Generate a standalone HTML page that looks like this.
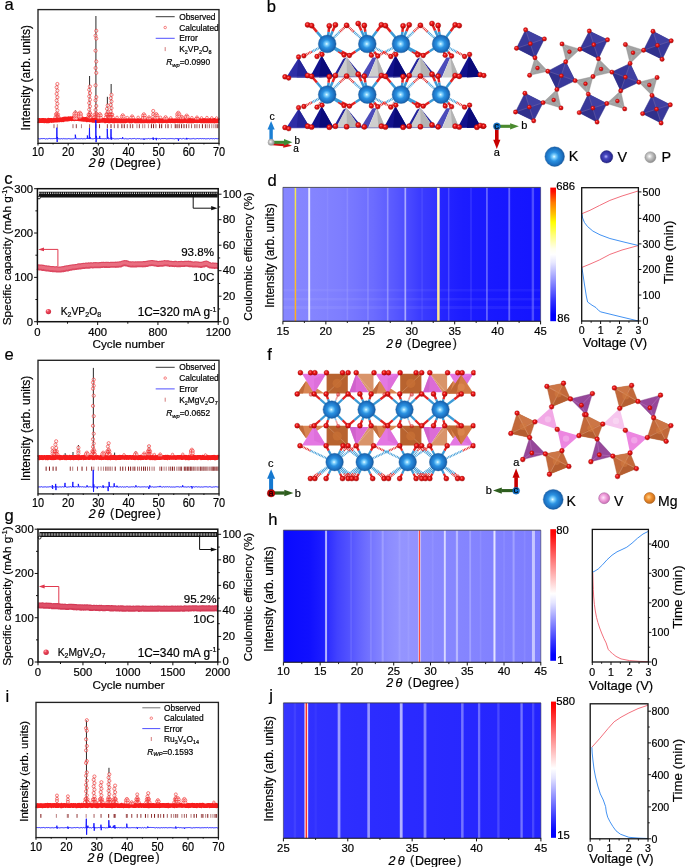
<!DOCTYPE html>
<html><head><meta charset="utf-8"><title>figure</title>
<style>
html,body{margin:0;padding:0;background:#fff;}
body{width:685px;height:867px;overflow:hidden;}
svg{display:block;font-family:"Liberation Sans",sans-serif;will-change:transform;}
text{stroke:#000;stroke-width:0.2px;paint-order:stroke;}
</style></head><body>
<svg width="685" height="867" viewBox="0 0 685 867">
<defs>
<filter id="bx" x="-5%" y="-5%" width="110%" height="110%"><feGaussianBlur stdDeviation="0.55 0"/></filter>
<radialGradient id="rb" cx="35%" cy="30%" r="75%"><stop offset="0" stop-color="#ffb0b8"/><stop offset="0.35" stop-color="#ee4a5c"/><stop offset="1" stop-color="#c8283e"/></radialGradient>
<linearGradient id="hm1" x1="0" y1="0" x2="1" y2="0"><stop offset="0" stop-color="#8686ff"/><stop offset="0.12" stop-color="#8484ff"/><stop offset="0.22" stop-color="#7e7eff"/><stop offset="0.28" stop-color="#7676ff"/><stop offset="0.35" stop-color="#6c6cff"/><stop offset="0.41" stop-color="#5e5eff"/><stop offset="0.48" stop-color="#4c4cff"/><stop offset="0.53" stop-color="#3c3cff"/><stop offset="0.6" stop-color="#3232ff"/><stop offset="0.61" stop-color="#2626ff"/><stop offset="0.7" stop-color="#1c1cff"/><stop offset="0.83" stop-color="#1818ff"/><stop offset="1" stop-color="#1414ff"/></linearGradient>
<linearGradient id="hm1l1646" x1="0" y1="0" x2="0" y2="1"><stop offset="0" stop-color="#f4ec50"/><stop offset="1" stop-color="#ffa818"/></linearGradient>
<linearGradient id="hm1l3310" x1="0" y1="0" x2="0" y2="1"><stop offset="0" stop-color="#fffad8"/><stop offset="1" stop-color="#ffe488"/></linearGradient>
<linearGradient id="cb1" x1="0" y1="0" x2="0" y2="1"><stop offset="0" stop-color="#ff0000"/><stop offset="0.03" stop-color="#ff1000"/><stop offset="0.11" stop-color="#ff7800"/><stop offset="0.2" stop-color="#ffc400"/><stop offset="0.26" stop-color="#ffff00"/><stop offset="0.36" stop-color="#ffff80"/><stop offset="0.46" stop-color="#fffff0"/><stop offset="0.5" stop-color="#ffffff"/><stop offset="0.56" stop-color="#e8e8ff"/><stop offset="0.7" stop-color="#9090ff"/><stop offset="0.85" stop-color="#3030ff"/><stop offset="0.95" stop-color="#0000ff"/><stop offset="1" stop-color="#0000ff"/></linearGradient>
<linearGradient id="hm2" x1="0" y1="0" x2="1" y2="0"><stop offset="0" stop-color="#0a0aff"/><stop offset="0.1" stop-color="#1010ff"/><stop offset="0.16" stop-color="#1e1eff"/><stop offset="0.18" stop-color="#3232ff"/><stop offset="0.21" stop-color="#4242ff"/><stop offset="0.26" stop-color="#5454ff"/><stop offset="0.31" stop-color="#6a6aff"/><stop offset="0.37" stop-color="#8080ff"/><stop offset="0.41" stop-color="#8c8cff"/><stop offset="0.46" stop-color="#9494ff"/><stop offset="0.53" stop-color="#9292ff"/><stop offset="0.54" stop-color="#8a8aff"/><stop offset="0.66" stop-color="#8686ff"/><stop offset="0.8" stop-color="#8282ff"/><stop offset="1" stop-color="#7e7eff"/></linearGradient>
<linearGradient id="cb2" x1="0" y1="0" x2="0" y2="1"><stop offset="0" stop-color="#ff0000"/><stop offset="0.04" stop-color="#ff0808"/><stop offset="0.25" stop-color="#ff8080"/><stop offset="0.4" stop-color="#ffd0d0"/><stop offset="0.49" stop-color="#ffffff"/><stop offset="0.56" stop-color="#e4e4ff"/><stop offset="0.7" stop-color="#9090ff"/><stop offset="0.85" stop-color="#3838ff"/><stop offset="0.95" stop-color="#0404ff"/><stop offset="1" stop-color="#0000ff"/></linearGradient>
<linearGradient id="hm3" x1="0" y1="0" x2="1" y2="0"><stop offset="0" stop-color="#3636ff"/><stop offset="0.12" stop-color="#3030ff"/><stop offset="0.35" stop-color="#2c2cff"/><stop offset="0.65" stop-color="#2828ff"/><stop offset="1" stop-color="#2424ff"/></linearGradient>
<linearGradient id="cb3" x1="0" y1="0" x2="0" y2="1"><stop offset="0" stop-color="#ff0000"/><stop offset="0.04" stop-color="#ff0808"/><stop offset="0.25" stop-color="#ff8080"/><stop offset="0.4" stop-color="#ffd0d0"/><stop offset="0.49" stop-color="#ffffff"/><stop offset="0.56" stop-color="#e4e4ff"/><stop offset="0.7" stop-color="#9090ff"/><stop offset="0.85" stop-color="#3838ff"/><stop offset="0.95" stop-color="#0404ff"/><stop offset="1" stop-color="#0000ff"/></linearGradient>
<radialGradient id="gK" cx="47%" cy="50%" r="55%"><stop offset="0" stop-color="#f0fbff"/><stop offset="0.14" stop-color="#8ad8ff"/><stop offset="0.42" stop-color="#2b92e2"/><stop offset="0.8" stop-color="#1a6cbc"/><stop offset="1" stop-color="#145292"/></radialGradient>
<radialGradient id="gO" cx="40%" cy="38%" r="65%"><stop offset="0" stop-color="#ff8a8a"/><stop offset="0.35" stop-color="#f01818"/><stop offset="1" stop-color="#b00808"/></radialGradient>
<radialGradient id="gV" cx="45%" cy="48%" r="58%"><stop offset="0" stop-color="#b8b8ff"/><stop offset="0.3" stop-color="#4848c0"/><stop offset="0.8" stop-color="#2a2a96"/><stop offset="1" stop-color="#20207a"/></radialGradient>
<radialGradient id="gP" cx="42%" cy="42%" r="60%"><stop offset="0" stop-color="#ffffff"/><stop offset="0.4" stop-color="#c4c4c4"/><stop offset="1" stop-color="#8a8a8a"/></radialGradient>
<radialGradient id="gVp" cx="42%" cy="45%" r="60%"><stop offset="0" stop-color="#ffe6fa"/><stop offset="0.45" stop-color="#f0a0dc"/><stop offset="1" stop-color="#c868b0"/></radialGradient>
<radialGradient id="gMg" cx="42%" cy="42%" r="60%"><stop offset="0" stop-color="#ffd08a"/><stop offset="0.45" stop-color="#f09030"/><stop offset="1" stop-color="#c06818"/></radialGradient>
</defs>
<rect width="685" height="867" fill="#fff"/>
<text x="4.6" y="9.6" font-size="16.6" text-anchor="start" fill="#000">a</text>
<text x="266.8" y="12.4" font-size="16.6" text-anchor="start" fill="#000">b</text>
<text x="4.2" y="184.4" font-size="16.6" text-anchor="start" fill="#000">c</text>
<text x="267.6" y="185.7" font-size="16.6" text-anchor="start" fill="#000">d</text>
<text x="4.6" y="359.6" font-size="16.6" text-anchor="start" fill="#000">e</text>
<text x="267.2" y="359.8" font-size="16.6" text-anchor="start" fill="#000">f</text>
<text x="4.4" y="521" font-size="16.6" text-anchor="start" fill="#000">g</text>
<text x="268.2" y="525" font-size="16.6" text-anchor="start" fill="#000">h</text>
<text x="5.4" y="702.4" font-size="16.6" text-anchor="start" fill="#000">i</text>
<text x="269.2" y="700.8" font-size="16.6" text-anchor="start" fill="#000">j</text>
<line x1="57.01" y1="120.7" x2="57.01" y2="84" stroke="#555" stroke-width="0.6"/>
<line x1="75.41" y1="120.7" x2="75.41" y2="110.5" stroke="#111" stroke-width="0.9"/>
<line x1="79.93" y1="120.7" x2="79.93" y2="112.7" stroke="#555" stroke-width="0.6"/>
<line x1="89.59" y1="120.7" x2="89.59" y2="76" stroke="#111" stroke-width="0.9"/>
<line x1="95.92" y1="120.7" x2="95.92" y2="16" stroke="#111" stroke-width="0.9"/>
<line x1="99.84" y1="120.7" x2="99.84" y2="114" stroke="#555" stroke-width="0.6"/>
<line x1="107.38" y1="120.7" x2="107.38" y2="96.8" stroke="#111" stroke-width="0.9"/>
<line x1="111.15" y1="120.7" x2="111.15" y2="84" stroke="#111" stroke-width="0.9"/>
<line x1="122.77" y1="120.7" x2="122.77" y2="115.2" stroke="#555" stroke-width="0.6"/>
<line x1="132.12" y1="120.7" x2="132.12" y2="116.2" stroke="#555" stroke-width="0.6"/>
<line x1="143.88" y1="120.7" x2="143.88" y2="114.2" stroke="#555" stroke-width="0.6"/>
<line x1="153.24" y1="120.7" x2="153.24" y2="111" stroke="#555" stroke-width="0.6"/>
<line x1="156.25" y1="120.7" x2="156.25" y2="114" stroke="#555" stroke-width="0.6"/>
<line x1="165.6" y1="120.7" x2="165.6" y2="117" stroke="#555" stroke-width="0.6"/>
<line x1="178.28" y1="120.7" x2="178.28" y2="112.8" stroke="#555" stroke-width="0.6"/>
<line x1="186.72" y1="120.7" x2="186.72" y2="115.5" stroke="#555" stroke-width="0.6"/>
<line x1="196.98" y1="120.7" x2="196.98" y2="117.2" stroke="#555" stroke-width="0.6"/>
<line x1="206.93" y1="120.7" x2="206.93" y2="117.6" stroke="#555" stroke-width="0.6"/>
<line x1="117.04" y1="120.7" x2="117.04" y2="117.4" stroke="#555" stroke-width="0.6"/>
<line x1="127.29" y1="120.7" x2="127.29" y2="117.6" stroke="#555" stroke-width="0.6"/>
<line x1="138.15" y1="120.7" x2="138.15" y2="117.4" stroke="#555" stroke-width="0.6"/>
<line x1="149.01" y1="120.7" x2="149.01" y2="117" stroke="#555" stroke-width="0.6"/>
<line x1="160.48" y1="120.7" x2="160.48" y2="117.4" stroke="#555" stroke-width="0.6"/>
<line x1="170.73" y1="120.7" x2="170.73" y2="117.8" stroke="#555" stroke-width="0.6"/>
<line x1="181.9" y1="120.7" x2="181.9" y2="116.6" stroke="#555" stroke-width="0.6"/>
<line x1="191.85" y1="120.7" x2="191.85" y2="117.6" stroke="#555" stroke-width="0.6"/>
<line x1="201.5" y1="120.7" x2="201.5" y2="117.8" stroke="#555" stroke-width="0.6"/>
<line x1="211.76" y1="120.7" x2="211.76" y2="117.8" stroke="#555" stroke-width="0.6"/>
<line x1="216.59" y1="120.7" x2="216.59" y2="117.9" stroke="#555" stroke-width="0.6"/>
<path d="M38 120.57 L38.5 120.45 L39 120.8 L39.5 120.39 L40 120.71 L40.5 120.59 L41 120.37 L41.5 120.69 L42 120.35 L42.5 120.63 L43 120.37 L43.5 120.38 L44 120.61 L44.5 120.88 L45 120.38 L45.5 120.45 L46 120.72 L46.5 120.94 L47 120.67 L47.5 120.53 L48 120.93 L48.5 120.26 L49 120.82 L49.5 120.4 L50 120.28 L50.5 120.25 L51 120.36 L51.5 120.69 L52 120.22 L52.5 120.48 L53 120.49 L53.5 120.28 L54 120.37 L54.5 119.99 L55 119.96 L55.5 120.02 L56 120.31 L56.5 120.09 L57 119.97 L57.5 120.11 L58 119.97 L58.5 119.82 L59 120.11 L59.5 119.99 L60 119.61 L60.5 119.79 L61 119.69 L61.5 119.88 L62 119.72 L62.5 119.35 L63 119.77 L63.5 119.1 L64 119.25 L64.5 119.43 L65 118.94 L65.5 119.11 L66 118.74 L66.5 119.12 L67 119.13 L67.5 118.95 L68 119.1 L68.5 118.66 L69 118.88 L69.5 118.77 L70 118.72 L70.5 118.6 L71 118.83 L71.5 118.88 L72 118.53 L72.5 118.64 L73 118.21 L73.5 118.65 L74 118.6 L74.5 118.85 L75 118.73 L75.5 118.37 L76 118.45 L76.5 118.67 L77 118.24 L77.5 118.58 L78 118.4 L78.5 118.4 L79 118.4 L79.5 118.94 L80 118.54 L80.5 118.68 L81 118.83 L81.5 119.22 L82 118.72 L82.5 119.04 L83 119.17 L83.5 119.46 L84 119.48 L84.5 119.57 L85 119.23 L85.5 119.39 L86 119.41 L86.5 119.84 L87 119.95 L87.5 119.44 L88 119.52 L88.5 119.62 L89 119.67 L89.5 119.9 L90 120.03 L90.5 119.85 L91 119.72 L91.5 120.05 L92 120.06 L92.5 120.24 L93 120.55 L93.5 120.41 L94 120.32 L94.5 120.42 L95 120.49 L95.5 120.09 L96 120.71 L96.5 120.65 L97 120.74 L97.5 120.71 L98 120.44 L98.5 120.47 L99 120.28 L99.5 120.66 L100 120.28 L100.5 120.29 L101 120.4 L101.5 120.38 L102 120.51 L102.5 120.32 L103 120.29 L103.5 120.41 L104 120.38 L104.5 120.57 L105 120.33 L105.5 120.93 L106 120.75 L106.5 120.43 L107 120.51 L107.5 120.58 L108 120.59 L108.5 120.42 L109 120.93 L109.5 121.04 L110 120.67 L110.5 120.68 L111 120.4 L111.5 120.42 L112 120.59 L112.5 120.53 L113 120.93 L113.5 120.46 L114 120.36 L114.5 121.01 L115 120.72 L115.5 120.45 L116 120.73 L116.5 120.37 L117 120.72 L117.5 121.03 L118 120.95 L118.5 120.84 L119 120.53 L119.5 120.61 L120 120.47 L120.5 120.89 L121 120.72 L121.5 120.9 L122 120.58 L122.5 120.51 L123 120.92 L123.5 121.04 L124 120.95 L124.5 120.91 L125 120.92 L125.5 120.87 L126 120.51 L126.5 120.71 L127 120.6 L127.5 120.37 L128 120.37 L128.5 120.55 L129 120.53 L129.5 120.83 L130 121.02 L130.5 120.66 L131 121.01 L131.5 121.04 L132 121.02 L132.5 120.61 L133 120.5 L133.5 120.51 L134 120.49 L134.5 120.49 L135 120.79 L135.5 120.98 L136 120.94 L136.5 120.69 L137 120.81 L137.5 120.91 L138 120.41 L138.5 120.81 L139 120.99 L139.5 120.9 L140 120.88 L140.5 120.68 L141 120.47 L141.5 120.9 L142 120.58 L142.5 120.91 L143 121.03 L143.5 120.63 L144 120.63 L144.5 121.01 L145 120.86 L145.5 120.47 L146 120.44 L146.5 120.46 L147 120.98 L147.5 120.91 L148 120.45 L148.5 120.93 L149 121.04 L149.5 120.81 L150 120.6 L150.5 120.73 L151 120.44 L151.5 120.36 L152 121.03 L152.5 120.8 L153 120.72 L153.5 121 L154 120.65 L154.5 120.96 L155 120.93 L155.5 120.5 L156 120.53 L156.5 120.56 L157 120.52 L157.5 120.76 L158 120.53 L158.5 120.64 L159 120.44 L159.5 120.99 L160 120.6 L160.5 120.67 L161 120.76 L161.5 120.98 L162 120.64 L162.5 120.99 L163 120.7 L163.5 120.72 L164 120.72 L164.5 120.36 L165 120.66 L165.5 120.48 L166 120.35 L166.5 120.91 L167 120.47 L167.5 120.68 L168 120.86 L168.5 120.74 L169 120.58 L169.5 120.71 L170 120.74 L170.5 120.9 L171 120.42 L171.5 120.74 L172 120.52 L172.5 120.54 L173 120.89 L173.5 120.71 L174 120.74 L174.5 120.88 L175 120.99 L175.5 120.66 L176 120.78 L176.5 120.7 L177 120.71 L177.5 120.83 L178 120.67 L178.5 120.72 L179 120.68 L179.5 121.01 L180 120.84 L180.5 120.96 L181 121.01 L181.5 120.53 L182 120.74 L182.5 121.01 L183 120.94 L183.5 120.45 L184 120.44 L184.5 120.66 L185 120.4 L185.5 120.52 L186 120.4 L186.5 120.82 L187 120.9 L187.5 120.98 L188 120.46 L188.5 120.85 L189 120.81 L189.5 120.45 L190 120.97 L190.5 121.03 L191 120.5 L191.5 121.02 L192 120.63 L192.5 120.69 L193 121.04 L193.5 120.93 L194 120.46 L194.5 120.65 L195 120.71 L195.5 120.59 L196 120.49 L196.5 120.57 L197 120.86 L197.5 120.36 L198 120.74 L198.5 120.66 L199 120.36 L199.5 120.58 L200 120.79 L200.5 120.71 L201 120.4 L201.5 121.04 L202 120.9 L202.5 121.03 L203 120.42 L203.5 120.54 L204 120.38 L204.5 120.9 L205 120.54 L205.5 120.44 L206 120.65 L206.5 120.99 L207 120.92 L207.5 120.53 L208 120.45 L208.5 120.99 L209 120.75 L209.5 120.84 L210 120.41 L210.5 120.39 L211 120.83 L211.5 120.65 L212 120.4 L212.5 121.01 L213 120.79 L213.5 120.91 L214 120.41 L214.5 120.95 L215 120.4 L215.5 120.95 L216 120.67 L216.5 120.59 L217 120.74 L217.5 121 L218 120.54 L218.5 120.44 L219 120.72" fill="none" stroke="#f81c1c" stroke-width="4.6" stroke-linejoin="round"/>
<circle cx="57.36" cy="84" r="1.6" fill="#fff" stroke="#f22a2a" stroke-width="0.62" fill-opacity="0.72"/>
<circle cx="56.66" cy="87.3" r="1.6" fill="#fff" stroke="#f22a2a" stroke-width="0.62" fill-opacity="0.72"/>
<circle cx="57.36" cy="90.6" r="1.6" fill="#fff" stroke="#f22a2a" stroke-width="0.62" fill-opacity="0.72"/>
<circle cx="56.66" cy="93.9" r="1.6" fill="#fff" stroke="#f22a2a" stroke-width="0.62" fill-opacity="0.72"/>
<circle cx="57.36" cy="97.2" r="1.6" fill="#fff" stroke="#f22a2a" stroke-width="0.62" fill-opacity="0.72"/>
<circle cx="56.66" cy="100.5" r="1.6" fill="#fff" stroke="#f22a2a" stroke-width="0.62" fill-opacity="0.72"/>
<circle cx="57.36" cy="103.8" r="1.6" fill="#fff" stroke="#f22a2a" stroke-width="0.62" fill-opacity="0.72"/>
<circle cx="56.66" cy="107.1" r="1.6" fill="#fff" stroke="#f22a2a" stroke-width="0.62" fill-opacity="0.72"/>
<circle cx="57.36" cy="110.4" r="1.6" fill="#fff" stroke="#f22a2a" stroke-width="0.62" fill-opacity="0.72"/>
<circle cx="56.66" cy="113.7" r="1.6" fill="#fff" stroke="#f22a2a" stroke-width="0.62" fill-opacity="0.72"/>
<circle cx="57.36" cy="116" r="1.6" fill="#fff" stroke="#f22a2a" stroke-width="0.62" fill-opacity="0.72"/>
<circle cx="55.41" cy="117.5" r="1.6" fill="none" stroke="#f22a2a" stroke-width="0.62"/>
<circle cx="58.61" cy="117.5" r="1.6" fill="none" stroke="#f22a2a" stroke-width="0.62"/>
<circle cx="56.01" cy="114.5" r="1.6" fill="none" stroke="#f22a2a" stroke-width="0.62"/>
<circle cx="58.01" cy="114.5" r="1.6" fill="none" stroke="#f22a2a" stroke-width="0.62"/>
<circle cx="75.41" cy="112.5" r="1.6" fill="#fff" stroke="#f22a2a" stroke-width="0.62" fill-opacity="0.72"/>
<circle cx="75.41" cy="114.8" r="1.6" fill="#fff" stroke="#f22a2a" stroke-width="0.62" fill-opacity="0.72"/>
<circle cx="75.41" cy="117.1" r="1.6" fill="#fff" stroke="#f22a2a" stroke-width="0.62" fill-opacity="0.72"/>
<circle cx="74.41" cy="113.9" r="1.6" fill="#fff" stroke="#f22a2a" stroke-width="0.6" fill-opacity="0.6"/>
<circle cx="76.41" cy="113.9" r="1.6" fill="#fff" stroke="#f22a2a" stroke-width="0.6" fill-opacity="0.6"/>
<circle cx="74.41" cy="116.2" r="1.6" fill="#fff" stroke="#f22a2a" stroke-width="0.6" fill-opacity="0.6"/>
<circle cx="76.41" cy="116.2" r="1.6" fill="#fff" stroke="#f22a2a" stroke-width="0.6" fill-opacity="0.6"/>
<circle cx="74.41" cy="118.5" r="1.6" fill="#fff" stroke="#f22a2a" stroke-width="0.6" fill-opacity="0.6"/>
<circle cx="76.41" cy="118.5" r="1.6" fill="#fff" stroke="#f22a2a" stroke-width="0.6" fill-opacity="0.6"/>
<circle cx="79.93" cy="112.7" r="1.6" fill="#fff" stroke="#f22a2a" stroke-width="0.62" fill-opacity="0.72"/>
<circle cx="79.93" cy="115" r="1.6" fill="#fff" stroke="#f22a2a" stroke-width="0.62" fill-opacity="0.72"/>
<circle cx="79.93" cy="117.3" r="1.6" fill="#fff" stroke="#f22a2a" stroke-width="0.62" fill-opacity="0.72"/>
<circle cx="78.93" cy="114.1" r="1.6" fill="#fff" stroke="#f22a2a" stroke-width="0.6" fill-opacity="0.6"/>
<circle cx="80.93" cy="114.1" r="1.6" fill="#fff" stroke="#f22a2a" stroke-width="0.6" fill-opacity="0.6"/>
<circle cx="78.93" cy="116.4" r="1.6" fill="#fff" stroke="#f22a2a" stroke-width="0.6" fill-opacity="0.6"/>
<circle cx="80.93" cy="116.4" r="1.6" fill="#fff" stroke="#f22a2a" stroke-width="0.6" fill-opacity="0.6"/>
<circle cx="89.94" cy="86.5" r="1.6" fill="#fff" stroke="#f22a2a" stroke-width="0.62" fill-opacity="0.72"/>
<circle cx="89.24" cy="89.8" r="1.6" fill="#fff" stroke="#f22a2a" stroke-width="0.62" fill-opacity="0.72"/>
<circle cx="89.94" cy="93.1" r="1.6" fill="#fff" stroke="#f22a2a" stroke-width="0.62" fill-opacity="0.72"/>
<circle cx="89.24" cy="96.4" r="1.6" fill="#fff" stroke="#f22a2a" stroke-width="0.62" fill-opacity="0.72"/>
<circle cx="89.94" cy="99.7" r="1.6" fill="#fff" stroke="#f22a2a" stroke-width="0.62" fill-opacity="0.72"/>
<circle cx="89.24" cy="103" r="1.6" fill="#fff" stroke="#f22a2a" stroke-width="0.62" fill-opacity="0.72"/>
<circle cx="89.94" cy="106.3" r="1.6" fill="#fff" stroke="#f22a2a" stroke-width="0.62" fill-opacity="0.72"/>
<circle cx="89.24" cy="109.6" r="1.6" fill="#fff" stroke="#f22a2a" stroke-width="0.62" fill-opacity="0.72"/>
<circle cx="89.94" cy="112.9" r="1.6" fill="#fff" stroke="#f22a2a" stroke-width="0.62" fill-opacity="0.72"/>
<circle cx="89.24" cy="115.2" r="1.6" fill="#fff" stroke="#f22a2a" stroke-width="0.62" fill-opacity="0.72"/>
<circle cx="89.94" cy="117.5" r="1.6" fill="#fff" stroke="#f22a2a" stroke-width="0.62" fill-opacity="0.72"/>
<circle cx="87.99" cy="117.5" r="1.6" fill="none" stroke="#f22a2a" stroke-width="0.62"/>
<circle cx="91.19" cy="117.5" r="1.6" fill="none" stroke="#f22a2a" stroke-width="0.62"/>
<circle cx="88.59" cy="114.5" r="1.6" fill="none" stroke="#f22a2a" stroke-width="0.62"/>
<circle cx="90.59" cy="114.5" r="1.6" fill="none" stroke="#f22a2a" stroke-width="0.62"/>
<circle cx="96.27" cy="30.8" r="1.6" fill="#fff" stroke="#f22a2a" stroke-width="0.62" fill-opacity="0.45"/>
<circle cx="95.57" cy="35.7" r="1.6" fill="#fff" stroke="#f22a2a" stroke-width="0.62" fill-opacity="0.45"/>
<circle cx="96.27" cy="38.6" r="1.6" fill="#fff" stroke="#f22a2a" stroke-width="0.62" fill-opacity="0.45"/>
<circle cx="95.57" cy="50.7" r="1.6" fill="#fff" stroke="#f22a2a" stroke-width="0.62" fill-opacity="0.45"/>
<circle cx="96.27" cy="61.5" r="1.6" fill="#fff" stroke="#f22a2a" stroke-width="0.62" fill-opacity="0.45"/>
<circle cx="95.57" cy="68" r="1.6" fill="#fff" stroke="#f22a2a" stroke-width="0.62" fill-opacity="0.45"/>
<circle cx="96.27" cy="72.9" r="1.6" fill="#fff" stroke="#f22a2a" stroke-width="0.62" fill-opacity="0.45"/>
<circle cx="95.57" cy="85.3" r="1.6" fill="#fff" stroke="#f22a2a" stroke-width="0.62" fill-opacity="0.45"/>
<circle cx="96.27" cy="97.1" r="1.6" fill="#fff" stroke="#f22a2a" stroke-width="0.62" fill-opacity="0.45"/>
<circle cx="95.57" cy="100.3" r="1.6" fill="#fff" stroke="#f22a2a" stroke-width="0.62" fill-opacity="0.45"/>
<circle cx="96.27" cy="106" r="1.6" fill="#fff" stroke="#f22a2a" stroke-width="0.62" fill-opacity="0.45"/>
<circle cx="95.57" cy="110" r="1.6" fill="#fff" stroke="#f22a2a" stroke-width="0.62" fill-opacity="0.45"/>
<circle cx="96.27" cy="113.6" r="1.6" fill="#fff" stroke="#f22a2a" stroke-width="0.62" fill-opacity="0.45"/>
<circle cx="95.57" cy="116.4" r="1.6" fill="#fff" stroke="#f22a2a" stroke-width="0.62" fill-opacity="0.45"/>
<circle cx="94.32" cy="117.5" r="1.6" fill="none" stroke="#f22a2a" stroke-width="0.62"/>
<circle cx="97.52" cy="117.5" r="1.6" fill="none" stroke="#f22a2a" stroke-width="0.62"/>
<circle cx="94.92" cy="114.5" r="1.6" fill="none" stroke="#f22a2a" stroke-width="0.62"/>
<circle cx="96.92" cy="114.5" r="1.6" fill="none" stroke="#f22a2a" stroke-width="0.62"/>
<circle cx="99.84" cy="114" r="1.5" fill="#fff" stroke="#f22a2a" stroke-width="0.62" fill-opacity="0.72"/>
<circle cx="99.84" cy="116.3" r="1.5" fill="#fff" stroke="#f22a2a" stroke-width="0.62" fill-opacity="0.72"/>
<circle cx="98.84" cy="115.4" r="1.5" fill="#fff" stroke="#f22a2a" stroke-width="0.6" fill-opacity="0.6"/>
<circle cx="100.84" cy="115.4" r="1.5" fill="#fff" stroke="#f22a2a" stroke-width="0.6" fill-opacity="0.6"/>
<circle cx="98.84" cy="117.7" r="1.5" fill="#fff" stroke="#f22a2a" stroke-width="0.6" fill-opacity="0.6"/>
<circle cx="100.84" cy="117.7" r="1.5" fill="#fff" stroke="#f22a2a" stroke-width="0.6" fill-opacity="0.6"/>
<circle cx="107.73" cy="105.5" r="1.6" fill="#fff" stroke="#f22a2a" stroke-width="0.62" fill-opacity="0.72"/>
<circle cx="107.03" cy="108.8" r="1.6" fill="#fff" stroke="#f22a2a" stroke-width="0.62" fill-opacity="0.72"/>
<circle cx="107.73" cy="112.1" r="1.6" fill="#fff" stroke="#f22a2a" stroke-width="0.62" fill-opacity="0.72"/>
<circle cx="107.03" cy="114.4" r="1.6" fill="#fff" stroke="#f22a2a" stroke-width="0.62" fill-opacity="0.72"/>
<circle cx="107.73" cy="116.7" r="1.6" fill="#fff" stroke="#f22a2a" stroke-width="0.62" fill-opacity="0.72"/>
<circle cx="105.78" cy="117.5" r="1.6" fill="none" stroke="#f22a2a" stroke-width="0.62"/>
<circle cx="108.98" cy="117.5" r="1.6" fill="none" stroke="#f22a2a" stroke-width="0.62"/>
<circle cx="106.38" cy="114.5" r="1.6" fill="none" stroke="#f22a2a" stroke-width="0.62"/>
<circle cx="108.38" cy="114.5" r="1.6" fill="none" stroke="#f22a2a" stroke-width="0.62"/>
<circle cx="111.5" cy="94.9" r="1.6" fill="#fff" stroke="#f22a2a" stroke-width="0.62" fill-opacity="0.72"/>
<circle cx="110.8" cy="98.2" r="1.6" fill="#fff" stroke="#f22a2a" stroke-width="0.62" fill-opacity="0.72"/>
<circle cx="111.5" cy="101.5" r="1.6" fill="#fff" stroke="#f22a2a" stroke-width="0.62" fill-opacity="0.72"/>
<circle cx="110.8" cy="104.8" r="1.6" fill="#fff" stroke="#f22a2a" stroke-width="0.62" fill-opacity="0.72"/>
<circle cx="111.5" cy="108.1" r="1.6" fill="#fff" stroke="#f22a2a" stroke-width="0.62" fill-opacity="0.72"/>
<circle cx="110.8" cy="111.4" r="1.6" fill="#fff" stroke="#f22a2a" stroke-width="0.62" fill-opacity="0.72"/>
<circle cx="111.5" cy="114.7" r="1.6" fill="#fff" stroke="#f22a2a" stroke-width="0.62" fill-opacity="0.72"/>
<circle cx="110.8" cy="117" r="1.6" fill="#fff" stroke="#f22a2a" stroke-width="0.62" fill-opacity="0.72"/>
<circle cx="109.55" cy="117.5" r="1.6" fill="none" stroke="#f22a2a" stroke-width="0.62"/>
<circle cx="112.75" cy="117.5" r="1.6" fill="none" stroke="#f22a2a" stroke-width="0.62"/>
<circle cx="110.15" cy="114.5" r="1.6" fill="none" stroke="#f22a2a" stroke-width="0.62"/>
<circle cx="112.15" cy="114.5" r="1.6" fill="none" stroke="#f22a2a" stroke-width="0.62"/>
<circle cx="122.77" cy="115.2" r="1.5" fill="#fff" stroke="#f22a2a" stroke-width="0.62" fill-opacity="0.72"/>
<circle cx="122.77" cy="117.5" r="1.5" fill="#fff" stroke="#f22a2a" stroke-width="0.62" fill-opacity="0.72"/>
<circle cx="121.77" cy="116.6" r="1.5" fill="#fff" stroke="#f22a2a" stroke-width="0.6" fill-opacity="0.6"/>
<circle cx="123.77" cy="116.6" r="1.5" fill="#fff" stroke="#f22a2a" stroke-width="0.6" fill-opacity="0.6"/>
<circle cx="132.12" cy="116.2" r="1.4" fill="#fff" stroke="#f22a2a" stroke-width="0.62" fill-opacity="0.72"/>
<circle cx="131.12" cy="117.6" r="1.4" fill="#fff" stroke="#f22a2a" stroke-width="0.6" fill-opacity="0.6"/>
<circle cx="133.12" cy="117.6" r="1.4" fill="#fff" stroke="#f22a2a" stroke-width="0.6" fill-opacity="0.6"/>
<circle cx="143.88" cy="114.2" r="1.5" fill="#fff" stroke="#f22a2a" stroke-width="0.62" fill-opacity="0.72"/>
<circle cx="143.88" cy="116.5" r="1.5" fill="#fff" stroke="#f22a2a" stroke-width="0.62" fill-opacity="0.72"/>
<circle cx="142.88" cy="115.6" r="1.5" fill="#fff" stroke="#f22a2a" stroke-width="0.6" fill-opacity="0.6"/>
<circle cx="144.88" cy="115.6" r="1.5" fill="#fff" stroke="#f22a2a" stroke-width="0.6" fill-opacity="0.6"/>
<circle cx="142.88" cy="117.9" r="1.5" fill="#fff" stroke="#f22a2a" stroke-width="0.6" fill-opacity="0.6"/>
<circle cx="144.88" cy="117.9" r="1.5" fill="#fff" stroke="#f22a2a" stroke-width="0.6" fill-opacity="0.6"/>
<circle cx="153.24" cy="111" r="1.6" fill="#fff" stroke="#f22a2a" stroke-width="0.62" fill-opacity="0.72"/>
<circle cx="153.24" cy="114.3" r="1.6" fill="#fff" stroke="#f22a2a" stroke-width="0.62" fill-opacity="0.72"/>
<circle cx="153.24" cy="116.6" r="1.6" fill="#fff" stroke="#f22a2a" stroke-width="0.62" fill-opacity="0.72"/>
<circle cx="156.25" cy="114" r="1.5" fill="#fff" stroke="#f22a2a" stroke-width="0.62" fill-opacity="0.72"/>
<circle cx="156.25" cy="116.3" r="1.5" fill="#fff" stroke="#f22a2a" stroke-width="0.62" fill-opacity="0.72"/>
<circle cx="155.25" cy="115.4" r="1.5" fill="#fff" stroke="#f22a2a" stroke-width="0.6" fill-opacity="0.6"/>
<circle cx="157.25" cy="115.4" r="1.5" fill="#fff" stroke="#f22a2a" stroke-width="0.6" fill-opacity="0.6"/>
<circle cx="155.25" cy="117.7" r="1.5" fill="#fff" stroke="#f22a2a" stroke-width="0.6" fill-opacity="0.6"/>
<circle cx="157.25" cy="117.7" r="1.5" fill="#fff" stroke="#f22a2a" stroke-width="0.6" fill-opacity="0.6"/>
<circle cx="165.6" cy="117" r="1.4" fill="#fff" stroke="#f22a2a" stroke-width="0.62" fill-opacity="0.72"/>
<circle cx="164.6" cy="118.4" r="1.4" fill="#fff" stroke="#f22a2a" stroke-width="0.6" fill-opacity="0.6"/>
<circle cx="166.6" cy="118.4" r="1.4" fill="#fff" stroke="#f22a2a" stroke-width="0.6" fill-opacity="0.6"/>
<circle cx="178.28" cy="112.8" r="1.6" fill="#fff" stroke="#f22a2a" stroke-width="0.62" fill-opacity="0.72"/>
<circle cx="178.28" cy="115.1" r="1.6" fill="#fff" stroke="#f22a2a" stroke-width="0.62" fill-opacity="0.72"/>
<circle cx="178.28" cy="117.4" r="1.6" fill="#fff" stroke="#f22a2a" stroke-width="0.62" fill-opacity="0.72"/>
<circle cx="177.28" cy="114.2" r="1.6" fill="#fff" stroke="#f22a2a" stroke-width="0.6" fill-opacity="0.6"/>
<circle cx="179.28" cy="114.2" r="1.6" fill="#fff" stroke="#f22a2a" stroke-width="0.6" fill-opacity="0.6"/>
<circle cx="177.28" cy="116.5" r="1.6" fill="#fff" stroke="#f22a2a" stroke-width="0.6" fill-opacity="0.6"/>
<circle cx="179.28" cy="116.5" r="1.6" fill="#fff" stroke="#f22a2a" stroke-width="0.6" fill-opacity="0.6"/>
<circle cx="186.72" cy="115.5" r="1.5" fill="#fff" stroke="#f22a2a" stroke-width="0.62" fill-opacity="0.72"/>
<circle cx="186.72" cy="117.8" r="1.5" fill="#fff" stroke="#f22a2a" stroke-width="0.62" fill-opacity="0.72"/>
<circle cx="185.72" cy="116.9" r="1.5" fill="#fff" stroke="#f22a2a" stroke-width="0.6" fill-opacity="0.6"/>
<circle cx="187.72" cy="116.9" r="1.5" fill="#fff" stroke="#f22a2a" stroke-width="0.6" fill-opacity="0.6"/>
<circle cx="196.98" cy="117.2" r="1.3" fill="#fff" stroke="#f22a2a" stroke-width="0.62" fill-opacity="0.72"/>
<circle cx="195.98" cy="118.6" r="1.3" fill="#fff" stroke="#f22a2a" stroke-width="0.6" fill-opacity="0.6"/>
<circle cx="197.98" cy="118.6" r="1.3" fill="#fff" stroke="#f22a2a" stroke-width="0.6" fill-opacity="0.6"/>
<circle cx="206.93" cy="117.6" r="1.3" fill="#fff" stroke="#f22a2a" stroke-width="0.62" fill-opacity="0.72"/>
<circle cx="117.04" cy="117.4" r="1.3" fill="#fff" stroke="#f22a2a" stroke-width="0.62" fill-opacity="0.72"/>
<circle cx="127.29" cy="117.6" r="1.3" fill="#fff" stroke="#f22a2a" stroke-width="0.62" fill-opacity="0.72"/>
<circle cx="138.15" cy="117.4" r="1.3" fill="#fff" stroke="#f22a2a" stroke-width="0.62" fill-opacity="0.72"/>
<circle cx="149.01" cy="117" r="1.3" fill="#fff" stroke="#f22a2a" stroke-width="0.62" fill-opacity="0.72"/>
<circle cx="148.01" cy="118.4" r="1.3" fill="#fff" stroke="#f22a2a" stroke-width="0.6" fill-opacity="0.6"/>
<circle cx="150.01" cy="118.4" r="1.3" fill="#fff" stroke="#f22a2a" stroke-width="0.6" fill-opacity="0.6"/>
<circle cx="160.48" cy="117.4" r="1.3" fill="#fff" stroke="#f22a2a" stroke-width="0.62" fill-opacity="0.72"/>
<circle cx="170.73" cy="117.8" r="1.2" fill="#fff" stroke="#f22a2a" stroke-width="0.62" fill-opacity="0.72"/>
<circle cx="181.9" cy="116.6" r="1.3" fill="#fff" stroke="#f22a2a" stroke-width="0.62" fill-opacity="0.72"/>
<circle cx="180.9" cy="118" r="1.3" fill="#fff" stroke="#f22a2a" stroke-width="0.6" fill-opacity="0.6"/>
<circle cx="182.9" cy="118" r="1.3" fill="#fff" stroke="#f22a2a" stroke-width="0.6" fill-opacity="0.6"/>
<circle cx="191.85" cy="117.6" r="1.2" fill="#fff" stroke="#f22a2a" stroke-width="0.62" fill-opacity="0.72"/>
<circle cx="201.5" cy="117.8" r="1.2" fill="#fff" stroke="#f22a2a" stroke-width="0.62" fill-opacity="0.72"/>
<circle cx="211.76" cy="117.8" r="1.2" fill="#fff" stroke="#f22a2a" stroke-width="0.62" fill-opacity="0.72"/>
<circle cx="216.59" cy="117.9" r="1.2" fill="#fff" stroke="#f22a2a" stroke-width="0.62" fill-opacity="0.72"/>
<line x1="53.99" y1="124.2" x2="53.99" y2="128.2" stroke="#801818" stroke-width="1.0" opacity="0.7"/>
<line x1="57.31" y1="124.2" x2="57.31" y2="128.2" stroke="#801818" stroke-width="1.0" opacity="0.55"/>
<line x1="72.99" y1="124.2" x2="72.99" y2="128.2" stroke="#801818" stroke-width="1.0" opacity="0.7"/>
<line x1="76.31" y1="124.2" x2="76.31" y2="128.2" stroke="#801818" stroke-width="1.0" opacity="0.85"/>
<line x1="81.44" y1="124.2" x2="81.44" y2="128.2" stroke="#801818" stroke-width="1.0" opacity="0.55"/>
<line x1="89.59" y1="124.2" x2="89.59" y2="128.2" stroke="#801818" stroke-width="1.0" opacity="0.7"/>
<line x1="95.92" y1="124.2" x2="95.92" y2="128.2" stroke="#801818" stroke-width="1.0" opacity="0.7"/>
<line x1="99.54" y1="124.2" x2="99.54" y2="128.2" stroke="#801818" stroke-width="1.0" opacity="0.85"/>
<line x1="107.38" y1="124.2" x2="107.38" y2="128.2" stroke="#801818" stroke-width="1.0" opacity="0.85"/>
<line x1="111" y1="124.2" x2="111" y2="128.2" stroke="#801818" stroke-width="1.0" opacity="1"/>
<line x1="114.32" y1="124.2" x2="114.32" y2="128.2" stroke="#801818" stroke-width="1.0" opacity="0.7"/>
<line x1="117.94" y1="124.2" x2="117.94" y2="128.2" stroke="#801818" stroke-width="1.0" opacity="0.85"/>
<line x1="121.86" y1="124.2" x2="121.86" y2="128.2" stroke="#801818" stroke-width="1.0" opacity="1"/>
<line x1="124.28" y1="124.2" x2="124.28" y2="128.2" stroke="#801818" stroke-width="1.0" opacity="1"/>
<line x1="127.29" y1="124.2" x2="127.29" y2="128.2" stroke="#801818" stroke-width="1.0" opacity="0.7"/>
<line x1="130.31" y1="124.2" x2="130.31" y2="128.2" stroke="#801818" stroke-width="1.0" opacity="0.85"/>
<line x1="132.72" y1="124.2" x2="132.72" y2="128.2" stroke="#801818" stroke-width="1.0" opacity="0.85"/>
<line x1="136.95" y1="124.2" x2="136.95" y2="128.2" stroke="#801818" stroke-width="1.0" opacity="0.55"/>
<line x1="139.36" y1="124.2" x2="139.36" y2="128.2" stroke="#801818" stroke-width="1.0" opacity="0.85"/>
<line x1="142.68" y1="124.2" x2="142.68" y2="128.2" stroke="#801818" stroke-width="1.0" opacity="0.55"/>
<line x1="144.79" y1="124.2" x2="144.79" y2="128.2" stroke="#801818" stroke-width="1.0" opacity="0.55"/>
<line x1="148.41" y1="124.2" x2="148.41" y2="128.2" stroke="#801818" stroke-width="1.0" opacity="0.55"/>
<line x1="151.43" y1="124.2" x2="151.43" y2="128.2" stroke="#801818" stroke-width="1.0" opacity="1"/>
<line x1="153.54" y1="124.2" x2="153.54" y2="128.2" stroke="#801818" stroke-width="1.0" opacity="1"/>
<line x1="155.95" y1="124.2" x2="155.95" y2="128.2" stroke="#801818" stroke-width="1.0" opacity="0.7"/>
<line x1="159.57" y1="124.2" x2="159.57" y2="128.2" stroke="#801818" stroke-width="1.0" opacity="1"/>
<line x1="161.68" y1="124.2" x2="161.68" y2="128.2" stroke="#801818" stroke-width="1.0" opacity="1"/>
<line x1="165.6" y1="124.2" x2="165.6" y2="128.2" stroke="#801818" stroke-width="1.0" opacity="0.7"/>
<line x1="168.02" y1="124.2" x2="168.02" y2="128.2" stroke="#801818" stroke-width="1.0" opacity="1"/>
<line x1="171.34" y1="124.2" x2="171.34" y2="128.2" stroke="#801818" stroke-width="1.0" opacity="0.55"/>
<line x1="175.26" y1="124.2" x2="175.26" y2="128.2" stroke="#801818" stroke-width="1.0" opacity="1"/>
<line x1="177.07" y1="124.2" x2="177.07" y2="128.2" stroke="#801818" stroke-width="1.0" opacity="1"/>
<line x1="179.18" y1="124.2" x2="179.18" y2="128.2" stroke="#801818" stroke-width="1.0" opacity="1"/>
<line x1="181.59" y1="124.2" x2="181.59" y2="128.2" stroke="#801818" stroke-width="1.0" opacity="1"/>
<line x1="184.01" y1="124.2" x2="184.01" y2="128.2" stroke="#801818" stroke-width="1.0" opacity="1"/>
<line x1="186.42" y1="124.2" x2="186.42" y2="128.2" stroke="#801818" stroke-width="1.0" opacity="0.85"/>
<line x1="188.83" y1="124.2" x2="188.83" y2="128.2" stroke="#801818" stroke-width="1.0" opacity="0.7"/>
<line x1="191.55" y1="124.2" x2="191.55" y2="128.2" stroke="#801818" stroke-width="1.0" opacity="0.7"/>
<line x1="194.87" y1="124.2" x2="194.87" y2="128.2" stroke="#801818" stroke-width="1.0" opacity="0.85"/>
<line x1="196.98" y1="124.2" x2="196.98" y2="128.2" stroke="#801818" stroke-width="1.0" opacity="0.7"/>
<line x1="199.39" y1="124.2" x2="199.39" y2="128.2" stroke="#801818" stroke-width="1.0" opacity="0.7"/>
<line x1="202.41" y1="124.2" x2="202.41" y2="128.2" stroke="#801818" stroke-width="1.0" opacity="1"/>
<line x1="205.42" y1="124.2" x2="205.42" y2="128.2" stroke="#801818" stroke-width="1.0" opacity="0.85"/>
<line x1="207.23" y1="124.2" x2="207.23" y2="128.2" stroke="#801818" stroke-width="1.0" opacity="0.55"/>
<line x1="209.35" y1="124.2" x2="209.35" y2="128.2" stroke="#801818" stroke-width="1.0" opacity="0.7"/>
<line x1="211.76" y1="124.2" x2="211.76" y2="128.2" stroke="#801818" stroke-width="1.0" opacity="0.55"/>
<line x1="213.87" y1="124.2" x2="213.87" y2="128.2" stroke="#801818" stroke-width="1.0" opacity="0.55"/>
<line x1="215.98" y1="124.2" x2="215.98" y2="128.2" stroke="#801818" stroke-width="1.0" opacity="0.85"/>
<line x1="217.79" y1="124.2" x2="217.79" y2="128.2" stroke="#801818" stroke-width="1.0" opacity="1"/>
<path d="M38 138.53 L38.6 138.49 L39.2 138.87 L39.8 138.89 L40.41 138.79 L41.01 138.59 L41.61 138.57 L42.21 138.6 L42.81 138.68 L43.41 138.53 L44.01 138.67 L44.61 138.58 L45.22 138.93 L45.82 138.94 L46.42 138.72 L47.02 138.57 L47.62 138.93 L48.22 138.6 L48.82 138.63 L49.43 138.45 L50.03 138.64 L50.63 138.69 L51.23 138.7 L51.83 138.55 L52.43 138.7 L53.03 138.45 L53.63 138.58 L54.24 138.49 L54.84 138.65 L55.44 138.47 L56.04 138.46 L56.61 138.7 L56.64 138.6 L56.89 127.7 L57.16 142 L57.24 138.57 L57.46 137.05 L57.84 138.74 L57.91 138.7 L58.45 138.71 L59.05 138.83 L59.65 138.78 L60.25 138.81 L60.85 138.89 L61.45 138.64 L62.05 138.61 L62.65 138.94 L63.26 138.52 L63.86 138.81 L64.46 138.77 L65.06 138.47 L65.66 138.87 L66.26 138.9 L66.86 138.76 L67.47 138.82 L68.07 138.86 L68.67 138.52 L69.27 138.71 L69.87 138.7 L70.47 138.87 L71.07 138.85 L71.67 138.86 L72.28 138.74 L72.88 138.9 L73.48 138.79 L74.08 138.8 L74.68 138.56 L75.01 138.7 L75.28 138.47 L75.29 134.7 L75.86 138.1 L75.88 138.52 L76.31 138.7 L76.49 138.63 L77.09 138.5 L77.69 138.87 L78.29 138.73 L78.89 138.76 L79.49 138.76 L80.09 138.79 L80.69 138.69 L81.3 138.45 L81.9 138.85 L82.5 138.82 L83.1 138.7 L83.7 138.72 L84.3 138.78 L84.9 138.48 L85.5 138.82 L86.11 138.58 L86.71 138.49 L87.07 138.7 L87.31 138.58 L87.35 135.5 L87.91 138.81 L87.92 138.22 L88.37 138.7 L88.51 138.55 L89.11 138.82 L89.19 138.7 L89.47 128 L89.71 138.94 L90.04 137.09 L90.32 138.7 L90.49 138.7 L90.92 138.64 L91.52 138.69 L92.12 138.79 L92.72 138.83 L93.32 138.76 L93.92 138.77 L94.52 138.49 L95.13 138.52 L95.52 138.7 L95.73 138.58 L95.8 120.2 L96.08 142.2 L96.33 138.82 L96.37 135.92 L96.82 138.7 L96.93 138.6 L97.53 138.73 L98.13 138.46 L98.73 138.48 L99.34 138.58 L99.44 138.7 L99.72 135.9 L99.94 138.79 L100.29 138.28 L100.54 138.8 L100.74 138.7 L101.14 138.79 L101.74 138.6 L102.34 138.71 L102.94 138.68 L103.54 138.68 L104.15 138.51 L104.75 138.9 L105.35 138.55 L105.95 138.94 L106.55 138.92 L106.98 138.7 L107.15 138.46 L107.26 128.7 L107.75 138.68 L107.83 137.2 L108.28 138.7 L108.36 138.86 L108.96 138.93 L109.56 138.67 L110.16 138.58 L110.75 138.7 L110.76 138.55 L111.03 129 L111.31 139.7 L111.36 138.92 L111.6 137.24 L111.96 138.56 L112.05 138.7 L112.56 138.74 L113.17 138.52 L113.77 138.71 L114.37 138.93 L114.97 138.52 L115.57 138.86 L116.17 138.7 L116.77 138.89 L117.38 138.8 L117.98 138.57 L118.58 138.9 L119.18 138.69 L119.78 138.46 L120.38 138.45 L120.98 138.7 L121.58 138.68 L122.19 138.6 L122.37 138.7 L122.65 137.2 L122.79 138.52 L123.22 138.47 L123.39 138.62 L123.67 138.7 L123.99 138.61 L124.59 138.87 L125.19 138.45 L125.79 138.83 L126.4 138.87 L127 138.51 L127.6 138.91 L128.2 138.81 L128.8 138.9 L129.4 138.59 L130 138.64 L130.6 138.65 L131.21 138.95 L131.81 138.74 L132.41 138.63 L133.01 138.66 L133.61 138.59 L134.21 138.47 L134.81 138.5 L135.42 138.87 L136.02 138.59 L136.62 138.92 L137.22 138.57 L137.82 138.58 L138.42 138.71 L139.02 138.54 L139.62 138.64 L140.23 138.93 L140.83 138.89 L141.43 138.86 L142.03 138.77 L142.63 138.91 L143.23 138.92 L143.48 138.7 L143.76 138.7 L143.83 138.72 L144.04 139.9 L144.33 138.7 L144.44 138.81 L144.78 138.7 L145.04 138.47 L145.64 138.82 L146.24 138.68 L146.84 138.83 L147.44 138.77 L148.04 138.59 L148.64 138.47 L149.25 138.91 L149.85 138.51 L150.45 138.69 L151.05 138.62 L151.65 138.6 L152.25 138.82 L152.84 138.7 L152.85 138.94 L153.12 137.5 L153.4 139.9 L153.46 138.58 L153.69 138.52 L154.06 138.78 L154.14 138.7 L154.66 138.6 L155.26 138.73 L155.85 138.7 L155.86 138.65 L156.13 137.9 L156.41 140.2 L156.46 138.53 L156.7 138.58 L157.06 138.53 L157.15 138.7 L157.66 138.55 L158.27 138.9 L158.87 138.7 L159.47 138.56 L160.07 138.9 L160.67 138.95 L161.27 138.67 L161.87 138.52 L162.48 138.55 L163.08 138.5 L163.68 138.62 L164.28 138.5 L164.88 138.57 L165.48 138.58 L166.08 138.73 L166.68 138.89 L167.29 138.82 L167.89 138.66 L168.49 138.66 L169.09 138.71 L169.69 138.64 L170.29 138.62 L170.89 138.48 L171.5 138.59 L172.1 138.93 L172.7 138.51 L173.3 138.7 L173.9 138.76 L174.5 138.88 L175.1 138.56 L175.7 138.59 L176.31 138.57 L176.91 138.65 L177.51 138.67 L177.88 138.7 L178.11 138.93 L178.16 138.7 L178.44 140.9 L178.71 138.87 L178.72 138.7 L179.18 138.7 L179.31 138.89 L179.91 138.46 L180.51 138.47 L181.12 138.8 L181.72 138.9 L182.32 138.69 L182.92 138.74 L183.52 138.45 L184.12 138.65 L184.72 138.91 L185.33 138.86 L185.93 138.88 L186.32 138.7 L186.53 138.94 L186.6 137.9 L186.88 139.5 L187.13 138.57 L187.17 138.58 L187.62 138.7 L187.73 138.5 L188.33 138.53 L188.93 138.71 L189.53 138.79 L190.14 138.92 L190.74 138.81 L191.34 138.77 L191.94 138.83 L192.54 138.68 L193.14 138.73 L193.74 138.47 L194.35 138.84 L194.95 138.57 L195.55 138.91 L196.15 138.77 L196.75 138.6 L197.35 138.51 L197.95 138.58 L198.55 138.77 L199.16 138.8 L199.76 138.51 L200.36 138.49 L200.96 138.71 L201.56 138.74 L202.16 138.64 L202.76 138.56 L203.37 138.75 L203.97 138.46 L204.57 138.6 L205.17 138.68 L205.77 138.93 L206.37 138.77 L206.97 138.89 L207.57 138.69 L208.18 138.57 L208.78 138.57 L209.38 138.93 L209.98 138.8 L210.58 138.6 L211.18 138.46 L211.78 138.7 L212.39 138.79 L212.99 138.66 L213.59 138.58 L214.19 138.78 L214.79 138.91 L215.39 138.56 L215.99 138.47 L216.59 138.62 L217.2 138.66 L217.8 138.79 L218.4 138.55 L219 138.85" fill="none" stroke="#1414ff" stroke-width="0.95" stroke-linejoin="round"/>
<rect x="38" y="9.6" width="181" height="133.7" fill="none" stroke="#222" stroke-width="1.35"/>
<line x1="38" y1="143" x2="38" y2="145.5" stroke="#111" stroke-width="1.0"/>
<line x1="53.08" y1="143" x2="53.08" y2="144.4" stroke="#111" stroke-width="1.0"/>
<line x1="68.17" y1="143" x2="68.17" y2="145.5" stroke="#111" stroke-width="1.0"/>
<line x1="83.25" y1="143" x2="83.25" y2="144.4" stroke="#111" stroke-width="1.0"/>
<line x1="98.33" y1="143" x2="98.33" y2="145.5" stroke="#111" stroke-width="1.0"/>
<line x1="113.42" y1="143" x2="113.42" y2="144.4" stroke="#111" stroke-width="1.0"/>
<line x1="128.5" y1="143" x2="128.5" y2="145.5" stroke="#111" stroke-width="1.0"/>
<line x1="143.58" y1="143" x2="143.58" y2="144.4" stroke="#111" stroke-width="1.0"/>
<line x1="158.67" y1="143" x2="158.67" y2="145.5" stroke="#111" stroke-width="1.0"/>
<line x1="173.75" y1="143" x2="173.75" y2="144.4" stroke="#111" stroke-width="1.0"/>
<line x1="188.83" y1="143" x2="188.83" y2="145.5" stroke="#111" stroke-width="1.0"/>
<line x1="203.92" y1="143" x2="203.92" y2="144.4" stroke="#111" stroke-width="1.0"/>
<line x1="219" y1="143" x2="219" y2="145.5" stroke="#111" stroke-width="1.0"/>
<text transform="translate(38 155.9) scale(0.88 1)" font-size="12.4" text-anchor="middle">10</text>
<text transform="translate(68.17 155.9) scale(0.88 1)" font-size="12.4" text-anchor="middle">20</text>
<text transform="translate(98.33 155.9) scale(0.88 1)" font-size="12.4" text-anchor="middle">30</text>
<text transform="translate(128.5 155.9) scale(0.88 1)" font-size="12.4" text-anchor="middle">40</text>
<text transform="translate(158.67 155.9) scale(0.88 1)" font-size="12.4" text-anchor="middle">50</text>
<text transform="translate(188.83 155.9) scale(0.88 1)" font-size="12.4" text-anchor="middle">60</text>
<text transform="translate(219 155.9) scale(0.88 1)" font-size="12.4" text-anchor="middle">70</text>
<text x="97.7" y="167.3" font-size="12.4" text-anchor="middle" fill="#000" font-style="italic" letter-spacing="2.2">2&#952;</text>
<text x="112" y="166.7" font-size="12.648000000000001" text-anchor="middle" fill="#222">(</text>
<text x="135.3" y="167.3" font-size="12.4" text-anchor="middle" fill="#000">Degree</text>
<text x="158.9" y="166.7" font-size="12.648000000000001" text-anchor="middle" fill="#222">)</text>
<text x="30.3" y="77.75" font-size="12.0" text-anchor="middle" fill="#000" transform="rotate(-90 30.3 77.75)">Intensity (arb. units)</text>
<line x1="155.7" y1="16.7" x2="174.7" y2="16.7" stroke="#222" stroke-width="0.9"/>
<text x="179.2" y="19.7" font-size="8.4" text-anchor="start" fill="#000">Observed</text>
<circle cx="165.2" cy="27.5" r="1.25" fill="none" stroke="#f02020" stroke-width="0.55"/>
<text x="179.2" y="30.5" font-size="8.4" text-anchor="start" fill="#000">Calculated</text>
<line x1="155.7" y1="38.3" x2="174.7" y2="38.3" stroke="#3c3cff" stroke-width="0.9"/>
<text x="179.2" y="41.3" font-size="8.4" text-anchor="start" fill="#000">Error</text>
<line x1="165.2" y1="47.1" x2="165.2" y2="51.1" stroke="#c04040" stroke-width="0.7"/>
<text x="179.2" y="52.1" font-size="8.4" text-anchor="start" fill="#000"><tspan dy="0" font-size="8.4">K</tspan><tspan dy="1.8" font-size="5.46">2</tspan><tspan dy="-1.8" font-size="8.4">VP</tspan><tspan dy="1.8" font-size="5.46">2</tspan><tspan dy="-1.8" font-size="8.4">O</tspan><tspan dy="1.8" font-size="5.46">8</tspan></text>
<text x="166.2" y="65.1" font-size="8.4" text-anchor="start" fill="#000"><tspan font-style="italic">R</tspan><tspan dy="1.8" font-size="5.8" font-style="italic">wp</tspan><tspan dy="-1.8">=0.0990</tspan></text>
<path d="M37.4 267.12 L38.15 267.34 L38.91 267.32 L39.66 267.51 L40.41 267.6 L41.17 267.4 L41.92 267.46 L42.67 267.96 L43.43 267.77 L44.18 267.86 L44.93 268.34 L45.69 268.18 L46.44 268.46 L47.19 268.39 L47.95 268.57 L48.7 268.43 L49.45 268.77 L50.21 268.98 L50.96 268.9 L51.71 269.1 L52.47 269.14 L53.22 268.91 L53.97 269.33 L54.73 269.3 L55.48 269.2 L56.23 269.1 L56.99 269.55 L57.74 269.37 L58.49 269.5 L59.25 269.57 L60 269.47 L60.75 269.5 L61.51 269.16 L62.26 269.27 L63.01 269 L63.77 269.13 L64.52 268.99 L65.27 268.48 L66.03 268.37 L66.78 268.28 L67.53 268.52 L68.29 268.12 L69.04 268.08 L69.79 267.77 L70.55 267.74 L71.3 267.54 L72.05 267.38 L72.81 267.36 L73.56 267.23 L74.31 267.26 L75.07 267.02 L75.82 267.03 L76.57 266.88 L77.33 266.83 L78.08 266.57 L78.83 266.22 L79.59 266.47 L80.34 266.43 L81.09 266.32 L81.85 266.07 L82.6 266.07 L83.35 265.75 L84.11 266 L84.86 265.81 L85.61 265.61 L86.37 265.44 L87.12 265.79 L87.87 265.81 L88.63 265.32 L89.38 265.63 L90.13 265.4 L90.89 265.23 L91.64 265.27 L92.39 265.48 L93.15 265.5 L93.9 265.05 L94.65 265.31 L95.41 265 L96.16 265.31 L96.91 265.09 L97.67 265.34 L98.42 265.37 L99.17 265.11 L99.93 265.33 L100.68 264.97 L101.43 264.83 L102.19 265.07 L102.94 264.77 L103.69 264.83 L104.45 264.91 L105.2 265 L105.95 264.75 L106.71 264.67 L107.46 265.07 L108.21 264.77 L108.97 265.08 L109.72 265.03 L110.47 264.75 L111.23 264.78 L111.98 264.79 L112.73 264.84 L113.49 264.8 L114.24 264.76 L114.99 264.78 L115.75 264.92 L116.5 264.68 L117.25 264.61 L118.01 264.71 L118.76 264.41 L119.51 264.34 L120.27 264.54 L121.02 264.12 L121.77 263.91 L122.53 263.4 L123.28 263.38 L124.03 263.31 L124.79 262.96 L125.54 263.3 L126.29 263.44 L127.05 263.35 L127.8 263.84 L128.55 263.96 L129.31 264.23 L130.06 264.18 L130.81 264.43 L131.57 264.49 L132.32 264.15 L133.07 264.17 L133.83 264.47 L134.58 264.61 L135.33 264.24 L136.09 264.33 L136.84 264.39 L137.59 264.25 L138.35 264.26 L139.1 264.22 L139.85 264.24 L140.61 264.34 L141.36 264.18 L142.11 264.21 L142.87 264.38 L143.62 263.98 L144.37 264.22 L145.13 264.24 L145.88 263.95 L146.63 263.8 L147.39 263.96 L148.14 263.52 L148.89 263.33 L149.65 263.29 L150.4 263.29 L151.15 262.9 L151.91 262.97 L152.66 263 L153.41 263.33 L154.17 263.25 L154.92 263.6 L155.67 263.41 L156.43 263.63 L157.18 263.9 L157.93 264.1 L158.69 263.92 L159.44 263.82 L160.19 263.73 L160.95 263.87 L161.7 263.58 L162.45 263.75 L163.21 263.61 L163.96 263.14 L164.71 263.09 L165.47 263.31 L166.22 263.26 L166.97 263.43 L167.73 263.33 L168.48 263.37 L169.23 263.58 L169.99 263.95 L170.74 263.76 L171.49 263.85 L172.25 263.92 L173 263.93 L173.75 263.93 L174.51 264.18 L175.26 263.8 L176.01 263.72 L176.77 264.18 L177.52 264.15 L178.27 264.2 L179.03 263.92 L179.78 264.17 L180.53 264.15 L181.29 263.8 L182.04 264.05 L182.79 264.09 L183.55 264 L184.3 263.93 L185.05 263.81 L185.81 263.83 L186.56 263.77 L187.31 263.68 L188.07 263.94 L188.82 263.84 L189.57 264.16 L190.33 263.82 L191.08 264.31 L191.83 264.25 L192.59 264.42 L193.34 264.46 L194.09 264.51 L194.85 264.4 L195.6 264.17 L196.35 264.59 L197.11 264.35 L197.86 264.47 L198.61 264.7 L199.37 264.68 L200.12 264.67 L200.87 264.96 L201.63 264.79 L202.38 264.58 L203.13 264.36 L203.89 264.4 L204.64 263.89 L205.39 263.8 L206.15 263.52 L206.9 263.61 L207.65 264.13 L208.41 264.69 L209.16 264.74 L209.91 265.33 L210.67 265.58 L211.42 265.63 L212.17 265.72 L212.93 265.37 L213.68 265.74 L214.43 265.91 L215.19 265.56 L215.94 265.72 L216.69 265.77 L217.45 265.95 L218.2 265.96" fill="none" stroke="#dc4860" stroke-width="6.0" stroke-linejoin="round" stroke-linecap="butt"/>
<path d="M37.4 266.82 L38.15 267.04 L38.91 267.02 L39.66 267.21 L40.41 267.3 L41.17 267.1 L41.92 267.16 L42.67 267.66 L43.43 267.47 L44.18 267.56 L44.93 268.04 L45.69 267.88 L46.44 268.16 L47.19 268.09 L47.95 268.27 L48.7 268.13 L49.45 268.47 L50.21 268.68 L50.96 268.6 L51.71 268.8 L52.47 268.84 L53.22 268.61 L53.97 269.03 L54.73 269 L55.48 268.9 L56.23 268.8 L56.99 269.25 L57.74 269.07 L58.49 269.2 L59.25 269.27 L60 269.17 L60.75 269.2 L61.51 268.86 L62.26 268.97 L63.01 268.7 L63.77 268.83 L64.52 268.69 L65.27 268.18 L66.03 268.07 L66.78 267.98 L67.53 268.22 L68.29 267.82 L69.04 267.78 L69.79 267.47 L70.55 267.44 L71.3 267.24 L72.05 267.08 L72.81 267.06 L73.56 266.93 L74.31 266.96 L75.07 266.72 L75.82 266.73 L76.57 266.58 L77.33 266.53 L78.08 266.27 L78.83 265.92 L79.59 266.17 L80.34 266.13 L81.09 266.02 L81.85 265.77 L82.6 265.77 L83.35 265.45 L84.11 265.7 L84.86 265.51 L85.61 265.31 L86.37 265.14 L87.12 265.49 L87.87 265.51 L88.63 265.02 L89.38 265.33 L90.13 265.1 L90.89 264.93 L91.64 264.97 L92.39 265.18 L93.15 265.2 L93.9 264.75 L94.65 265.01 L95.41 264.7 L96.16 265.01 L96.91 264.79 L97.67 265.04 L98.42 265.07 L99.17 264.81 L99.93 265.03 L100.68 264.67 L101.43 264.53 L102.19 264.77 L102.94 264.47 L103.69 264.53 L104.45 264.61 L105.2 264.7 L105.95 264.45 L106.71 264.37 L107.46 264.77 L108.21 264.47 L108.97 264.78 L109.72 264.73 L110.47 264.45 L111.23 264.48 L111.98 264.49 L112.73 264.54 L113.49 264.5 L114.24 264.46 L114.99 264.48 L115.75 264.62 L116.5 264.38 L117.25 264.31 L118.01 264.41 L118.76 264.11 L119.51 264.04 L120.27 264.24 L121.02 263.82 L121.77 263.61 L122.53 263.1 L123.28 263.08 L124.03 263.01 L124.79 262.66 L125.54 263 L126.29 263.14 L127.05 263.05 L127.8 263.54 L128.55 263.66 L129.31 263.93 L130.06 263.88 L130.81 264.13 L131.57 264.19 L132.32 263.85 L133.07 263.87 L133.83 264.17 L134.58 264.31 L135.33 263.94 L136.09 264.03 L136.84 264.09 L137.59 263.95 L138.35 263.96 L139.1 263.92 L139.85 263.94 L140.61 264.04 L141.36 263.88 L142.11 263.91 L142.87 264.08 L143.62 263.68 L144.37 263.92 L145.13 263.94 L145.88 263.65 L146.63 263.5 L147.39 263.66 L148.14 263.22 L148.89 263.03 L149.65 262.99 L150.4 262.99 L151.15 262.6 L151.91 262.67 L152.66 262.7 L153.41 263.03 L154.17 262.95 L154.92 263.3 L155.67 263.11 L156.43 263.33 L157.18 263.6 L157.93 263.8 L158.69 263.62 L159.44 263.52 L160.19 263.43 L160.95 263.57 L161.7 263.28 L162.45 263.45 L163.21 263.31 L163.96 262.84 L164.71 262.79 L165.47 263.01 L166.22 262.96 L166.97 263.13 L167.73 263.03 L168.48 263.07 L169.23 263.28 L169.99 263.65 L170.74 263.46 L171.49 263.55 L172.25 263.62 L173 263.63 L173.75 263.63 L174.51 263.88 L175.26 263.5 L176.01 263.42 L176.77 263.88 L177.52 263.85 L178.27 263.9 L179.03 263.62 L179.78 263.87 L180.53 263.85 L181.29 263.5 L182.04 263.75 L182.79 263.79 L183.55 263.7 L184.3 263.63 L185.05 263.51 L185.81 263.53 L186.56 263.47 L187.31 263.38 L188.07 263.64 L188.82 263.54 L189.57 263.86 L190.33 263.52 L191.08 264.01 L191.83 263.95 L192.59 264.12 L193.34 264.16 L194.09 264.21 L194.85 264.1 L195.6 263.87 L196.35 264.29 L197.11 264.05 L197.86 264.17 L198.61 264.4 L199.37 264.38 L200.12 264.37 L200.87 264.66 L201.63 264.49 L202.38 264.28 L203.13 264.06 L203.89 264.1 L204.64 263.59 L205.39 263.5 L206.15 263.22 L206.9 263.31 L207.65 263.83 L208.41 264.39 L209.16 264.44 L209.91 265.03 L210.67 265.28 L211.42 265.33 L212.17 265.42 L212.93 265.07 L213.68 265.44 L214.43 265.61 L215.19 265.26 L215.94 265.42 L216.69 265.47 L217.45 265.65 L218.2 265.66" fill="none" stroke="#e96e80" stroke-width="3.0" stroke-linejoin="round" stroke-linecap="butt"/>
<path d="M38.9 194.6 L217.7 194.6" fill="none" stroke="#111" stroke-width="5.6"/>
<path d="M39.4 193.3 L217.2 193.3" fill="none" stroke="#e8e8e8" stroke-width="1.5" stroke-dasharray="0.9 1.25"/>
<circle cx="39" cy="197.5" r="1.4" fill="#fff" stroke="#111" stroke-width="0.9"/>
<path d="M57.9 266.25 L57.9 249.4 L41.4 249.4" fill="none" stroke="#e0384e" stroke-width="1.0"/>
<polygon points="38.2,249.4 44,247.5 44,251.3" fill="#e0384e" stroke="none" stroke-width="1"/>
<path d="M193.2 195.2 L193.2 208.2 L214.2 208.2" fill="none" stroke="#111" stroke-width="1.0"/>
<polygon points="217.6,208.2 211.2,206.1 211.2,210.3" fill="#111" stroke="none" stroke-width="1"/>
<rect x="37.4" y="188.7" width="180.8" height="133" fill="none" stroke="#111" stroke-width="1.5"/>
<line x1="34.1" y1="321.7" x2="37.4" y2="321.7" stroke="#111" stroke-width="1.0"/>
<line x1="35.4" y1="299.53" x2="37.4" y2="299.53" stroke="#111" stroke-width="1.0"/>
<line x1="34.1" y1="277.37" x2="37.4" y2="277.37" stroke="#111" stroke-width="1.0"/>
<line x1="35.4" y1="255.2" x2="37.4" y2="255.2" stroke="#111" stroke-width="1.0"/>
<line x1="34.1" y1="233.03" x2="37.4" y2="233.03" stroke="#111" stroke-width="1.0"/>
<line x1="35.4" y1="210.87" x2="37.4" y2="210.87" stroke="#111" stroke-width="1.0"/>
<line x1="34.1" y1="188.7" x2="37.4" y2="188.7" stroke="#111" stroke-width="1.0"/>
<text x="33.1" y="325.7" font-size="11.3" text-anchor="end" fill="#000">0</text>
<text x="33.1" y="281.37" font-size="11.3" text-anchor="end" fill="#000">100</text>
<text x="33.1" y="237.03" font-size="11.3" text-anchor="end" fill="#000">200</text>
<text x="33.1" y="192.7" font-size="11.3" text-anchor="end" fill="#000">300</text>
<line x1="218.2" y1="321.7" x2="221.5" y2="321.7" stroke="#111" stroke-width="1.0"/>
<line x1="218.2" y1="308.95" x2="220.2" y2="308.95" stroke="#111" stroke-width="1.0"/>
<line x1="218.2" y1="296.2" x2="221.5" y2="296.2" stroke="#111" stroke-width="1.0"/>
<line x1="218.2" y1="283.45" x2="220.2" y2="283.45" stroke="#111" stroke-width="1.0"/>
<line x1="218.2" y1="270.7" x2="221.5" y2="270.7" stroke="#111" stroke-width="1.0"/>
<line x1="218.2" y1="257.95" x2="220.2" y2="257.95" stroke="#111" stroke-width="1.0"/>
<line x1="218.2" y1="245.2" x2="221.5" y2="245.2" stroke="#111" stroke-width="1.0"/>
<line x1="218.2" y1="232.45" x2="220.2" y2="232.45" stroke="#111" stroke-width="1.0"/>
<line x1="218.2" y1="219.7" x2="221.5" y2="219.7" stroke="#111" stroke-width="1.0"/>
<line x1="218.2" y1="206.95" x2="220.2" y2="206.95" stroke="#111" stroke-width="1.0"/>
<line x1="218.2" y1="194.2" x2="221.5" y2="194.2" stroke="#111" stroke-width="1.0"/>
<text x="222.8" y="325.1" font-size="11.3" text-anchor="start" fill="#000">0</text>
<text x="222.8" y="299.6" font-size="11.3" text-anchor="start" fill="#000">20</text>
<text x="222.8" y="274.1" font-size="11.3" text-anchor="start" fill="#000">40</text>
<text x="222.8" y="248.6" font-size="11.3" text-anchor="start" fill="#000">60</text>
<text x="222.8" y="223.1" font-size="11.3" text-anchor="start" fill="#000">80</text>
<text x="222.8" y="197.6" font-size="11.3" text-anchor="start" fill="#000">100</text>
<line x1="37.4" y1="321.7" x2="37.4" y2="325" stroke="#111" stroke-width="1.0"/>
<text x="37.4" y="336.3" font-size="11.3" text-anchor="middle" fill="#000">0</text>
<line x1="97.67" y1="321.7" x2="97.67" y2="325" stroke="#111" stroke-width="1.0"/>
<text x="97.67" y="336.3" font-size="11.3" text-anchor="middle" fill="#000">400</text>
<line x1="157.93" y1="321.7" x2="157.93" y2="325" stroke="#111" stroke-width="1.0"/>
<text x="157.93" y="336.3" font-size="11.3" text-anchor="middle" fill="#000">800</text>
<line x1="218.2" y1="321.7" x2="218.2" y2="325" stroke="#111" stroke-width="1.0"/>
<text x="218.2" y="336.3" font-size="11.3" text-anchor="middle" fill="#000">1200</text>
<line x1="67.53" y1="321.7" x2="67.53" y2="323.7" stroke="#111" stroke-width="1.0"/>
<line x1="127.8" y1="321.7" x2="127.8" y2="323.7" stroke="#111" stroke-width="1.0"/>
<line x1="188.07" y1="321.7" x2="188.07" y2="323.7" stroke="#111" stroke-width="1.0"/>
<text x="128.6" y="347.6" font-size="11.7" text-anchor="middle" fill="#000">Cycle number</text>
<text x="11.4" y="255.5" font-size="11.8" text-anchor="middle" fill="#000" transform="rotate(-90 11.4 255.5)">Specific capacity (mAh g<tspan dy="-4.16" font-size="7.32">-1</tspan><tspan dy="4.16" font-size="11.8">)</tspan></text>
<text x="252" y="256.5" font-size="11.7" text-anchor="middle" fill="#000" transform="rotate(-90 252 256.5)">Coulombic efficiency (%)</text>
<text x="214" y="256.3" font-size="11.6" text-anchor="end" fill="#000">93.8%</text>
<text x="214.4" y="280.6" font-size="11.6" text-anchor="end" fill="#000">10C</text>
<text x="216.4" y="316.2" font-size="11.9" text-anchor="end" fill="#000">1C=320 mA g<tspan dy="-4.16" font-size="7.14">-1</tspan></text>
<circle cx="48.4" cy="311.6" r="2.7" fill="url(#rb)" stroke="none" stroke-width="1"/>
<text x="60.7" y="315.3" font-size="10.1" text-anchor="start" fill="#000"><tspan dy="0" font-size="10.3">K</tspan><tspan dy="2.1" font-size="7">2</tspan><tspan dy="-2.1" font-size="10.3">VP</tspan><tspan dy="2.1" font-size="7">2</tspan><tspan dy="-2.1" font-size="10.3">O</tspan><tspan dy="2.1" font-size="7">8</tspan></text>
<path d="M38 605.18 L38.75 605.29 L39.5 605.37 L40.25 605.5 L41 605.45 L41.75 605.59 L42.5 605.2 L43.24 605.47 L43.99 605.76 L44.74 605.66 L45.49 605.83 L46.24 605.49 L46.99 605.71 L47.74 605.65 L48.49 605.84 L49.24 605.9 L49.99 605.67 L50.74 605.82 L51.48 605.89 L52.23 606.25 L52.98 606.22 L53.73 605.96 L54.48 606.32 L55.23 606.03 L55.98 606.31 L56.73 606.11 L57.48 606.09 L58.23 606.56 L58.98 606.27 L59.73 606.31 L60.48 606.73 L61.22 606.72 L61.97 606.46 L62.72 606.84 L63.47 606.66 L64.22 606.77 L64.97 606.57 L65.72 606.97 L66.47 606.88 L67.22 607.05 L67.97 607.05 L68.72 606.79 L69.47 606.85 L70.21 606.79 L70.96 606.81 L71.71 606.8 L72.46 606.95 L73.21 607.13 L73.96 606.86 L74.71 607.23 L75.46 607.09 L76.21 607.11 L76.96 607.39 L77.71 607.25 L78.46 607.2 L79.2 607.31 L79.95 607.45 L80.7 607.15 L81.45 607.64 L82.2 607.19 L82.95 607.58 L83.7 607.66 L84.45 607.27 L85.2 607.68 L85.95 607.49 L86.7 607.62 L87.45 607.37 L88.19 607.41 L88.94 607.5 L89.69 607.91 L90.44 607.56 L91.19 607.86 L91.94 607.97 L92.69 608 L93.44 607.72 L94.19 607.75 L94.94 607.86 L95.69 608 L96.44 607.69 L97.18 608.03 L97.93 608.08 L98.68 608.13 L99.43 607.74 L100.18 608.22 L100.93 607.81 L101.68 607.95 L102.43 608.11 L103.18 608.28 L103.93 608.01 L104.68 608.32 L105.43 608.15 L106.17 608.05 L106.92 608.07 L107.67 608.02 L108.42 607.99 L109.17 608.04 L109.92 608.33 L110.67 608.5 L111.42 608.1 L112.17 608.06 L112.92 608.55 L113.67 608.34 L114.42 608.29 L115.16 608.22 L115.91 608.42 L116.66 608.55 L117.41 608.38 L118.16 608.38 L118.91 608.21 L119.66 608.66 L120.41 608.23 L121.16 608.47 L121.91 608.66 L122.66 608.32 L123.41 608.64 L124.15 608.76 L124.9 608.61 L125.65 608.71 L126.4 608.38 L127.15 608.56 L127.9 608.43 L128.65 608.78 L129.4 608.51 L130.15 608.59 L130.9 608.86 L131.65 608.79 L132.4 608.86 L133.14 608.6 L133.89 608.62 L134.64 608.74 L135.39 608.62 L136.14 608.53 L136.89 608.59 L137.64 608.46 L138.39 608.58 L139.14 608.89 L139.89 608.87 L140.64 608.71 L141.38 608.65 L142.13 608.57 L142.88 608.44 L143.63 608.54 L144.38 608.79 L145.13 608.84 L145.88 608.58 L146.63 608.8 L147.38 608.79 L148.13 608.75 L148.88 608.74 L149.63 608.78 L150.38 608.59 L151.12 608.76 L151.87 608.54 L152.62 608.65 L153.37 608.79 L154.12 608.75 L154.87 608.55 L155.62 608.87 L156.37 608.72 L157.12 608.69 L157.87 608.4 L158.62 608.67 L159.37 608.52 L160.11 608.73 L160.86 608.62 L161.61 608.8 L162.36 608.71 L163.11 608.79 L163.86 608.56 L164.61 608.71 L165.36 608.75 L166.11 608.79 L166.86 608.55 L167.61 608.8 L168.35 608.81 L169.1 608.72 L169.85 608.86 L170.6 608.84 L171.35 608.62 L172.1 608.63 L172.85 608.44 L173.6 608.77 L174.35 608.82 L175.1 608.59 L175.85 608.69 L176.6 608.7 L177.34 608.7 L178.09 608.42 L178.84 608.72 L179.59 608.62 L180.34 608.66 L181.09 608.53 L181.84 608.63 L182.59 608.7 L183.34 608.63 L184.09 608.67 L184.84 608.32 L185.59 608.38 L186.34 608.52 L187.08 608.62 L187.83 608.4 L188.58 608.63 L189.33 608.59 L190.08 608.3 L190.83 608.51 L191.58 608.38 L192.33 608.29 L193.08 608.32 L193.83 608.41 L194.58 608.34 L195.32 608.34 L196.07 608.26 L196.82 608.47 L197.57 608.42 L198.32 608.53 L199.07 608.51 L199.82 608.33 L200.57 608.66 L201.32 608.2 L202.07 608.4 L202.82 608.33 L203.57 608.39 L204.32 608.24 L205.06 608.59 L205.81 608.36 L206.56 608.18 L207.31 608.47 L208.06 608.2 L208.81 608.42 L209.56 608.31 L210.31 608.43 L211.06 608.61 L211.81 608.54 L212.56 608.33 L213.31 608.52 L214.05 608.43 L214.8 608.29 L215.55 608.17 L216.3 608.39 L217.05 608.37 L217.8 608.56" fill="none" stroke="#d43a56" stroke-width="6.0" stroke-linejoin="round" stroke-linecap="butt"/>
<path d="M38 604.88 L38.75 604.99 L39.5 605.07 L40.25 605.2 L41 605.15 L41.75 605.29 L42.5 604.9 L43.24 605.17 L43.99 605.46 L44.74 605.36 L45.49 605.53 L46.24 605.19 L46.99 605.41 L47.74 605.35 L48.49 605.54 L49.24 605.6 L49.99 605.37 L50.74 605.52 L51.48 605.59 L52.23 605.95 L52.98 605.92 L53.73 605.66 L54.48 606.02 L55.23 605.73 L55.98 606.01 L56.73 605.81 L57.48 605.79 L58.23 606.26 L58.98 605.97 L59.73 606.01 L60.48 606.43 L61.22 606.42 L61.97 606.16 L62.72 606.54 L63.47 606.36 L64.22 606.47 L64.97 606.27 L65.72 606.67 L66.47 606.58 L67.22 606.75 L67.97 606.75 L68.72 606.49 L69.47 606.55 L70.21 606.49 L70.96 606.51 L71.71 606.5 L72.46 606.65 L73.21 606.83 L73.96 606.56 L74.71 606.93 L75.46 606.79 L76.21 606.81 L76.96 607.09 L77.71 606.95 L78.46 606.9 L79.2 607.01 L79.95 607.15 L80.7 606.85 L81.45 607.34 L82.2 606.89 L82.95 607.28 L83.7 607.36 L84.45 606.97 L85.2 607.38 L85.95 607.19 L86.7 607.32 L87.45 607.07 L88.19 607.11 L88.94 607.2 L89.69 607.61 L90.44 607.26 L91.19 607.56 L91.94 607.67 L92.69 607.7 L93.44 607.42 L94.19 607.45 L94.94 607.56 L95.69 607.7 L96.44 607.39 L97.18 607.73 L97.93 607.78 L98.68 607.83 L99.43 607.44 L100.18 607.92 L100.93 607.51 L101.68 607.65 L102.43 607.81 L103.18 607.98 L103.93 607.71 L104.68 608.02 L105.43 607.85 L106.17 607.75 L106.92 607.77 L107.67 607.72 L108.42 607.69 L109.17 607.74 L109.92 608.03 L110.67 608.2 L111.42 607.8 L112.17 607.76 L112.92 608.25 L113.67 608.04 L114.42 607.99 L115.16 607.92 L115.91 608.12 L116.66 608.25 L117.41 608.08 L118.16 608.08 L118.91 607.91 L119.66 608.36 L120.41 607.93 L121.16 608.17 L121.91 608.36 L122.66 608.02 L123.41 608.34 L124.15 608.46 L124.9 608.31 L125.65 608.41 L126.4 608.08 L127.15 608.26 L127.9 608.13 L128.65 608.48 L129.4 608.21 L130.15 608.29 L130.9 608.56 L131.65 608.49 L132.4 608.56 L133.14 608.3 L133.89 608.32 L134.64 608.44 L135.39 608.32 L136.14 608.23 L136.89 608.29 L137.64 608.16 L138.39 608.28 L139.14 608.59 L139.89 608.57 L140.64 608.41 L141.38 608.35 L142.13 608.27 L142.88 608.14 L143.63 608.24 L144.38 608.49 L145.13 608.54 L145.88 608.28 L146.63 608.5 L147.38 608.49 L148.13 608.45 L148.88 608.44 L149.63 608.48 L150.38 608.29 L151.12 608.46 L151.87 608.24 L152.62 608.35 L153.37 608.49 L154.12 608.45 L154.87 608.25 L155.62 608.57 L156.37 608.42 L157.12 608.39 L157.87 608.1 L158.62 608.37 L159.37 608.22 L160.11 608.43 L160.86 608.32 L161.61 608.5 L162.36 608.41 L163.11 608.49 L163.86 608.26 L164.61 608.41 L165.36 608.45 L166.11 608.49 L166.86 608.25 L167.61 608.5 L168.35 608.51 L169.1 608.42 L169.85 608.56 L170.6 608.54 L171.35 608.32 L172.1 608.33 L172.85 608.14 L173.6 608.47 L174.35 608.52 L175.1 608.29 L175.85 608.39 L176.6 608.4 L177.34 608.4 L178.09 608.12 L178.84 608.42 L179.59 608.32 L180.34 608.36 L181.09 608.23 L181.84 608.33 L182.59 608.4 L183.34 608.33 L184.09 608.37 L184.84 608.02 L185.59 608.08 L186.34 608.22 L187.08 608.32 L187.83 608.1 L188.58 608.33 L189.33 608.29 L190.08 608 L190.83 608.21 L191.58 608.08 L192.33 607.99 L193.08 608.02 L193.83 608.11 L194.58 608.04 L195.32 608.04 L196.07 607.96 L196.82 608.17 L197.57 608.12 L198.32 608.23 L199.07 608.21 L199.82 608.03 L200.57 608.36 L201.32 607.9 L202.07 608.1 L202.82 608.03 L203.57 608.09 L204.32 607.94 L205.06 608.29 L205.81 608.06 L206.56 607.88 L207.31 608.17 L208.06 607.9 L208.81 608.12 L209.56 608.01 L210.31 608.13 L211.06 608.31 L211.81 608.24 L212.56 608.03 L213.31 608.22 L214.05 608.13 L214.8 607.99 L215.55 607.87 L216.3 608.09 L217.05 608.07 L217.8 608.26" fill="none" stroke="#de5068" stroke-width="3.0" stroke-linejoin="round" stroke-linecap="butt"/>
<path d="M39.5 534.5 L217.3 534.5" fill="none" stroke="#111" stroke-width="4.9"/>
<path d="M40 534.4 L216.8 534.4" fill="none" stroke="#c8c8c8" stroke-width="2.5" stroke-dasharray="0.75 0.8"/>
<circle cx="39.6" cy="537.6" r="1.4" fill="#fff" stroke="#111" stroke-width="0.9"/>
<path d="M58.8 604.12 L58.8 586.5 L42 586.5" fill="none" stroke="#e0384e" stroke-width="1.0"/>
<polygon points="38.8,586.5 44.6,584.6 44.6,588.4" fill="#e0384e" stroke="none" stroke-width="1"/>
<path d="M199.6 535.3 L199.6 549.5 L213.8 549.5" fill="none" stroke="#111" stroke-width="1.0"/>
<polygon points="217.2,549.5 210.8,547.4 210.8,551.6" fill="#111" stroke="none" stroke-width="1"/>
<rect x="38" y="529.2" width="179.8" height="132.8" fill="none" stroke="#111" stroke-width="1.5"/>
<line x1="34.7" y1="662" x2="38" y2="662" stroke="#111" stroke-width="1.0"/>
<line x1="36" y1="639.87" x2="38" y2="639.87" stroke="#111" stroke-width="1.0"/>
<line x1="34.7" y1="617.73" x2="38" y2="617.73" stroke="#111" stroke-width="1.0"/>
<line x1="36" y1="595.6" x2="38" y2="595.6" stroke="#111" stroke-width="1.0"/>
<line x1="34.7" y1="573.47" x2="38" y2="573.47" stroke="#111" stroke-width="1.0"/>
<line x1="36" y1="551.33" x2="38" y2="551.33" stroke="#111" stroke-width="1.0"/>
<line x1="34.7" y1="529.2" x2="38" y2="529.2" stroke="#111" stroke-width="1.0"/>
<text x="33.7" y="666" font-size="11.3" text-anchor="end" fill="#000">0</text>
<text x="33.7" y="621.73" font-size="11.3" text-anchor="end" fill="#000">100</text>
<text x="33.7" y="577.47" font-size="11.3" text-anchor="end" fill="#000">200</text>
<text x="33.7" y="533.2" font-size="11.3" text-anchor="end" fill="#000">300</text>
<line x1="217.8" y1="662" x2="221.1" y2="662" stroke="#111" stroke-width="1.0"/>
<line x1="217.8" y1="649.23" x2="219.8" y2="649.23" stroke="#111" stroke-width="1.0"/>
<line x1="217.8" y1="636.46" x2="221.1" y2="636.46" stroke="#111" stroke-width="1.0"/>
<line x1="217.8" y1="623.69" x2="219.8" y2="623.69" stroke="#111" stroke-width="1.0"/>
<line x1="217.8" y1="610.92" x2="221.1" y2="610.92" stroke="#111" stroke-width="1.0"/>
<line x1="217.8" y1="598.15" x2="219.8" y2="598.15" stroke="#111" stroke-width="1.0"/>
<line x1="217.8" y1="585.38" x2="221.1" y2="585.38" stroke="#111" stroke-width="1.0"/>
<line x1="217.8" y1="572.61" x2="219.8" y2="572.61" stroke="#111" stroke-width="1.0"/>
<line x1="217.8" y1="559.84" x2="221.1" y2="559.84" stroke="#111" stroke-width="1.0"/>
<line x1="217.8" y1="547.07" x2="219.8" y2="547.07" stroke="#111" stroke-width="1.0"/>
<line x1="217.8" y1="534.3" x2="221.1" y2="534.3" stroke="#111" stroke-width="1.0"/>
<text x="222.4" y="665.4" font-size="11.3" text-anchor="start" fill="#000">0</text>
<text x="222.4" y="639.86" font-size="11.3" text-anchor="start" fill="#000">20</text>
<text x="222.4" y="614.32" font-size="11.3" text-anchor="start" fill="#000">40</text>
<text x="222.4" y="588.78" font-size="11.3" text-anchor="start" fill="#000">60</text>
<text x="222.4" y="563.24" font-size="11.3" text-anchor="start" fill="#000">80</text>
<text x="222.4" y="537.7" font-size="11.3" text-anchor="start" fill="#000">100</text>
<line x1="38" y1="662" x2="38" y2="665.3" stroke="#111" stroke-width="1.0"/>
<text x="38" y="676.3" font-size="11.3" text-anchor="middle" fill="#000">0</text>
<line x1="82.95" y1="662" x2="82.95" y2="665.3" stroke="#111" stroke-width="1.0"/>
<text x="82.95" y="676.3" font-size="11.3" text-anchor="middle" fill="#000">500</text>
<line x1="127.9" y1="662" x2="127.9" y2="665.3" stroke="#111" stroke-width="1.0"/>
<text x="127.9" y="676.3" font-size="11.3" text-anchor="middle" fill="#000">1000</text>
<line x1="172.85" y1="662" x2="172.85" y2="665.3" stroke="#111" stroke-width="1.0"/>
<text x="172.85" y="676.3" font-size="11.3" text-anchor="middle" fill="#000">1500</text>
<line x1="217.8" y1="662" x2="217.8" y2="665.3" stroke="#111" stroke-width="1.0"/>
<text x="217.8" y="676.3" font-size="11.3" text-anchor="middle" fill="#000">2000</text>
<line x1="60.48" y1="662" x2="60.48" y2="664" stroke="#111" stroke-width="1.0"/>
<line x1="105.43" y1="662" x2="105.43" y2="664" stroke="#111" stroke-width="1.0"/>
<line x1="150.38" y1="662" x2="150.38" y2="664" stroke="#111" stroke-width="1.0"/>
<line x1="195.33" y1="662" x2="195.33" y2="664" stroke="#111" stroke-width="1.0"/>
<text x="128.6" y="689.3" font-size="11.7" text-anchor="middle" fill="#000">Cycle number</text>
<text x="11.4" y="596" font-size="11.8" text-anchor="middle" fill="#000" transform="rotate(-90 11.4 596)">Specific capacity (mAh g<tspan dy="-4.16" font-size="7.32">-1</tspan><tspan dy="4.16" font-size="11.8">)</tspan></text>
<text x="252" y="597" font-size="11.7" text-anchor="middle" fill="#000" transform="rotate(-90 252 597)">Coulombic efficiency (%)</text>
<text x="216.6" y="603.4" font-size="11.6" text-anchor="end" fill="#000">95.2%</text>
<text x="214.6" y="622.6" font-size="11.6" text-anchor="end" fill="#000">10C</text>
<text x="216.4" y="656.5" font-size="11.9" text-anchor="end" fill="#000">1C=340 mA g<tspan dy="-4.16" font-size="7.14">-1</tspan></text>
<circle cx="46.1" cy="652.2" r="2.7" fill="url(#rb)" stroke="none" stroke-width="1"/>
<text x="57.7" y="655.9" font-size="10.1" text-anchor="start" fill="#000"><tspan dy="0" font-size="10.3">K</tspan><tspan dy="2.1" font-size="7">2</tspan><tspan dy="-2.1" font-size="10.3">MgV</tspan><tspan dy="2.1" font-size="7">2</tspan><tspan dy="-2.1" font-size="10.3">O</tspan><tspan dy="2.1" font-size="7">7</tspan></text>
<rect x="282.9" y="187.4" width="257.7" height="133.8" fill="url(#hm1)" stroke="none" stroke-width="1"/>
<rect x="282.9" y="289" width="257.7" height="2.5" fill="#ffffff" stroke="none" stroke-width="1" opacity="0.05"/>
<rect x="282.9" y="298" width="257.7" height="2.5" fill="#ffffff" stroke="none" stroke-width="1" opacity="0.06"/>
<rect x="282.9" y="306" width="257.7" height="3" fill="#ffffff" stroke="none" stroke-width="1" opacity="0.06"/>
<clipPath id="hm1c"><rect x="282.9" y="187.4" width="257.7" height="133.8"/></clipPath>
<g clip-path="url(#hm1c)"><g filter="url(#bx)">
<rect x="294.69" y="184.4" width="1.5" height="139.8" fill="url(#hm1l1646)" stroke="none" stroke-width="1" opacity="1"/>
<rect x="308.24" y="184.4" width="1.9" height="139.8" fill="#f4f4ff" stroke="none" stroke-width="1" opacity="0.85"/>
<rect x="346.52" y="184.4" width="1.6" height="139.8" fill="#a8a8ff" stroke="none" stroke-width="1" opacity="0.3"/>
<rect x="367.14" y="184.4" width="1.6" height="139.8" fill="#a8a8ff" stroke="none" stroke-width="1" opacity="0.4"/>
<rect x="386.9" y="184.4" width="1.6" height="139.8" fill="#b8b8ff" stroke="none" stroke-width="1" opacity="0.55"/>
<rect x="404.46" y="184.4" width="1.7" height="139.8" fill="#d0d0ff" stroke="none" stroke-width="1" opacity="0.7"/>
<rect x="437.13" y="184.4" width="2.5" height="139.8" fill="url(#hm1l3310)" stroke="none" stroke-width="1" opacity="1"/>
<rect x="447.94" y="184.4" width="1.5" height="139.8" fill="#8c8cff" stroke="none" stroke-width="1" opacity="0.4"/>
<rect x="486.01" y="184.4" width="1.8" height="139.8" fill="#9494ff" stroke="none" stroke-width="1" opacity="0.6"/>
<rect x="508.35" y="184.4" width="1.8" height="139.8" fill="#9494ff" stroke="none" stroke-width="1" opacity="0.6"/>
<rect x="531.67" y="184.4" width="2.4" height="139.8" fill="#7c7cff" stroke="none" stroke-width="1" opacity="0.55"/>
<rect x="470.27" y="184.4" width="1.5" height="139.8" fill="#6c6cff" stroke="none" stroke-width="1" opacity="0.3"/>
<rect x="326.82" y="184.4" width="1.5" height="139.8" fill="#9a9aff" stroke="none" stroke-width="1" opacity="0.25"/>
<rect x="421.31" y="184.4" width="1.5" height="139.8" fill="#7070ff" stroke="none" stroke-width="1" opacity="0.3"/>
</g>
</g>
<line x1="282.9" y1="187.4" x2="540.6" y2="187.4" stroke="#333" stroke-width="0.8"/>
<line x1="282.9" y1="321.2" x2="540.9" y2="321.2" stroke="#111" stroke-width="1.1"/>
<line x1="282.9" y1="187.4" x2="282.9" y2="321.2" stroke="#335" stroke-width="0.6"/>
<line x1="540.6" y1="187.4" x2="540.6" y2="321.2" stroke="#335" stroke-width="0.6"/>
<line x1="282.9" y1="321.2" x2="282.9" y2="324.4" stroke="#111" stroke-width="1.0"/>
<text x="282.9" y="334.6" font-size="11.3" text-anchor="middle" fill="#000">15</text>
<line x1="325.85" y1="321.2" x2="325.85" y2="324.4" stroke="#111" stroke-width="1.0"/>
<text x="325.85" y="334.6" font-size="11.3" text-anchor="middle" fill="#000">20</text>
<line x1="368.8" y1="321.2" x2="368.8" y2="324.4" stroke="#111" stroke-width="1.0"/>
<text x="368.8" y="334.6" font-size="11.3" text-anchor="middle" fill="#000">25</text>
<line x1="411.75" y1="321.2" x2="411.75" y2="324.4" stroke="#111" stroke-width="1.0"/>
<text x="411.75" y="334.6" font-size="11.3" text-anchor="middle" fill="#000">30</text>
<line x1="454.7" y1="321.2" x2="454.7" y2="324.4" stroke="#111" stroke-width="1.0"/>
<text x="454.7" y="334.6" font-size="11.3" text-anchor="middle" fill="#000">35</text>
<line x1="497.65" y1="321.2" x2="497.65" y2="324.4" stroke="#111" stroke-width="1.0"/>
<text x="497.65" y="334.6" font-size="11.3" text-anchor="middle" fill="#000">40</text>
<line x1="540.6" y1="321.2" x2="540.6" y2="324.4" stroke="#111" stroke-width="1.0"/>
<text x="540.6" y="334.6" font-size="11.3" text-anchor="middle" fill="#000">45</text>
<line x1="304.38" y1="321.2" x2="304.38" y2="323" stroke="#111" stroke-width="0.9"/>
<line x1="347.32" y1="321.2" x2="347.32" y2="323" stroke="#111" stroke-width="0.9"/>
<line x1="390.27" y1="321.2" x2="390.27" y2="323" stroke="#111" stroke-width="0.9"/>
<line x1="433.23" y1="321.2" x2="433.23" y2="323" stroke="#111" stroke-width="0.9"/>
<line x1="476.18" y1="321.2" x2="476.18" y2="323" stroke="#111" stroke-width="0.9"/>
<line x1="519.12" y1="321.2" x2="519.12" y2="323" stroke="#111" stroke-width="0.9"/>
<text x="395.01" y="347.6" font-size="12.1" text-anchor="middle" fill="#000" font-style="italic" letter-spacing="2.2">2&#952;</text>
<text x="408.96" y="347" font-size="12.342" text-anchor="middle" fill="#222">(</text>
<text x="431.7" y="347.6" font-size="12.1" text-anchor="middle" fill="#000">Degree</text>
<text x="454.73" y="347" font-size="12.342" text-anchor="middle" fill="#222">)</text>
<text x="273.6" y="255.5" font-size="11.9" text-anchor="middle" fill="#000" transform="rotate(-90 273.6 255.5)">Intensity (arb. units)</text>
<rect x="550.3" y="187.6" width="5.7" height="133.6" fill="url(#cb1)" stroke="none" stroke-width="1"/>
<text x="556.2" y="190" font-size="11.3" text-anchor="start" fill="#000">686</text>
<text x="557.2" y="321.8" font-size="11.3" text-anchor="start" fill="#000">86</text>
<rect x="283.4" y="530.2" width="257.4" height="132.1" fill="url(#hm2)" stroke="none" stroke-width="1"/>
<clipPath id="hm2c"><rect x="283.4" y="530.2" width="257.4" height="132.1"/></clipPath>
<g clip-path="url(#hm2c)"><g filter="url(#bx)">
<rect x="324.95" y="527.2" width="2.2" height="138.1" fill="#9c9cff" stroke="none" stroke-width="1" opacity="0.6"/>
<rect x="350.26" y="527.2" width="1.6" height="138.1" fill="#9090ff" stroke="none" stroke-width="1" opacity="0.3"/>
<rect x="370.02" y="527.2" width="1.8" height="138.1" fill="#a4a4ff" stroke="none" stroke-width="1" opacity="0.35"/>
<rect x="381.68" y="527.2" width="2" height="138.1" fill="#bcbcff" stroke="none" stroke-width="1" opacity="0.45"/>
<rect x="398.6" y="527.2" width="2" height="138.1" fill="#b0b0ff" stroke="none" stroke-width="1" opacity="0.35"/>
<rect x="407.52" y="527.2" width="1.8" height="138.1" fill="#b0b0ff" stroke="none" stroke-width="1" opacity="0.3"/>
<rect x="418.25" y="527.2" width="2.4" height="138.1" fill="#ffdcd8" stroke="none" stroke-width="1" opacity="0.8"/>
<rect x="443.88" y="527.2" width="1.9" height="138.1" fill="#ececff" stroke="none" stroke-width="1" opacity="0.8"/>
<rect x="455.86" y="527.2" width="2.2" height="138.1" fill="#d8d8ff" stroke="none" stroke-width="1" opacity="0.6"/>
<rect x="469.3" y="527.2" width="1.8" height="138.1" fill="#bcbcff" stroke="none" stroke-width="1" opacity="0.5"/>
<rect x="493.47" y="527.2" width="2" height="138.1" fill="#f4f4ff" stroke="none" stroke-width="1" opacity="0.85"/>
<rect x="512.59" y="527.2" width="2" height="138.1" fill="#c0c0ff" stroke="none" stroke-width="1" opacity="0.5"/>
<rect x="531.95" y="527.2" width="3" height="138.1" fill="#e4e4ff" stroke="none" stroke-width="1" opacity="0.7"/>
<rect x="431.89" y="527.2" width="1.6" height="138.1" fill="#a2a2ff" stroke="none" stroke-width="1" opacity="0.3"/>
<rect x="479.69" y="527.2" width="1.6" height="138.1" fill="#a2a2ff" stroke="none" stroke-width="1" opacity="0.3"/>
<rect x="503.23" y="527.2" width="1.6" height="138.1" fill="#a2a2ff" stroke="none" stroke-width="1" opacity="0.25"/>
<rect x="523.82" y="527.2" width="1.6" height="138.1" fill="#a2a2ff" stroke="none" stroke-width="1" opacity="0.25"/>
</g>
<rect x="325.55" y="527.2" width="1" height="138.1" fill="#f4f4ff" stroke="none" stroke-width="1" opacity="0.95"/>
<rect x="418.98" y="527.2" width="0.95" height="138.1" fill="#ff4434" stroke="none" stroke-width="1" opacity="1"/>
</g>
<line x1="283.4" y1="530.2" x2="540.8" y2="530.2" stroke="#333" stroke-width="0.8"/>
<line x1="283.4" y1="662.3" x2="541.1" y2="662.3" stroke="#111" stroke-width="1.1"/>
<line x1="283.4" y1="530.2" x2="283.4" y2="662.3" stroke="#335" stroke-width="0.6"/>
<line x1="540.8" y1="530.2" x2="540.8" y2="662.3" stroke="#335" stroke-width="0.6"/>
<line x1="283.4" y1="662.3" x2="283.4" y2="665.5" stroke="#111" stroke-width="1.0"/>
<text x="283.4" y="675.2" font-size="11.3" text-anchor="middle" fill="#000">10</text>
<line x1="320.17" y1="662.3" x2="320.17" y2="665.5" stroke="#111" stroke-width="1.0"/>
<text x="320.17" y="675.2" font-size="11.3" text-anchor="middle" fill="#000">15</text>
<line x1="356.94" y1="662.3" x2="356.94" y2="665.5" stroke="#111" stroke-width="1.0"/>
<text x="356.94" y="675.2" font-size="11.3" text-anchor="middle" fill="#000">20</text>
<line x1="393.71" y1="662.3" x2="393.71" y2="665.5" stroke="#111" stroke-width="1.0"/>
<text x="393.71" y="675.2" font-size="11.3" text-anchor="middle" fill="#000">25</text>
<line x1="430.49" y1="662.3" x2="430.49" y2="665.5" stroke="#111" stroke-width="1.0"/>
<text x="430.49" y="675.2" font-size="11.3" text-anchor="middle" fill="#000">30</text>
<line x1="467.26" y1="662.3" x2="467.26" y2="665.5" stroke="#111" stroke-width="1.0"/>
<text x="467.26" y="675.2" font-size="11.3" text-anchor="middle" fill="#000">35</text>
<line x1="504.03" y1="662.3" x2="504.03" y2="665.5" stroke="#111" stroke-width="1.0"/>
<text x="504.03" y="675.2" font-size="11.3" text-anchor="middle" fill="#000">40</text>
<line x1="540.8" y1="662.3" x2="540.8" y2="665.5" stroke="#111" stroke-width="1.0"/>
<text x="540.8" y="675.2" font-size="11.3" text-anchor="middle" fill="#000">45</text>
<line x1="301.79" y1="662.3" x2="301.79" y2="664.1" stroke="#111" stroke-width="0.9"/>
<line x1="338.56" y1="662.3" x2="338.56" y2="664.1" stroke="#111" stroke-width="0.9"/>
<line x1="375.33" y1="662.3" x2="375.33" y2="664.1" stroke="#111" stroke-width="0.9"/>
<line x1="412.1" y1="662.3" x2="412.1" y2="664.1" stroke="#111" stroke-width="0.9"/>
<line x1="448.87" y1="662.3" x2="448.87" y2="664.1" stroke="#111" stroke-width="0.9"/>
<line x1="485.64" y1="662.3" x2="485.64" y2="664.1" stroke="#111" stroke-width="0.9"/>
<line x1="522.41" y1="662.3" x2="522.41" y2="664.1" stroke="#111" stroke-width="0.9"/>
<text x="395.4" y="686.9" font-size="12.5" text-anchor="middle" fill="#000" font-style="italic" letter-spacing="2.2">2&#952;</text>
<text x="409.81" y="686.3" font-size="12.75" text-anchor="middle" fill="#222">(</text>
<text x="433.3" y="686.9" font-size="12.5" text-anchor="middle" fill="#000">Degree</text>
<text x="457.09" y="686.3" font-size="12.75" text-anchor="middle" fill="#222">)</text>
<text x="273" y="599" font-size="12.0" text-anchor="middle" fill="#000" transform="rotate(-90 273 599)">Intensity (arb. units)</text>
<rect x="550.3" y="529.2" width="5.7" height="131.6" fill="url(#cb2)" stroke="none" stroke-width="1"/>
<text x="556.2" y="534" font-size="11.3" text-anchor="start" fill="#000">80</text>
<text x="557.2" y="663.5" font-size="11.3" text-anchor="start" fill="#000">1</text>
<rect x="283.4" y="702.9" width="257.5" height="135.3" fill="url(#hm3)" stroke="none" stroke-width="1"/>
<clipPath id="hm3c"><rect x="283.4" y="702.9" width="257.5" height="135.3"/></clipPath>
<g clip-path="url(#hm3c)"><g filter="url(#bx)">
<rect x="293.79" y="699.9" width="2.4" height="141.3" fill="#6060ff" stroke="none" stroke-width="1" opacity="0.3"/>
<rect x="304.47" y="699.9" width="3.7" height="141.3" fill="#ffe4e8" stroke="none" stroke-width="1" opacity="0.95"/>
<rect x="314.49" y="699.9" width="2.2" height="141.3" fill="#5858ff" stroke="none" stroke-width="1" opacity="0.22"/>
<rect x="337.67" y="699.9" width="2.7" height="141.3" fill="#c8c8ff" stroke="none" stroke-width="1" opacity="0.72"/>
<rect x="367.33" y="699.9" width="2.6" height="141.3" fill="#c0c0ff" stroke="none" stroke-width="1" opacity="0.72"/>
<rect x="399.81" y="699.9" width="2.8" height="141.3" fill="#d8d8ff" stroke="none" stroke-width="1" opacity="0.78"/>
<rect x="423.62" y="699.9" width="2.8" height="141.3" fill="#b0b0ff" stroke="none" stroke-width="1" opacity="0.68"/>
<rect x="461.11" y="699.9" width="2.5" height="141.3" fill="#9494ff" stroke="none" stroke-width="1" opacity="0.7"/>
<rect x="477.95" y="699.9" width="2.3" height="141.3" fill="#9494ff" stroke="none" stroke-width="1" opacity="0.65"/>
<rect x="497.26" y="699.9" width="2.3" height="141.3" fill="#6c6cff" stroke="none" stroke-width="1" opacity="0.5"/>
<rect x="520.44" y="699.9" width="2.3" height="141.3" fill="#9494ff" stroke="none" stroke-width="1" opacity="0.7"/>
<rect x="532.02" y="699.9" width="2.3" height="141.3" fill="#6c6cff" stroke="none" stroke-width="1" opacity="0.5"/>
</g>
<rect x="305.64" y="699.9" width="1.35" height="141.3" fill="#ff3424" stroke="none" stroke-width="1" opacity="1"/>
</g>
<line x1="283.4" y1="702.9" x2="540.9" y2="702.9" stroke="#333" stroke-width="0.8"/>
<line x1="283.4" y1="838.2" x2="541.2" y2="838.2" stroke="#111" stroke-width="1.1"/>
<line x1="283.4" y1="702.9" x2="283.4" y2="838.2" stroke="#335" stroke-width="0.6"/>
<line x1="540.9" y1="702.9" x2="540.9" y2="838.2" stroke="#335" stroke-width="0.6"/>
<line x1="283.4" y1="838.2" x2="283.4" y2="841.4" stroke="#111" stroke-width="1.0"/>
<text x="283.4" y="851.8" font-size="11.3" text-anchor="middle" fill="#000">25</text>
<line x1="347.77" y1="838.2" x2="347.77" y2="841.4" stroke="#111" stroke-width="1.0"/>
<text x="347.77" y="851.8" font-size="11.3" text-anchor="middle" fill="#000">30</text>
<line x1="412.15" y1="838.2" x2="412.15" y2="841.4" stroke="#111" stroke-width="1.0"/>
<text x="412.15" y="851.8" font-size="11.3" text-anchor="middle" fill="#000">35</text>
<line x1="476.52" y1="838.2" x2="476.52" y2="841.4" stroke="#111" stroke-width="1.0"/>
<text x="476.52" y="851.8" font-size="11.3" text-anchor="middle" fill="#000">40</text>
<line x1="540.9" y1="838.2" x2="540.9" y2="841.4" stroke="#111" stroke-width="1.0"/>
<text x="540.9" y="851.8" font-size="11.3" text-anchor="middle" fill="#000">45</text>
<line x1="315.59" y1="838.2" x2="315.59" y2="840" stroke="#111" stroke-width="0.9"/>
<line x1="379.96" y1="838.2" x2="379.96" y2="840" stroke="#111" stroke-width="0.9"/>
<line x1="444.34" y1="838.2" x2="444.34" y2="840" stroke="#111" stroke-width="0.9"/>
<line x1="508.71" y1="838.2" x2="508.71" y2="840" stroke="#111" stroke-width="0.9"/>
<text x="397.6" y="864.5" font-size="12.5" text-anchor="middle" fill="#000" font-style="italic" letter-spacing="2.2">2&#952;</text>
<text x="412.01" y="863.9" font-size="12.75" text-anchor="middle" fill="#222">(</text>
<text x="435.5" y="864.5" font-size="12.5" text-anchor="middle" fill="#000">Degree</text>
<text x="459.29" y="863.9" font-size="12.75" text-anchor="middle" fill="#222">)</text>
<text x="272.6" y="768.8" font-size="12.0" text-anchor="middle" fill="#000" transform="rotate(-90 272.6 768.8)">Intensity (arb. units)</text>
<rect x="551" y="701.6" width="5" height="136.2" fill="url(#cb3)" stroke="none" stroke-width="1"/>
<text x="556.2" y="704.6" font-size="11.3" text-anchor="start" fill="#000">580</text>
<text x="557.2" y="838.6" font-size="11.3" text-anchor="start" fill="#000">15</text>
<path d="M638.4 321 L620 316.6 L600.8 311.9 L598.5 310.4 L596 307.6 L592 305.2 L587.6 302 L586.3 296 L584.4 284 L581.9 267.4" fill="none" stroke="#2e86f0" stroke-width="0.9" stroke-linejoin="round"/>
<path d="M581.9 267.4 L590 264.1 L599.3 260 L609.9 254.4 L622 250 L638.4 245.5" fill="none" stroke="#f0606e" stroke-width="0.9" stroke-linejoin="round"/>
<path d="M638.4 245.5 L625 242.3 L609.9 238.5 L600 234.8 L592.9 231.1 L587.5 226.5 L584.5 222.6 L582.6 218 L581.9 213.7" fill="none" stroke="#2e86f0" stroke-width="0.9" stroke-linejoin="round"/>
<path d="M581.9 213.7 L590 210.3 L599.3 205.6 L609.9 200.4 L622 196 L638.4 190.9" fill="none" stroke="#f0606e" stroke-width="0.9" stroke-linejoin="round"/>
<rect x="581.7" y="187.7" width="56.7" height="133.3" fill="none" stroke="#111" stroke-width="1.3"/>
<line x1="581.7" y1="321" x2="581.7" y2="324" stroke="#111" stroke-width="1.0"/>
<text x="581.7" y="334" font-size="10.6" text-anchor="middle" fill="#000">0</text>
<line x1="600.6" y1="321" x2="600.6" y2="324" stroke="#111" stroke-width="1.0"/>
<text x="600.6" y="334" font-size="10.6" text-anchor="middle" fill="#000">1</text>
<line x1="619.5" y1="321" x2="619.5" y2="324" stroke="#111" stroke-width="1.0"/>
<text x="619.5" y="334" font-size="10.6" text-anchor="middle" fill="#000">2</text>
<line x1="638.4" y1="321" x2="638.4" y2="324" stroke="#111" stroke-width="1.0"/>
<text x="638.4" y="334" font-size="10.6" text-anchor="middle" fill="#000">3</text>
<line x1="591.15" y1="321" x2="591.15" y2="322.8" stroke="#111" stroke-width="0.9"/>
<line x1="610.05" y1="321" x2="610.05" y2="322.8" stroke="#111" stroke-width="0.9"/>
<line x1="628.95" y1="321" x2="628.95" y2="322.8" stroke="#111" stroke-width="0.9"/>
<line x1="638.4" y1="191.9" x2="641.4" y2="191.9" stroke="#111" stroke-width="1.0"/>
<text x="642.6" y="195.7" font-size="10.6" text-anchor="start" fill="#000">500</text>
<line x1="638.4" y1="218.4" x2="641.4" y2="218.4" stroke="#111" stroke-width="1.0"/>
<text x="642.6" y="222.2" font-size="10.6" text-anchor="start" fill="#000">400</text>
<line x1="638.4" y1="243.9" x2="641.4" y2="243.9" stroke="#111" stroke-width="1.0"/>
<text x="642.6" y="247.7" font-size="10.6" text-anchor="start" fill="#000">300</text>
<line x1="638.4" y1="269.5" x2="641.4" y2="269.5" stroke="#111" stroke-width="1.0"/>
<text x="642.6" y="273.3" font-size="10.6" text-anchor="start" fill="#000">200</text>
<line x1="638.4" y1="295" x2="641.4" y2="295" stroke="#111" stroke-width="1.0"/>
<text x="642.6" y="298.8" font-size="10.6" text-anchor="start" fill="#000">100</text>
<line x1="638.4" y1="321" x2="641.4" y2="321" stroke="#111" stroke-width="1.0"/>
<text x="642.6" y="324.8" font-size="10.6" text-anchor="start" fill="#000">0</text>
<line x1="638.4" y1="205.1" x2="640.2" y2="205.1" stroke="#111" stroke-width="0.9"/>
<line x1="638.4" y1="231.1" x2="640.2" y2="231.1" stroke="#111" stroke-width="0.9"/>
<line x1="638.4" y1="256.7" x2="640.2" y2="256.7" stroke="#111" stroke-width="0.9"/>
<line x1="638.4" y1="282.2" x2="640.2" y2="282.2" stroke="#111" stroke-width="0.9"/>
<line x1="638.4" y1="308" x2="640.2" y2="308" stroke="#111" stroke-width="0.9"/>
<text x="615" y="347.4" font-size="13.0" text-anchor="middle" fill="#000">Voltage (V)</text>
<text x="673.4" y="252.2" font-size="13.4" text-anchor="middle" fill="#000" transform="rotate(-90 673.4 252.2)">Time (min)</text>
<path d="M648.4 661.7 L640 661.4 L629.5 660.6 L621 658.9 L616 656.4 L612.5 653.6 L610 651.4 L608.2 649.3 L606.1 642.9 L604 638.7 L601.6 633 L599.7 628 L597.9 622.5 L596.5 617.3 L595.3 611 L594.4 604.5 L593.7 597 L593.3 589.6 L593 581 L592.8 572.4" fill="none" stroke="#f0606e" stroke-width="0.9" stroke-linejoin="round"/>
<path d="M592.6 572.2 L595 571 L598.2 569 L602.5 564.8 L607 559.8 L612 555.2 L617 551.8 L622 549.5 L626.8 547.2 L632 543.2 L637.4 538.3 L643 534 L648.4 531.3" fill="none" stroke="#2e86f0" stroke-width="0.9" stroke-linejoin="round"/>
<rect x="592.3" y="529.4" width="56.1" height="132.6" fill="none" stroke="#111" stroke-width="1.3"/>
<line x1="592.3" y1="662" x2="592.3" y2="665" stroke="#111" stroke-width="1.0"/>
<text x="592.3" y="675.5" font-size="10.6" text-anchor="middle" fill="#000">0</text>
<line x1="611" y1="662" x2="611" y2="665" stroke="#111" stroke-width="1.0"/>
<text x="611" y="675.5" font-size="10.6" text-anchor="middle" fill="#000">1</text>
<line x1="629.7" y1="662" x2="629.7" y2="665" stroke="#111" stroke-width="1.0"/>
<text x="629.7" y="675.5" font-size="10.6" text-anchor="middle" fill="#000">2</text>
<line x1="648.4" y1="662" x2="648.4" y2="665" stroke="#111" stroke-width="1.0"/>
<text x="648.4" y="675.5" font-size="10.6" text-anchor="middle" fill="#000">3</text>
<line x1="601.65" y1="662" x2="601.65" y2="663.8" stroke="#111" stroke-width="0.9"/>
<line x1="620.35" y1="662" x2="620.35" y2="663.8" stroke="#111" stroke-width="0.9"/>
<line x1="639.05" y1="662" x2="639.05" y2="663.8" stroke="#111" stroke-width="0.9"/>
<line x1="648.4" y1="544" x2="651.4" y2="544" stroke="#111" stroke-width="1.0"/>
<text x="651.6" y="547.8" font-size="10.6" text-anchor="start" fill="#000">400</text>
<line x1="648.4" y1="573.3" x2="651.4" y2="573.3" stroke="#111" stroke-width="1.0"/>
<text x="651.6" y="577.1" font-size="10.6" text-anchor="start" fill="#000">300</text>
<line x1="648.4" y1="602.8" x2="651.4" y2="602.8" stroke="#111" stroke-width="1.0"/>
<text x="651.6" y="606.6" font-size="10.6" text-anchor="start" fill="#000">200</text>
<line x1="648.4" y1="632.4" x2="651.4" y2="632.4" stroke="#111" stroke-width="1.0"/>
<text x="651.6" y="636.2" font-size="10.6" text-anchor="start" fill="#000">100</text>
<line x1="648.4" y1="662" x2="651.4" y2="662" stroke="#111" stroke-width="1.0"/>
<text x="651.6" y="665.8" font-size="10.6" text-anchor="start" fill="#000">0</text>
<line x1="648.4" y1="558.6" x2="650.2" y2="558.6" stroke="#111" stroke-width="0.9"/>
<line x1="648.4" y1="588" x2="650.2" y2="588" stroke="#111" stroke-width="0.9"/>
<line x1="648.4" y1="617.6" x2="650.2" y2="617.6" stroke="#111" stroke-width="0.9"/>
<line x1="648.4" y1="647.2" x2="650.2" y2="647.2" stroke="#111" stroke-width="0.9"/>
<text x="621" y="690" font-size="13.0" text-anchor="middle" fill="#000">Voltage (V)</text>
<text x="681.5" y="597" font-size="13.4" text-anchor="middle" fill="#000" transform="rotate(-90 681.5 597)">Time (min)</text>
<path d="M648 838.5 L640 838.2 L628.9 837.3 L620.4 834.2 L616 830.8 L613 826.7 L610 821.8 L607.7 817.2 L606.3 812 L605.6 806.6 L603.3 800 L600.3 793.9 L597.8 786 L595.5 777 L594 769 L592.9 760 L592.2 753 L591.9 747.2" fill="none" stroke="#2e86f0" stroke-width="0.9" stroke-linejoin="round"/>
<path d="M591.9 747.2 L600 738.2 L608 728.6 L614.1 721.8 L621 717.2 L628.9 712.9 L638 708.6 L648 705.2" fill="none" stroke="#f0606e" stroke-width="0.9" stroke-linejoin="round"/>
<rect x="590.2" y="703.8" width="57.8" height="135" fill="none" stroke="#111" stroke-width="1.3"/>
<line x1="590.2" y1="838.8" x2="590.2" y2="841.8" stroke="#111" stroke-width="1.0"/>
<text x="590.2" y="851.5" font-size="10.6" text-anchor="middle" fill="#000">0</text>
<line x1="609.47" y1="838.8" x2="609.47" y2="841.8" stroke="#111" stroke-width="1.0"/>
<text x="609.47" y="851.5" font-size="10.6" text-anchor="middle" fill="#000">1</text>
<line x1="628.73" y1="838.8" x2="628.73" y2="841.8" stroke="#111" stroke-width="1.0"/>
<text x="628.73" y="851.5" font-size="10.6" text-anchor="middle" fill="#000">2</text>
<line x1="648" y1="838.8" x2="648" y2="841.8" stroke="#111" stroke-width="1.0"/>
<text x="648" y="851.5" font-size="10.6" text-anchor="middle" fill="#000">3</text>
<line x1="599.83" y1="838.8" x2="599.83" y2="840.6" stroke="#111" stroke-width="0.9"/>
<line x1="619.1" y1="838.8" x2="619.1" y2="840.6" stroke="#111" stroke-width="0.9"/>
<line x1="638.37" y1="838.8" x2="638.37" y2="840.6" stroke="#111" stroke-width="0.9"/>
<line x1="648" y1="711.2" x2="651" y2="711.2" stroke="#111" stroke-width="1.0"/>
<text x="651.5" y="715" font-size="10.6" text-anchor="start" fill="#000">800</text>
<line x1="648" y1="742.9" x2="651" y2="742.9" stroke="#111" stroke-width="1.0"/>
<text x="651.5" y="746.7" font-size="10.6" text-anchor="start" fill="#000">600</text>
<line x1="648" y1="774.7" x2="651" y2="774.7" stroke="#111" stroke-width="1.0"/>
<text x="651.5" y="778.5" font-size="10.6" text-anchor="start" fill="#000">400</text>
<line x1="648" y1="806.9" x2="651" y2="806.9" stroke="#111" stroke-width="1.0"/>
<text x="651.5" y="810.7" font-size="10.6" text-anchor="start" fill="#000">200</text>
<line x1="648" y1="838.8" x2="651" y2="838.8" stroke="#111" stroke-width="1.0"/>
<text x="651.5" y="842.6" font-size="10.6" text-anchor="start" fill="#000">0</text>
<line x1="648" y1="727" x2="649.8" y2="727" stroke="#111" stroke-width="0.9"/>
<line x1="648" y1="758.8" x2="649.8" y2="758.8" stroke="#111" stroke-width="0.9"/>
<line x1="648" y1="790.8" x2="649.8" y2="790.8" stroke="#111" stroke-width="0.9"/>
<line x1="648" y1="822.8" x2="649.8" y2="822.8" stroke="#111" stroke-width="0.9"/>
<text x="621.5" y="863" font-size="13.0" text-anchor="middle" fill="#000">Voltage (V)</text>
<text x="681.5" y="770.5" font-size="13.4" text-anchor="middle" fill="#000" transform="rotate(-90 681.5 770.5)">Time (min)</text>
<line x1="52.48" y1="457.5" x2="52.48" y2="448" stroke="#555" stroke-width="0.6"/>
<line x1="55.8" y1="457.5" x2="55.8" y2="441.3" stroke="#555" stroke-width="0.6"/>
<line x1="65.15" y1="457.5" x2="65.15" y2="453.2" stroke="#111" stroke-width="0.9"/>
<line x1="72.99" y1="457.5" x2="72.99" y2="452" stroke="#111" stroke-width="0.9"/>
<line x1="78.42" y1="457.5" x2="78.42" y2="445" stroke="#111" stroke-width="0.9"/>
<line x1="86.87" y1="457.5" x2="86.87" y2="452.6" stroke="#555" stroke-width="0.6"/>
<line x1="93.36" y1="457.5" x2="93.36" y2="367.9" stroke="#111" stroke-width="0.9"/>
<line x1="103.16" y1="457.5" x2="103.16" y2="452.6" stroke="#555" stroke-width="0.6"/>
<line x1="108.29" y1="457.5" x2="108.29" y2="443.2" stroke="#555" stroke-width="0.6"/>
<line x1="114.62" y1="457.5" x2="114.62" y2="452.6" stroke="#111" stroke-width="0.9"/>
<line x1="135.74" y1="457.5" x2="135.74" y2="451.5" stroke="#111" stroke-width="0.9"/>
<line x1="144.19" y1="457.5" x2="144.19" y2="453.2" stroke="#555" stroke-width="0.6"/>
<line x1="149.01" y1="457.5" x2="149.01" y2="445.2" stroke="#111" stroke-width="0.9"/>
<line x1="160.18" y1="457.5" x2="160.18" y2="454" stroke="#555" stroke-width="0.6"/>
<line x1="172.54" y1="457.5" x2="172.54" y2="454.4" stroke="#555" stroke-width="0.6"/>
<line x1="182.8" y1="457.5" x2="182.8" y2="454.2" stroke="#555" stroke-width="0.6"/>
<line x1="191.85" y1="457.5" x2="191.85" y2="449.6" stroke="#555" stroke-width="0.6"/>
<line x1="205.42" y1="457.5" x2="205.42" y2="454.8" stroke="#555" stroke-width="0.6"/>
<line x1="123.97" y1="457.5" x2="123.97" y2="454.6" stroke="#555" stroke-width="0.6"/>
<line x1="154.44" y1="457.5" x2="154.44" y2="454.4" stroke="#555" stroke-width="0.6"/>
<path d="M38 457.67 L38.5 457.5 L39 457.29 L39.5 457.83 L40 457.37 L40.5 457.72 L41 457.31 L41.5 457.31 L42 457.68 L42.5 457.36 L43 457.82 L43.5 457.5 L44 457.28 L44.5 457.31 L45 457.44 L45.5 457.62 L46 457.81 L46.5 457.25 L47 457.43 L47.5 457.3 L48 457.83 L48.5 457.25 L49 457.19 L49.5 457.19 L50 457.43 L50.5 457.78 L51 457.77 L51.5 457.66 L52 457.85 L52.5 457.8 L53 457.38 L53.5 457.28 L54 457.81 L54.5 457.67 L55 457.17 L55.5 457.62 L56 457.42 L56.5 457.41 L57 457.38 L57.5 457.27 L58 457.15 L58.5 457.35 L59 457.4 L59.5 457.82 L60 457.24 L60.5 457.82 L61 457.3 L61.5 457.4 L62 457.73 L62.5 457.73 L63 457.45 L63.5 457.18 L64 457.48 L64.5 457.41 L65 457.79 L65.5 457.29 L66 457.4 L66.5 457.78 L67 457.17 L67.5 457.44 L68 457.72 L68.5 457.69 L69 457.18 L69.5 457.17 L70 457.19 L70.5 457.79 L71 457.33 L71.5 457.67 L72 457.78 L72.5 457.39 L73 457.34 L73.5 457.82 L74 457.58 L74.5 457.33 L75 457.65 L75.5 457.37 L76 457.34 L76.5 457.15 L77 457.68 L77.5 457.79 L78 457.59 L78.5 457.81 L79 457.17 L79.5 457.31 L80 457.48 L80.5 457.82 L81 457.82 L81.5 457.42 L82 457.33 L82.5 457.45 L83 457.5 L83.5 457.8 L84 457.28 L84.5 457.71 L85 457.67 L85.5 457.73 L86 457.69 L86.5 457.58 L87 457.38 L87.5 457.37 L88 457.4 L88.5 457.7 L89 457.21 L89.5 457.29 L90 457.68 L90.5 457.32 L91 457.2 L91.5 457.17 L92 457.54 L92.5 457.38 L93 457.84 L93.5 457.77 L94 457.84 L94.5 457.34 L95 457.21 L95.5 457.22 L96 457.5 L96.5 457.65 L97 457.46 L97.5 457.31 L98 457.44 L98.5 457.58 L99 457.62 L99.5 457.67 L100 457.74 L100.5 457.62 L101 457.23 L101.5 457.74 L102 457.36 L102.5 457.55 L103 457.41 L103.5 457.67 L104 457.29 L104.5 457.32 L105 457.32 L105.5 457.26 L106 457.77 L106.5 457.55 L107 457.38 L107.5 457.43 L108 457.84 L108.5 457.51 L109 457.31 L109.5 457.72 L110 457.61 L110.5 457.84 L111 457.22 L111.5 457.48 L112 457.72 L112.5 457.74 L113 457.79 L113.5 457.18 L114 457.36 L114.5 457.23 L115 457.28 L115.5 457.83 L116 457.56 L116.5 457.8 L117 457.41 L117.5 457.76 L118 457.46 L118.5 457.33 L119 457.69 L119.5 457.81 L120 457.22 L120.5 457.57 L121 457.58 L121.5 457.3 L122 457.41 L122.5 457.25 L123 457.29 L123.5 457.33 L124 457.57 L124.5 457.61 L125 457.29 L125.5 457.16 L126 457.38 L126.5 457.62 L127 457.28 L127.5 457.37 L128 457.29 L128.5 457.71 L129 457.53 L129.5 457.19 L130 457.22 L130.5 457.43 L131 457.54 L131.5 457.6 L132 457.21 L132.5 457.26 L133 457.64 L133.5 457.44 L134 457.35 L134.5 457.37 L135 457.82 L135.5 457.37 L136 457.55 L136.5 457.4 L137 457.44 L137.5 457.75 L138 457.85 L138.5 457.4 L139 457.29 L139.5 457.66 L140 457.29 L140.5 457.15 L141 457.78 L141.5 457.45 L142 457.72 L142.5 457.43 L143 457.77 L143.5 457.47 L144 457.26 L144.5 457.16 L145 457.54 L145.5 457.6 L146 457.79 L146.5 457.21 L147 457.59 L147.5 457.41 L148 457.5 L148.5 457.25 L149 457.35 L149.5 457.51 L150 457.8 L150.5 457.23 L151 457.49 L151.5 457.71 L152 457.83 L152.5 457.29 L153 457.24 L153.5 457.81 L154 457.83 L154.5 457.49 L155 457.19 L155.5 457.8 L156 457.42 L156.5 457.78 L157 457.58 L157.5 457.73 L158 457.26 L158.5 457.7 L159 457.31 L159.5 457.43 L160 457.74 L160.5 457.73 L161 457.28 L161.5 457.3 L162 457.43 L162.5 457.51 L163 457.42 L163.5 457.24 L164 457.32 L164.5 457.66 L165 457.78 L165.5 457.18 L166 457.54 L166.5 457.68 L167 457.18 L167.5 457.74 L168 457.23 L168.5 457.57 L169 457.54 L169.5 457.59 L170 457.36 L170.5 457.44 L171 457.56 L171.5 457.45 L172 457.61 L172.5 457.46 L173 457.46 L173.5 457.17 L174 457.58 L174.5 457.49 L175 457.31 L175.5 457.68 L176 457.7 L176.5 457.47 L177 457.28 L177.5 457.48 L178 457.22 L178.5 457.24 L179 457.45 L179.5 457.21 L180 457.46 L180.5 457.51 L181 457.18 L181.5 457.6 L182 457.21 L182.5 457.66 L183 457.69 L183.5 457.51 L184 457.19 L184.5 457.5 L185 457.41 L185.5 457.82 L186 457.25 L186.5 457.75 L187 457.85 L187.5 457.66 L188 457.72 L188.5 457.29 L189 457.84 L189.5 457.49 L190 457.82 L190.5 457.79 L191 457.27 L191.5 457.7 L192 457.8 L192.5 457.2 L193 457.4 L193.5 457.68 L194 457.26 L194.5 457.78 L195 457.34 L195.5 457.72 L196 457.25 L196.5 457.5 L197 457.79 L197.5 457.3 L198 457.33 L198.5 457.5 L199 457.37 L199.5 457.18 L200 457.28 L200.5 457.26 L201 457.81 L201.5 457.63 L202 457.78 L202.5 457.27 L203 457.7 L203.5 457.23 L204 457.52 L204.5 457.6 L205 457.4 L205.5 457.76 L206 457.54 L206.5 457.56 L207 457.77 L207.5 457.22 L208 457.85 L208.5 457.59 L209 457.43 L209.5 457.71 L210 457.34 L210.5 457.84 L211 457.55 L211.5 457.4 L212 457.69 L212.5 457.46 L213 457.27 L213.5 457.67 L214 457.18 L214.5 457.72 L215 457.33 L215.5 457.6 L216 457.84 L216.5 457.56 L217 457.61 L217.5 457.37 L218 457.15 L218.5 457.17 L219 457.25" fill="none" stroke="#f81c1c" stroke-width="4.6" stroke-linejoin="round"/>
<circle cx="52.48" cy="448" r="1.5" fill="#fff" stroke="#f22a2a" stroke-width="0.62" fill-opacity="0.72"/>
<circle cx="52.48" cy="451.3" r="1.5" fill="#fff" stroke="#f22a2a" stroke-width="0.62" fill-opacity="0.72"/>
<circle cx="52.48" cy="453.6" r="1.5" fill="#fff" stroke="#f22a2a" stroke-width="0.62" fill-opacity="0.72"/>
<circle cx="56.15" cy="441.3" r="1.6" fill="#fff" stroke="#f22a2a" stroke-width="0.62" fill-opacity="0.72"/>
<circle cx="55.45" cy="444.6" r="1.6" fill="#fff" stroke="#f22a2a" stroke-width="0.62" fill-opacity="0.72"/>
<circle cx="56.15" cy="447.9" r="1.6" fill="#fff" stroke="#f22a2a" stroke-width="0.62" fill-opacity="0.72"/>
<circle cx="55.45" cy="451.2" r="1.6" fill="#fff" stroke="#f22a2a" stroke-width="0.62" fill-opacity="0.72"/>
<circle cx="56.15" cy="453.5" r="1.6" fill="#fff" stroke="#f22a2a" stroke-width="0.62" fill-opacity="0.72"/>
<circle cx="54.2" cy="454.3" r="1.6" fill="none" stroke="#f22a2a" stroke-width="0.62"/>
<circle cx="57.4" cy="454.3" r="1.6" fill="none" stroke="#f22a2a" stroke-width="0.62"/>
<circle cx="54.8" cy="451.3" r="1.6" fill="none" stroke="#f22a2a" stroke-width="0.62"/>
<circle cx="56.8" cy="451.3" r="1.6" fill="none" stroke="#f22a2a" stroke-width="0.62"/>
<circle cx="78.42" cy="447.7" r="1.6" fill="#fff" stroke="#f22a2a" stroke-width="0.62" fill-opacity="0.72"/>
<circle cx="78.42" cy="451" r="1.6" fill="#fff" stroke="#f22a2a" stroke-width="0.62" fill-opacity="0.72"/>
<circle cx="78.42" cy="453.3" r="1.6" fill="#fff" stroke="#f22a2a" stroke-width="0.62" fill-opacity="0.72"/>
<circle cx="86.87" cy="452.6" r="1.5" fill="#fff" stroke="#f22a2a" stroke-width="0.62" fill-opacity="0.72"/>
<circle cx="86.87" cy="454.9" r="1.5" fill="#fff" stroke="#f22a2a" stroke-width="0.62" fill-opacity="0.72"/>
<circle cx="85.87" cy="454" r="1.5" fill="#fff" stroke="#f22a2a" stroke-width="0.6" fill-opacity="0.6"/>
<circle cx="87.87" cy="454" r="1.5" fill="#fff" stroke="#f22a2a" stroke-width="0.6" fill-opacity="0.6"/>
<circle cx="93.71" cy="379.7" r="1.6" fill="#fff" stroke="#f22a2a" stroke-width="0.62" fill-opacity="0.45"/>
<circle cx="93.01" cy="382.5" r="1.6" fill="#fff" stroke="#f22a2a" stroke-width="0.62" fill-opacity="0.45"/>
<circle cx="93.71" cy="385.7" r="1.6" fill="#fff" stroke="#f22a2a" stroke-width="0.62" fill-opacity="0.45"/>
<circle cx="93.01" cy="388.6" r="1.6" fill="#fff" stroke="#f22a2a" stroke-width="0.62" fill-opacity="0.45"/>
<circle cx="93.71" cy="395.7" r="1.6" fill="#fff" stroke="#f22a2a" stroke-width="0.62" fill-opacity="0.45"/>
<circle cx="93.01" cy="405.9" r="1.6" fill="#fff" stroke="#f22a2a" stroke-width="0.62" fill-opacity="0.45"/>
<circle cx="93.71" cy="416.1" r="1.6" fill="#fff" stroke="#f22a2a" stroke-width="0.62" fill-opacity="0.45"/>
<circle cx="93.01" cy="425.8" r="1.6" fill="#fff" stroke="#f22a2a" stroke-width="0.62" fill-opacity="0.45"/>
<circle cx="93.71" cy="433.7" r="1.6" fill="#fff" stroke="#f22a2a" stroke-width="0.62" fill-opacity="0.45"/>
<circle cx="93.01" cy="439.3" r="1.6" fill="#fff" stroke="#f22a2a" stroke-width="0.62" fill-opacity="0.45"/>
<circle cx="93.71" cy="443.5" r="1.6" fill="#fff" stroke="#f22a2a" stroke-width="0.62" fill-opacity="0.45"/>
<circle cx="93.01" cy="446.8" r="1.6" fill="#fff" stroke="#f22a2a" stroke-width="0.62" fill-opacity="0.45"/>
<circle cx="93.71" cy="449.6" r="1.6" fill="#fff" stroke="#f22a2a" stroke-width="0.62" fill-opacity="0.45"/>
<circle cx="93.01" cy="452.2" r="1.6" fill="#fff" stroke="#f22a2a" stroke-width="0.62" fill-opacity="0.45"/>
<circle cx="93.71" cy="454.4" r="1.6" fill="#fff" stroke="#f22a2a" stroke-width="0.62" fill-opacity="0.45"/>
<circle cx="91.76" cy="454.3" r="1.6" fill="none" stroke="#f22a2a" stroke-width="0.62"/>
<circle cx="94.96" cy="454.3" r="1.6" fill="none" stroke="#f22a2a" stroke-width="0.62"/>
<circle cx="92.36" cy="451.3" r="1.6" fill="none" stroke="#f22a2a" stroke-width="0.62"/>
<circle cx="94.36" cy="451.3" r="1.6" fill="none" stroke="#f22a2a" stroke-width="0.62"/>
<circle cx="103.16" cy="452.6" r="1.5" fill="#fff" stroke="#f22a2a" stroke-width="0.62" fill-opacity="0.72"/>
<circle cx="103.16" cy="454.9" r="1.5" fill="#fff" stroke="#f22a2a" stroke-width="0.62" fill-opacity="0.72"/>
<circle cx="102.16" cy="454" r="1.5" fill="#fff" stroke="#f22a2a" stroke-width="0.6" fill-opacity="0.6"/>
<circle cx="104.16" cy="454" r="1.5" fill="#fff" stroke="#f22a2a" stroke-width="0.6" fill-opacity="0.6"/>
<circle cx="108.64" cy="443.2" r="1.6" fill="#fff" stroke="#f22a2a" stroke-width="0.62" fill-opacity="0.72"/>
<circle cx="107.94" cy="446.5" r="1.6" fill="#fff" stroke="#f22a2a" stroke-width="0.62" fill-opacity="0.72"/>
<circle cx="108.64" cy="449.8" r="1.6" fill="#fff" stroke="#f22a2a" stroke-width="0.62" fill-opacity="0.72"/>
<circle cx="107.94" cy="452.1" r="1.6" fill="#fff" stroke="#f22a2a" stroke-width="0.62" fill-opacity="0.72"/>
<circle cx="108.64" cy="454.4" r="1.6" fill="#fff" stroke="#f22a2a" stroke-width="0.62" fill-opacity="0.72"/>
<circle cx="106.69" cy="454.3" r="1.6" fill="none" stroke="#f22a2a" stroke-width="0.62"/>
<circle cx="109.89" cy="454.3" r="1.6" fill="none" stroke="#f22a2a" stroke-width="0.62"/>
<circle cx="107.29" cy="451.3" r="1.6" fill="none" stroke="#f22a2a" stroke-width="0.62"/>
<circle cx="109.29" cy="451.3" r="1.6" fill="none" stroke="#f22a2a" stroke-width="0.62"/>
<circle cx="135.74" cy="452.8" r="1.3" fill="#fff" stroke="#f22a2a" stroke-width="0.62" fill-opacity="0.72"/>
<circle cx="134.74" cy="454.2" r="1.3" fill="#fff" stroke="#f22a2a" stroke-width="0.6" fill-opacity="0.6"/>
<circle cx="136.74" cy="454.2" r="1.3" fill="#fff" stroke="#f22a2a" stroke-width="0.6" fill-opacity="0.6"/>
<circle cx="144.19" cy="453.2" r="1.3" fill="#fff" stroke="#f22a2a" stroke-width="0.62" fill-opacity="0.72"/>
<circle cx="143.19" cy="454.6" r="1.3" fill="#fff" stroke="#f22a2a" stroke-width="0.6" fill-opacity="0.6"/>
<circle cx="145.19" cy="454.6" r="1.3" fill="#fff" stroke="#f22a2a" stroke-width="0.6" fill-opacity="0.6"/>
<circle cx="149.01" cy="446.2" r="1.6" fill="#fff" stroke="#f22a2a" stroke-width="0.62" fill-opacity="0.72"/>
<circle cx="149.01" cy="449.5" r="1.6" fill="#fff" stroke="#f22a2a" stroke-width="0.62" fill-opacity="0.72"/>
<circle cx="149.01" cy="451.8" r="1.6" fill="#fff" stroke="#f22a2a" stroke-width="0.62" fill-opacity="0.72"/>
<circle cx="149.01" cy="454.1" r="1.6" fill="#fff" stroke="#f22a2a" stroke-width="0.62" fill-opacity="0.72"/>
<circle cx="147.41" cy="454.3" r="1.6" fill="none" stroke="#f22a2a" stroke-width="0.62"/>
<circle cx="150.61" cy="454.3" r="1.6" fill="none" stroke="#f22a2a" stroke-width="0.62"/>
<circle cx="148.01" cy="451.3" r="1.6" fill="none" stroke="#f22a2a" stroke-width="0.62"/>
<circle cx="150.01" cy="451.3" r="1.6" fill="none" stroke="#f22a2a" stroke-width="0.62"/>
<circle cx="160.18" cy="454" r="1.2" fill="#fff" stroke="#f22a2a" stroke-width="0.62" fill-opacity="0.72"/>
<circle cx="159.18" cy="455.4" r="1.2" fill="#fff" stroke="#f22a2a" stroke-width="0.6" fill-opacity="0.6"/>
<circle cx="161.18" cy="455.4" r="1.2" fill="#fff" stroke="#f22a2a" stroke-width="0.6" fill-opacity="0.6"/>
<circle cx="172.54" cy="454.4" r="1.2" fill="#fff" stroke="#f22a2a" stroke-width="0.62" fill-opacity="0.72"/>
<circle cx="182.8" cy="454.2" r="1.2" fill="#fff" stroke="#f22a2a" stroke-width="0.62" fill-opacity="0.72"/>
<circle cx="191.85" cy="449.6" r="1.5" fill="#fff" stroke="#f22a2a" stroke-width="0.62" fill-opacity="0.72"/>
<circle cx="191.85" cy="451.9" r="1.5" fill="#fff" stroke="#f22a2a" stroke-width="0.62" fill-opacity="0.72"/>
<circle cx="191.85" cy="454.2" r="1.5" fill="#fff" stroke="#f22a2a" stroke-width="0.62" fill-opacity="0.72"/>
<circle cx="190.85" cy="451" r="1.5" fill="#fff" stroke="#f22a2a" stroke-width="0.6" fill-opacity="0.6"/>
<circle cx="192.85" cy="451" r="1.5" fill="#fff" stroke="#f22a2a" stroke-width="0.6" fill-opacity="0.6"/>
<circle cx="190.85" cy="453.3" r="1.5" fill="#fff" stroke="#f22a2a" stroke-width="0.6" fill-opacity="0.6"/>
<circle cx="192.85" cy="453.3" r="1.5" fill="#fff" stroke="#f22a2a" stroke-width="0.6" fill-opacity="0.6"/>
<circle cx="205.42" cy="454.8" r="1.1" fill="#fff" stroke="#f22a2a" stroke-width="0.62" fill-opacity="0.72"/>
<circle cx="123.97" cy="454.6" r="1.1" fill="#fff" stroke="#f22a2a" stroke-width="0.62" fill-opacity="0.72"/>
<circle cx="154.44" cy="454.4" r="1.1" fill="#fff" stroke="#f22a2a" stroke-width="0.62" fill-opacity="0.72"/>
<line x1="46.14" y1="466.6" x2="46.14" y2="470.8" stroke="#801818" stroke-width="1.0" opacity="1"/>
<line x1="49.46" y1="466.6" x2="49.46" y2="470.8" stroke="#801818" stroke-width="1.0" opacity="1"/>
<line x1="53.08" y1="466.6" x2="53.08" y2="470.8" stroke="#801818" stroke-width="1.0" opacity="1"/>
<line x1="56.1" y1="466.6" x2="56.1" y2="470.8" stroke="#801818" stroke-width="1.0" opacity="1"/>
<line x1="70.28" y1="466.6" x2="70.28" y2="470.8" stroke="#801818" stroke-width="1.0" opacity="0.85"/>
<line x1="72.69" y1="466.6" x2="72.69" y2="470.8" stroke="#801818" stroke-width="1.0" opacity="0.55"/>
<line x1="77.52" y1="466.6" x2="77.52" y2="470.8" stroke="#801818" stroke-width="1.0" opacity="0.7"/>
<line x1="82.04" y1="466.6" x2="82.04" y2="470.8" stroke="#801818" stroke-width="1.0" opacity="1"/>
<line x1="86.57" y1="466.6" x2="86.57" y2="470.8" stroke="#801818" stroke-width="1.0" opacity="0.7"/>
<line x1="91.7" y1="466.6" x2="91.7" y2="470.8" stroke="#801818" stroke-width="1.0" opacity="1"/>
<line x1="93.81" y1="466.6" x2="93.81" y2="470.8" stroke="#801818" stroke-width="1.0" opacity="0.55"/>
<line x1="98.33" y1="466.6" x2="98.33" y2="470.8" stroke="#801818" stroke-width="1.0" opacity="0.55"/>
<line x1="101.05" y1="466.6" x2="101.05" y2="470.8" stroke="#801818" stroke-width="1.0" opacity="0.55"/>
<line x1="103.46" y1="466.6" x2="103.46" y2="470.8" stroke="#801818" stroke-width="1.0" opacity="0.55"/>
<line x1="105.88" y1="466.6" x2="105.88" y2="470.8" stroke="#801818" stroke-width="1.0" opacity="1"/>
<line x1="107.99" y1="466.6" x2="107.99" y2="470.8" stroke="#801818" stroke-width="1.0" opacity="0.85"/>
<line x1="110.1" y1="466.6" x2="110.1" y2="470.8" stroke="#801818" stroke-width="1.0" opacity="0.85"/>
<line x1="112.21" y1="466.6" x2="112.21" y2="470.8" stroke="#801818" stroke-width="1.0" opacity="0.55"/>
<line x1="115.23" y1="466.6" x2="115.23" y2="470.8" stroke="#801818" stroke-width="1.0" opacity="1"/>
<line x1="120.35" y1="466.6" x2="120.35" y2="470.8" stroke="#801818" stroke-width="1.0" opacity="0.85"/>
<line x1="122.77" y1="466.6" x2="122.77" y2="470.8" stroke="#801818" stroke-width="1.0" opacity="1"/>
<line x1="125.48" y1="466.6" x2="125.48" y2="470.8" stroke="#801818" stroke-width="1.0" opacity="0.7"/>
<line x1="128.5" y1="466.6" x2="128.5" y2="470.8" stroke="#801818" stroke-width="1.0" opacity="1"/>
<line x1="130.61" y1="466.6" x2="130.61" y2="470.8" stroke="#801818" stroke-width="1.0" opacity="1"/>
<line x1="133.02" y1="466.6" x2="133.02" y2="470.8" stroke="#801818" stroke-width="1.0" opacity="0.85"/>
<line x1="134.84" y1="466.6" x2="134.84" y2="470.8" stroke="#801818" stroke-width="1.0" opacity="1"/>
<line x1="137.55" y1="466.6" x2="137.55" y2="470.8" stroke="#801818" stroke-width="1.0" opacity="0.7"/>
<line x1="139.36" y1="466.6" x2="139.36" y2="470.8" stroke="#801818" stroke-width="1.0" opacity="0.7"/>
<line x1="141.47" y1="466.6" x2="141.47" y2="470.8" stroke="#801818" stroke-width="1.0" opacity="0.85"/>
<line x1="143.58" y1="466.6" x2="143.58" y2="470.8" stroke="#801818" stroke-width="1.0" opacity="1"/>
<line x1="145.39" y1="466.6" x2="145.39" y2="470.8" stroke="#801818" stroke-width="1.0" opacity="1"/>
<line x1="147.5" y1="466.6" x2="147.5" y2="470.8" stroke="#801818" stroke-width="1.0" opacity="0.7"/>
<line x1="149.62" y1="466.6" x2="149.62" y2="470.8" stroke="#801818" stroke-width="1.0" opacity="0.7"/>
<line x1="152.03" y1="466.6" x2="152.03" y2="470.8" stroke="#801818" stroke-width="1.0" opacity="0.55"/>
<line x1="154.14" y1="466.6" x2="154.14" y2="470.8" stroke="#801818" stroke-width="1.0" opacity="0.7"/>
<line x1="159.87" y1="466.6" x2="159.87" y2="470.8" stroke="#801818" stroke-width="1.0" opacity="0.7"/>
<line x1="161.68" y1="466.6" x2="161.68" y2="470.8" stroke="#801818" stroke-width="1.0" opacity="1"/>
<line x1="164.1" y1="466.6" x2="164.1" y2="470.8" stroke="#801818" stroke-width="1.0" opacity="0.55"/>
<line x1="166.21" y1="466.6" x2="166.21" y2="470.8" stroke="#801818" stroke-width="1.0" opacity="0.55"/>
<line x1="168.92" y1="466.6" x2="168.92" y2="470.8" stroke="#801818" stroke-width="1.0" opacity="0.7"/>
<line x1="170.73" y1="466.6" x2="170.73" y2="470.8" stroke="#801818" stroke-width="1.0" opacity="0.85"/>
<line x1="172.54" y1="466.6" x2="172.54" y2="470.8" stroke="#801818" stroke-width="1.0" opacity="1"/>
<line x1="174.35" y1="466.6" x2="174.35" y2="470.8" stroke="#801818" stroke-width="1.0" opacity="0.85"/>
<line x1="176.77" y1="466.6" x2="176.77" y2="470.8" stroke="#801818" stroke-width="1.0" opacity="0.55"/>
<line x1="178.28" y1="466.6" x2="178.28" y2="470.8" stroke="#801818" stroke-width="1.0" opacity="0.55"/>
<line x1="180.09" y1="466.6" x2="180.09" y2="470.8" stroke="#801818" stroke-width="1.0" opacity="1"/>
<line x1="181.59" y1="466.6" x2="181.59" y2="470.8" stroke="#801818" stroke-width="1.0" opacity="0.85"/>
<line x1="184.31" y1="466.6" x2="184.31" y2="470.8" stroke="#801818" stroke-width="1.0" opacity="1"/>
<line x1="185.82" y1="466.6" x2="185.82" y2="470.8" stroke="#801818" stroke-width="1.0" opacity="1"/>
<line x1="187.32" y1="466.6" x2="187.32" y2="470.8" stroke="#801818" stroke-width="1.0" opacity="1"/>
<line x1="188.83" y1="466.6" x2="188.83" y2="470.8" stroke="#801818" stroke-width="1.0" opacity="1"/>
<line x1="190.34" y1="466.6" x2="190.34" y2="470.8" stroke="#801818" stroke-width="1.0" opacity="1"/>
<line x1="191.85" y1="466.6" x2="191.85" y2="470.8" stroke="#801818" stroke-width="1.0" opacity="1"/>
<line x1="193.36" y1="466.6" x2="193.36" y2="470.8" stroke="#801818" stroke-width="1.0" opacity="0.7"/>
<line x1="194.87" y1="466.6" x2="194.87" y2="470.8" stroke="#801818" stroke-width="1.0" opacity="0.7"/>
<line x1="196.07" y1="466.6" x2="196.07" y2="470.8" stroke="#801818" stroke-width="1.0" opacity="0.55"/>
<line x1="197.58" y1="466.6" x2="197.58" y2="470.8" stroke="#801818" stroke-width="1.0" opacity="0.55"/>
<line x1="198.79" y1="466.6" x2="198.79" y2="470.8" stroke="#801818" stroke-width="1.0" opacity="0.55"/>
<line x1="200.3" y1="466.6" x2="200.3" y2="470.8" stroke="#801818" stroke-width="1.0" opacity="1"/>
<line x1="201.5" y1="466.6" x2="201.5" y2="470.8" stroke="#801818" stroke-width="1.0" opacity="0.55"/>
<line x1="203.01" y1="466.6" x2="203.01" y2="470.8" stroke="#801818" stroke-width="1.0" opacity="1"/>
<line x1="204.22" y1="466.6" x2="204.22" y2="470.8" stroke="#801818" stroke-width="1.0" opacity="0.7"/>
<line x1="205.73" y1="466.6" x2="205.73" y2="470.8" stroke="#801818" stroke-width="1.0" opacity="0.7"/>
<line x1="206.93" y1="466.6" x2="206.93" y2="470.8" stroke="#801818" stroke-width="1.0" opacity="0.7"/>
<line x1="208.14" y1="466.6" x2="208.14" y2="470.8" stroke="#801818" stroke-width="1.0" opacity="0.55"/>
<line x1="209.65" y1="466.6" x2="209.65" y2="470.8" stroke="#801818" stroke-width="1.0" opacity="0.55"/>
<line x1="210.85" y1="466.6" x2="210.85" y2="470.8" stroke="#801818" stroke-width="1.0" opacity="0.55"/>
<line x1="212.06" y1="466.6" x2="212.06" y2="470.8" stroke="#801818" stroke-width="1.0" opacity="1"/>
<line x1="213.27" y1="466.6" x2="213.27" y2="470.8" stroke="#801818" stroke-width="1.0" opacity="1"/>
<line x1="214.47" y1="466.6" x2="214.47" y2="470.8" stroke="#801818" stroke-width="1.0" opacity="0.7"/>
<line x1="215.68" y1="466.6" x2="215.68" y2="470.8" stroke="#801818" stroke-width="1.0" opacity="0.7"/>
<line x1="216.89" y1="466.6" x2="216.89" y2="470.8" stroke="#801818" stroke-width="1.0" opacity="1"/>
<line x1="218.09" y1="466.6" x2="218.09" y2="470.8" stroke="#801818" stroke-width="1.0" opacity="0.7"/>
<path d="M38 486.91 L38.6 486.97 L39.2 486.97 L39.8 486.86 L40.41 486.96 L41.01 486.9 L41.61 486.68 L42.21 486.96 L42.81 487.15 L43.41 487.01 L44.01 486.89 L44.61 486.92 L45.22 486.84 L45.82 486.87 L46.42 487.11 L47.02 486.69 L47.62 486.98 L48.22 486.74 L48.82 487.15 L49.43 486.78 L50.03 486.97 L50.63 486.71 L51.23 487.1 L51.83 487.11 L52.08 486.9 L52.36 485.1 L52.43 487.12 L52.64 488.9 L52.93 486.63 L53.03 486.78 L53.38 486.9 L53.63 486.68 L54.24 486.97 L54.84 486.99 L55.4 486.9 L55.44 486.99 L55.68 483.9 L55.96 490.1 L56.04 487.11 L56.25 486.45 L56.64 487.14 L56.7 486.9 L57.24 486.8 L57.84 487.11 L58.45 487.1 L59.05 486.69 L59.65 486.9 L60.25 486.73 L60.85 487.1 L61.45 487.07 L62.05 486.75 L62.65 486.73 L63.26 487.11 L63.86 486.75 L64.46 486.84 L64.75 486.9 L65.03 482.9 L65.06 486.95 L65.6 486.3 L65.66 486.84 L66.05 486.9 L66.26 487.08 L66.86 487.11 L67.47 487.14 L68.07 487.07 L68.67 486.92 L69.27 486.89 L69.87 486.92 L70.47 486.65 L71.07 486.66 L71.67 487.13 L72.28 486.77 L72.59 486.9 L72.87 481.9 L72.88 487.09 L73.44 486.15 L73.48 487.04 L73.89 486.9 L74.08 486.85 L74.68 486.94 L75.28 486.93 L75.88 486.74 L76.49 486.67 L77.09 486.71 L77.69 486.96 L78.02 486.9 L78.29 486.73 L78.3 483.9 L78.87 486.45 L78.89 487.14 L79.32 486.9 L79.49 487 L80.09 486.67 L80.69 486.72 L81.3 486.97 L81.9 486.67 L82.5 486.68 L83.1 486.67 L83.7 487.08 L84.3 487.03 L84.9 486.75 L85.5 487.13 L86.11 486.92 L86.71 486.98 L86.77 486.9 L87.05 485.3 L87.31 487.09 L87.62 486.66 L87.91 487.03 L88.07 486.9 L88.51 487.01 L89.11 486.84 L89.71 486.77 L90.32 486.75 L90.92 486.67 L91.52 487.12 L92.12 487.11 L92.72 487.03 L92.96 486.9 L93.24 469.9 L93.32 486.69 L93.52 491.9 L93.81 484.35 L93.92 487.03 L94.26 486.9 L94.52 486.97 L95.13 486.89 L95.73 486.72 L96.33 487.05 L96.73 486.9 L96.93 486.97 L97.01 486.9 L97.29 488.5 L97.53 486.8 L97.58 486.9 L98.03 486.9 L98.13 486.82 L98.73 486.78 L99.34 486.83 L99.94 487.12 L100.54 486.67 L101.14 487.03 L101.74 487.11 L102.34 487.03 L102.76 486.9 L102.94 486.95 L103.04 485.3 L103.32 487.9 L103.54 486.89 L103.61 486.66 L104.06 486.9 L104.15 486.79 L104.75 487.02 L105.35 487.04 L105.95 486.67 L106.55 486.91 L107.15 486.7 L107.59 486.9 L107.75 486.88 L107.87 486.9 L108.15 491.1 L108.36 486.67 L108.44 486.9 L108.79 486.9 L108.89 486.9 L108.96 486.93 L109.07 481.9 L109.56 487.01 L109.64 486.15 L110.09 486.9 L110.16 487.06 L110.76 486.94 L111.36 486.79 L111.96 486.87 L112.56 486.91 L113.17 486.79 L113.77 487.03 L113.92 486.9 L114.2 483.3 L114.37 486.68 L114.77 486.36 L114.97 486.82 L115.22 486.9 L115.57 486.7 L116.17 487 L116.64 486.9 L116.77 487.06 L116.92 485.7 L117.38 487.13 L117.49 486.72 L117.94 486.9 L117.98 486.95 L118.58 487.13 L119.18 486.91 L119.78 486.94 L120.38 486.73 L120.98 487.06 L121.58 487.12 L122.19 486.77 L122.79 486.73 L123.39 487.12 L123.99 487.03 L124.59 486.9 L125.19 487.15 L125.79 486.93 L126.4 486.7 L127 486.81 L127.6 486.7 L128.2 487.11 L128.8 487.1 L129.4 487.02 L130 486.86 L130.6 486.97 L131.21 486.84 L131.81 486.8 L132.41 486.86 L133.01 486.92 L133.61 486.74 L134.21 487.14 L134.81 486.97 L135.42 487.12 L135.64 486.9 L135.92 485.3 L136.02 486.71 L136.49 486.66 L136.62 486.95 L136.94 486.9 L137.22 486.99 L137.82 486.95 L138.42 486.67 L139.02 486.94 L139.62 486.91 L140.23 487.08 L140.83 486.88 L141.43 486.93 L142.03 486.81 L142.63 486.88 L143.23 486.99 L143.83 486.78 L144.44 486.77 L145.04 486.82 L145.64 486.97 L146.24 487 L146.84 486.9 L147.44 486.78 L148.04 487.03 L148.31 486.9 L148.59 486.9 L148.64 487.06 L148.87 488.9 L149.16 486.9 L149.25 486.96 L149.52 486.9 L149.61 486.9 L149.8 485.3 L149.85 487.01 L150.37 486.66 L150.45 487.14 L150.82 486.9 L151.05 487.01 L151.65 486.95 L152.25 486.82 L152.85 486.77 L153.46 487.13 L154.06 486.78 L154.66 487.13 L155.26 487.15 L155.86 486.73 L156.46 486.98 L157.06 486.75 L157.66 486.73 L158.27 486.72 L158.87 486.8 L159.47 486.8 L159.78 486.9 L160.06 485.9 L160.07 486.79 L160.62 486.75 L160.67 486.7 L161.08 486.9 L161.27 487.11 L161.87 486.79 L162.48 487.09 L163.08 486.88 L163.68 486.66 L164.28 487.08 L164.88 486.87 L165.48 486.76 L166.08 487.14 L166.68 486.8 L167.29 486.66 L167.89 486.78 L168.49 487.02 L169.09 486.65 L169.69 486.77 L170.29 487.08 L170.89 487 L171.5 486.94 L172.1 486.97 L172.7 487.07 L173.3 486.98 L173.9 486.98 L174.5 487.09 L175.1 486.97 L175.7 486.94 L176.31 486.76 L176.91 486.74 L177.51 486.71 L178.11 486.87 L178.71 486.78 L179.31 487 L179.91 487.1 L180.51 486.77 L181.12 486.85 L181.72 487.01 L182.32 486.73 L182.4 486.9 L182.68 485.3 L182.92 487.07 L183.25 486.66 L183.52 486.89 L183.7 486.9 L184.12 486.66 L184.72 487.08 L185.33 486.91 L185.93 486.98 L186.53 487.09 L187.13 487.1 L187.73 486.81 L188.33 486.66 L188.93 487.07 L189.53 487.1 L190.14 486.7 L190.74 486.78 L191.34 486.76 L191.45 486.9 L191.73 486.1 L191.94 487.01 L192.01 488.5 L192.3 486.78 L192.54 487.13 L192.75 486.9 L193.14 486.75 L193.74 486.82 L194.35 487.07 L194.95 486.88 L195.55 486.75 L196.15 486.89 L196.75 486.66 L197.35 487.05 L197.95 486.83 L198.55 486.82 L199.16 487.02 L199.76 486.88 L200.36 487.15 L200.96 486.74 L201.56 486.91 L202.16 487.12 L202.76 487.01 L203.37 486.96 L203.97 486.97 L204.57 486.78 L205.17 486.84 L205.77 486.68 L206.37 486.69 L206.97 487.11 L207.57 486.96 L208.18 486.99 L208.78 486.94 L209.38 486.7 L209.98 486.8 L210.58 486.85 L211.18 487.13 L211.78 487.14 L212.39 487.15 L212.99 487.13 L213.59 486.88 L214.19 486.73 L214.79 487.11 L215.39 486.68 L215.99 487.05 L216.59 486.75 L217.2 486.97 L217.8 487.01 L218.4 487.06 L219 486.72" fill="none" stroke="#1414ff" stroke-width="0.95" stroke-linejoin="round"/>
<rect x="38" y="360.3" width="181" height="133.6" fill="none" stroke="#222" stroke-width="1.35"/>
<line x1="38" y1="493.6" x2="38" y2="496.1" stroke="#111" stroke-width="1.0"/>
<line x1="53.08" y1="493.6" x2="53.08" y2="495" stroke="#111" stroke-width="1.0"/>
<line x1="68.17" y1="493.6" x2="68.17" y2="496.1" stroke="#111" stroke-width="1.0"/>
<line x1="83.25" y1="493.6" x2="83.25" y2="495" stroke="#111" stroke-width="1.0"/>
<line x1="98.33" y1="493.6" x2="98.33" y2="496.1" stroke="#111" stroke-width="1.0"/>
<line x1="113.42" y1="493.6" x2="113.42" y2="495" stroke="#111" stroke-width="1.0"/>
<line x1="128.5" y1="493.6" x2="128.5" y2="496.1" stroke="#111" stroke-width="1.0"/>
<line x1="143.58" y1="493.6" x2="143.58" y2="495" stroke="#111" stroke-width="1.0"/>
<line x1="158.67" y1="493.6" x2="158.67" y2="496.1" stroke="#111" stroke-width="1.0"/>
<line x1="173.75" y1="493.6" x2="173.75" y2="495" stroke="#111" stroke-width="1.0"/>
<line x1="188.83" y1="493.6" x2="188.83" y2="496.1" stroke="#111" stroke-width="1.0"/>
<line x1="203.92" y1="493.6" x2="203.92" y2="495" stroke="#111" stroke-width="1.0"/>
<line x1="219" y1="493.6" x2="219" y2="496.1" stroke="#111" stroke-width="1.0"/>
<text transform="translate(38 506.9) scale(0.88 1)" font-size="12.4" text-anchor="middle">10</text>
<text transform="translate(68.17 506.9) scale(0.88 1)" font-size="12.4" text-anchor="middle">20</text>
<text transform="translate(98.33 506.9) scale(0.88 1)" font-size="12.4" text-anchor="middle">30</text>
<text transform="translate(128.5 506.9) scale(0.88 1)" font-size="12.4" text-anchor="middle">40</text>
<text transform="translate(158.67 506.9) scale(0.88 1)" font-size="12.4" text-anchor="middle">50</text>
<text transform="translate(188.83 506.9) scale(0.88 1)" font-size="12.4" text-anchor="middle">60</text>
<text transform="translate(219 506.9) scale(0.88 1)" font-size="12.4" text-anchor="middle">70</text>
<text x="97.7" y="518" font-size="12.4" text-anchor="middle" fill="#000" font-style="italic" letter-spacing="2.2">2&#952;</text>
<text x="112" y="517.4" font-size="12.648000000000001" text-anchor="middle" fill="#222">(</text>
<text x="135.3" y="518" font-size="12.4" text-anchor="middle" fill="#000">Degree</text>
<text x="158.9" y="517.4" font-size="12.648000000000001" text-anchor="middle" fill="#222">)</text>
<text x="30.3" y="428.4" font-size="12.0" text-anchor="middle" fill="#000" transform="rotate(-90 30.3 428.4)">Intensity (arb. units)</text>
<line x1="155.7" y1="367.3" x2="174.7" y2="367.3" stroke="#222" stroke-width="0.9"/>
<text x="179.2" y="370.3" font-size="8.4" text-anchor="start" fill="#000">Observed</text>
<circle cx="165.2" cy="378.1" r="1.25" fill="none" stroke="#f02020" stroke-width="0.55"/>
<text x="179.2" y="381.1" font-size="8.4" text-anchor="start" fill="#000">Calculated</text>
<line x1="155.7" y1="388.9" x2="174.7" y2="388.9" stroke="#3c3cff" stroke-width="0.9"/>
<text x="179.2" y="391.9" font-size="8.4" text-anchor="start" fill="#000">Error</text>
<line x1="165.2" y1="397.7" x2="165.2" y2="401.7" stroke="#c04040" stroke-width="0.7"/>
<text x="179.2" y="402.7" font-size="8.4" text-anchor="start" fill="#000"><tspan dy="0" font-size="8.4">K</tspan><tspan dy="1.8" font-size="5.46">2</tspan><tspan dy="-1.8" font-size="8.4">MgV</tspan><tspan dy="1.8" font-size="5.46">2</tspan><tspan dy="-1.8" font-size="8.4">O</tspan><tspan dy="1.8" font-size="5.46">7</tspan></text>
<text x="166.2" y="415.7" font-size="8.4" text-anchor="start" fill="#000"><tspan font-style="italic">R</tspan><tspan dy="1.8" font-size="5.8" font-style="italic">wp</tspan><tspan dy="-1.8">=0.0652</tspan></text>
<line x1="56.98" y1="805.5" x2="56.98" y2="795.5" stroke="#555" stroke-width="0.6"/>
<line x1="67.92" y1="805.5" x2="67.92" y2="796.3" stroke="#555" stroke-width="0.6"/>
<line x1="77.34" y1="805.5" x2="77.34" y2="803" stroke="#555" stroke-width="0.6"/>
<line x1="86.46" y1="805.5" x2="86.46" y2="720" stroke="#111" stroke-width="0.9"/>
<line x1="94.06" y1="805.5" x2="94.06" y2="776.5" stroke="#555" stroke-width="0.6"/>
<line x1="101.06" y1="805.5" x2="101.06" y2="782.2" stroke="#555" stroke-width="0.6"/>
<line x1="108.96" y1="805.5" x2="108.96" y2="767.8" stroke="#111" stroke-width="0.9"/>
<line x1="114.74" y1="805.5" x2="114.74" y2="785.6" stroke="#555" stroke-width="0.6"/>
<line x1="126.9" y1="805.5" x2="126.9" y2="798.9" stroke="#555" stroke-width="0.6"/>
<line x1="131.76" y1="805.5" x2="131.76" y2="802" stroke="#555" stroke-width="0.6"/>
<line x1="137.23" y1="805.5" x2="137.23" y2="794.4" stroke="#555" stroke-width="0.6"/>
<line x1="147.87" y1="805.5" x2="147.87" y2="793.2" stroke="#555" stroke-width="0.6"/>
<line x1="157.9" y1="805.5" x2="157.9" y2="800" stroke="#555" stroke-width="0.6"/>
<line x1="166.72" y1="805.5" x2="166.72" y2="803" stroke="#555" stroke-width="0.6"/>
<line x1="175.84" y1="805.5" x2="175.84" y2="794.4" stroke="#555" stroke-width="0.6"/>
<line x1="177.97" y1="805.5" x2="177.97" y2="798" stroke="#555" stroke-width="0.6"/>
<line x1="184.35" y1="805.5" x2="184.35" y2="798.9" stroke="#555" stroke-width="0.6"/>
<line x1="194.08" y1="805.5" x2="194.08" y2="803" stroke="#555" stroke-width="0.6"/>
<line x1="201.68" y1="805.5" x2="201.68" y2="803.3" stroke="#555" stroke-width="0.6"/>
<line x1="207.76" y1="805.5" x2="207.76" y2="803" stroke="#555" stroke-width="0.6"/>
<line x1="213.84" y1="805.5" x2="213.84" y2="802.2" stroke="#555" stroke-width="0.6"/>
<line x1="152.43" y1="805.5" x2="152.43" y2="803.4" stroke="#555" stroke-width="0.6"/>
<line x1="120.51" y1="805.5" x2="120.51" y2="803.6" stroke="#555" stroke-width="0.6"/>
<path d="M36 805.62 L36.5 805.73 L37 805.71 L37.5 805.44 L38 805.85 L38.51 805.68 L39.01 805.6 L39.51 805.7 L40.01 805.48 L40.51 805.7 L41.01 805.31 L41.51 805.64 L42.01 805.63 L42.51 805.84 L43.02 805.63 L43.52 805.49 L44.02 805.71 L44.52 805.71 L45.02 805.4 L45.52 805.61 L46.02 805.37 L46.52 805.49 L47.02 805.59 L47.53 805.21 L48.03 805.78 L48.53 805.26 L49.03 805.36 L49.53 805.42 L50.03 805.21 L50.53 805.55 L51.03 805.38 L51.53 805.81 L52.04 805.52 L52.54 805.39 L53.04 805.56 L53.54 805.61 L54.04 805.3 L54.54 805.2 L55.04 805.36 L55.54 805.58 L56.04 805.55 L56.55 805.75 L57.05 805.28 L57.55 805.47 L58.05 805.7 L58.55 805.3 L59.05 805.43 L59.55 805.52 L60.05 805.58 L60.55 805.63 L61.05 805.83 L61.56 805.21 L62.06 805.78 L62.56 805.53 L63.06 805.6 L63.56 805.36 L64.06 805.5 L64.56 805.3 L65.06 805.21 L65.56 805.74 L66.07 805.62 L66.57 805.23 L67.07 805.23 L67.57 805.44 L68.07 805.73 L68.57 805.48 L69.07 805.54 L69.57 805.49 L70.07 805.78 L70.58 805.64 L71.08 805.32 L71.58 805.27 L72.08 805.57 L72.58 805.66 L73.08 805.26 L73.58 805.37 L74.08 805.64 L74.58 805.5 L75.09 805.36 L75.59 805.48 L76.09 805.45 L76.59 805.85 L77.09 805.62 L77.59 805.28 L78.09 805.4 L78.59 805.6 L79.09 805.16 L79.6 805.18 L80.1 805.67 L80.6 805.85 L81.1 805.72 L81.6 805.22 L82.1 805.49 L82.6 805.68 L83.1 805.25 L83.6 805.3 L84.11 805.44 L84.61 805.24 L85.11 805.22 L85.61 805.61 L86.11 805.39 L86.61 805.69 L87.11 805.54 L87.61 805.79 L88.11 805.35 L88.62 805.39 L89.12 805.33 L89.62 805.19 L90.12 805.35 L90.62 805.4 L91.12 805.5 L91.62 805.38 L92.12 805.84 L92.62 805.76 L93.13 805.39 L93.63 805.29 L94.13 805.49 L94.63 805.23 L95.13 805.28 L95.63 805.65 L96.13 805.24 L96.63 805.83 L97.13 805.21 L97.64 805.85 L98.14 805.43 L98.64 805.54 L99.14 805.43 L99.64 805.55 L100.14 805.43 L100.64 805.23 L101.14 805.18 L101.64 805.73 L102.15 805.48 L102.65 805.69 L103.15 805.19 L103.65 805.5 L104.15 805.53 L104.65 805.41 L105.15 805.25 L105.65 805.62 L106.15 805.63 L106.65 805.76 L107.16 805.21 L107.66 805.18 L108.16 805.59 L108.66 805.59 L109.16 805.27 L109.66 805.61 L110.16 805.76 L110.66 805.45 L111.16 805.22 L111.67 805.8 L112.17 805.16 L112.67 805.76 L113.17 805.25 L113.67 805.37 L114.17 805.65 L114.67 805.75 L115.17 805.28 L115.67 805.17 L116.18 805.16 L116.68 805.55 L117.18 805.55 L117.68 805.79 L118.18 805.5 L118.68 805.52 L119.18 805.73 L119.68 805.69 L120.18 805.44 L120.69 805.64 L121.19 805.43 L121.69 805.2 L122.19 805.63 L122.69 805.57 L123.19 805.85 L123.69 805.61 L124.19 805.26 L124.69 805.69 L125.2 805.53 L125.7 805.21 L126.2 805.48 L126.7 805.78 L127.2 805.59 L127.7 805.45 L128.2 805.16 L128.7 805.62 L129.2 805.84 L129.71 805.75 L130.21 805.3 L130.71 805.23 L131.21 805.48 L131.71 805.34 L132.21 805.55 L132.71 805.47 L133.21 805.67 L133.71 805.8 L134.22 805.41 L134.72 805.67 L135.22 805.64 L135.72 805.25 L136.22 805.68 L136.72 805.36 L137.22 805.54 L137.72 805.5 L138.22 805.62 L138.73 805.77 L139.23 805.79 L139.73 805.19 L140.23 805.17 L140.73 805.19 L141.23 805.77 L141.73 805.63 L142.23 805.58 L142.73 805.42 L143.24 805.37 L143.74 805.57 L144.24 805.82 L144.74 805.73 L145.24 805.58 L145.74 805.37 L146.24 805.81 L146.74 805.66 L147.24 805.48 L147.75 805.27 L148.25 805.83 L148.75 805.23 L149.25 805.82 L149.75 805.26 L150.25 805.71 L150.75 805.48 L151.25 805.69 L151.75 805.47 L152.25 805.34 L152.76 805.68 L153.26 805.38 L153.76 805.35 L154.26 805.59 L154.76 805.61 L155.26 805.71 L155.76 805.57 L156.26 805.76 L156.76 805.66 L157.27 805.16 L157.77 805.26 L158.27 805.73 L158.77 805.56 L159.27 805.83 L159.77 805.32 L160.27 805.42 L160.77 805.41 L161.27 805.69 L161.78 805.31 L162.28 805.47 L162.78 805.63 L163.28 805.38 L163.78 805.34 L164.28 805.26 L164.78 805.79 L165.28 805.68 L165.78 805.7 L166.29 805.35 L166.79 805.25 L167.29 805.77 L167.79 805.84 L168.29 805.25 L168.79 805.83 L169.29 805.71 L169.79 805.53 L170.29 805.69 L170.8 805.5 L171.3 805.52 L171.8 805.53 L172.3 805.49 L172.8 805.42 L173.3 805.7 L173.8 805.66 L174.3 805.84 L174.8 805.37 L175.31 805.19 L175.81 805.43 L176.31 805.65 L176.81 805.8 L177.31 805.56 L177.81 805.16 L178.31 805.42 L178.81 805.53 L179.31 805.53 L179.82 805.4 L180.32 805.19 L180.82 805.43 L181.32 805.51 L181.82 805.33 L182.32 805.73 L182.82 805.37 L183.32 805.5 L183.82 805.29 L184.33 805.3 L184.83 805.21 L185.33 805.71 L185.83 805.35 L186.33 805.55 L186.83 805.4 L187.33 805.7 L187.83 805.75 L188.33 805.32 L188.84 805.8 L189.34 805.5 L189.84 805.76 L190.34 805.41 L190.84 805.47 L191.34 805.21 L191.84 805.37 L192.34 805.17 L192.84 805.35 L193.35 805.57 L193.85 805.22 L194.35 805.29 L194.85 805.76 L195.35 805.55 L195.85 805.56 L196.35 805.3 L196.85 805.8 L197.35 805.35 L197.85 805.22 L198.36 805.46 L198.86 805.57 L199.36 805.58 L199.86 805.24 L200.36 805.74 L200.86 805.39 L201.36 805.85 L201.86 805.41 L202.36 805.17 L202.87 805.17 L203.37 805.41 L203.87 805.64 L204.37 805.49 L204.87 805.74 L205.37 805.78 L205.87 805.75 L206.37 805.6 L206.87 805.8 L207.38 805.64 L207.88 805.21 L208.38 805.37 L208.88 805.31 L209.38 805.21 L209.88 805.79 L210.38 805.5 L210.88 805.28 L211.38 805.74 L211.89 805.41 L212.39 805.31 L212.89 805.65 L213.39 805.27 L213.89 805.81 L214.39 805.81 L214.89 805.19 L215.39 805.54 L215.89 805.17 L216.4 805.79 L216.9 805.33 L217.4 805.51 L217.9 805.67 L218.4 805.68" fill="none" stroke="#f81c1c" stroke-width="4.6" stroke-linejoin="round"/>
<circle cx="56.98" cy="795.5" r="1.5" fill="#fff" stroke="#f22a2a" stroke-width="0.62" fill-opacity="0.72"/>
<circle cx="56.98" cy="798.8" r="1.5" fill="#fff" stroke="#f22a2a" stroke-width="0.62" fill-opacity="0.72"/>
<circle cx="56.98" cy="801.1" r="1.5" fill="#fff" stroke="#f22a2a" stroke-width="0.62" fill-opacity="0.72"/>
<circle cx="67.92" cy="796.3" r="1.5" fill="#fff" stroke="#f22a2a" stroke-width="0.62" fill-opacity="0.72"/>
<circle cx="67.92" cy="799.6" r="1.5" fill="#fff" stroke="#f22a2a" stroke-width="0.62" fill-opacity="0.72"/>
<circle cx="67.92" cy="801.9" r="1.5" fill="#fff" stroke="#f22a2a" stroke-width="0.62" fill-opacity="0.72"/>
<circle cx="86.81" cy="720.2" r="1.6" fill="#fff" stroke="#f22a2a" stroke-width="0.62" fill-opacity="0.45"/>
<circle cx="86.11" cy="728.3" r="1.6" fill="#fff" stroke="#f22a2a" stroke-width="0.62" fill-opacity="0.45"/>
<circle cx="86.81" cy="730.7" r="1.6" fill="#fff" stroke="#f22a2a" stroke-width="0.62" fill-opacity="0.45"/>
<circle cx="86.11" cy="739.3" r="1.6" fill="#fff" stroke="#f22a2a" stroke-width="0.62" fill-opacity="0.45"/>
<circle cx="86.81" cy="746" r="1.6" fill="#fff" stroke="#f22a2a" stroke-width="0.62" fill-opacity="0.45"/>
<circle cx="86.11" cy="750.4" r="1.6" fill="#fff" stroke="#f22a2a" stroke-width="0.62" fill-opacity="0.45"/>
<circle cx="86.81" cy="761.1" r="1.6" fill="#fff" stroke="#f22a2a" stroke-width="0.62" fill-opacity="0.45"/>
<circle cx="86.11" cy="763" r="1.6" fill="#fff" stroke="#f22a2a" stroke-width="0.62" fill-opacity="0.45"/>
<circle cx="86.81" cy="772.4" r="1.6" fill="#fff" stroke="#f22a2a" stroke-width="0.62" fill-opacity="0.45"/>
<circle cx="86.11" cy="775.6" r="1.6" fill="#fff" stroke="#f22a2a" stroke-width="0.62" fill-opacity="0.45"/>
<circle cx="86.81" cy="780.8" r="1.6" fill="#fff" stroke="#f22a2a" stroke-width="0.62" fill-opacity="0.45"/>
<circle cx="86.11" cy="784.8" r="1.6" fill="#fff" stroke="#f22a2a" stroke-width="0.62" fill-opacity="0.45"/>
<circle cx="86.81" cy="788" r="1.6" fill="#fff" stroke="#f22a2a" stroke-width="0.62" fill-opacity="0.45"/>
<circle cx="86.11" cy="791.3" r="1.6" fill="#fff" stroke="#f22a2a" stroke-width="0.62" fill-opacity="0.45"/>
<circle cx="86.81" cy="795.3" r="1.6" fill="#fff" stroke="#f22a2a" stroke-width="0.62" fill-opacity="0.45"/>
<circle cx="86.11" cy="798.6" r="1.6" fill="#fff" stroke="#f22a2a" stroke-width="0.62" fill-opacity="0.45"/>
<circle cx="86.81" cy="801.2" r="1.6" fill="#fff" stroke="#f22a2a" stroke-width="0.62" fill-opacity="0.45"/>
<circle cx="84.86" cy="802.3" r="1.6" fill="none" stroke="#f22a2a" stroke-width="0.62"/>
<circle cx="88.06" cy="802.3" r="1.6" fill="none" stroke="#f22a2a" stroke-width="0.62"/>
<circle cx="85.46" cy="799.3" r="1.6" fill="none" stroke="#f22a2a" stroke-width="0.62"/>
<circle cx="87.46" cy="799.3" r="1.6" fill="none" stroke="#f22a2a" stroke-width="0.62"/>
<circle cx="94.41" cy="776.5" r="1.6" fill="#fff" stroke="#f22a2a" stroke-width="0.62" fill-opacity="0.72"/>
<circle cx="93.71" cy="779.8" r="1.6" fill="#fff" stroke="#f22a2a" stroke-width="0.62" fill-opacity="0.72"/>
<circle cx="94.41" cy="783.1" r="1.6" fill="#fff" stroke="#f22a2a" stroke-width="0.62" fill-opacity="0.72"/>
<circle cx="93.71" cy="786.4" r="1.6" fill="#fff" stroke="#f22a2a" stroke-width="0.62" fill-opacity="0.72"/>
<circle cx="94.41" cy="789.7" r="1.6" fill="#fff" stroke="#f22a2a" stroke-width="0.62" fill-opacity="0.72"/>
<circle cx="93.71" cy="793" r="1.6" fill="#fff" stroke="#f22a2a" stroke-width="0.62" fill-opacity="0.72"/>
<circle cx="94.41" cy="796.3" r="1.6" fill="#fff" stroke="#f22a2a" stroke-width="0.62" fill-opacity="0.72"/>
<circle cx="93.71" cy="799.6" r="1.6" fill="#fff" stroke="#f22a2a" stroke-width="0.62" fill-opacity="0.72"/>
<circle cx="94.41" cy="801.9" r="1.6" fill="#fff" stroke="#f22a2a" stroke-width="0.62" fill-opacity="0.72"/>
<circle cx="92.46" cy="802.3" r="1.6" fill="none" stroke="#f22a2a" stroke-width="0.62"/>
<circle cx="95.66" cy="802.3" r="1.6" fill="none" stroke="#f22a2a" stroke-width="0.62"/>
<circle cx="93.06" cy="799.3" r="1.6" fill="none" stroke="#f22a2a" stroke-width="0.62"/>
<circle cx="95.06" cy="799.3" r="1.6" fill="none" stroke="#f22a2a" stroke-width="0.62"/>
<circle cx="101.41" cy="782.2" r="1.6" fill="#fff" stroke="#f22a2a" stroke-width="0.62" fill-opacity="0.72"/>
<circle cx="100.71" cy="785.5" r="1.6" fill="#fff" stroke="#f22a2a" stroke-width="0.62" fill-opacity="0.72"/>
<circle cx="101.41" cy="788.8" r="1.6" fill="#fff" stroke="#f22a2a" stroke-width="0.62" fill-opacity="0.72"/>
<circle cx="100.71" cy="792.1" r="1.6" fill="#fff" stroke="#f22a2a" stroke-width="0.62" fill-opacity="0.72"/>
<circle cx="101.41" cy="795.4" r="1.6" fill="#fff" stroke="#f22a2a" stroke-width="0.62" fill-opacity="0.72"/>
<circle cx="100.71" cy="798.7" r="1.6" fill="#fff" stroke="#f22a2a" stroke-width="0.62" fill-opacity="0.72"/>
<circle cx="101.41" cy="801" r="1.6" fill="#fff" stroke="#f22a2a" stroke-width="0.62" fill-opacity="0.72"/>
<circle cx="99.46" cy="802.3" r="1.6" fill="none" stroke="#f22a2a" stroke-width="0.62"/>
<circle cx="102.66" cy="802.3" r="1.6" fill="none" stroke="#f22a2a" stroke-width="0.62"/>
<circle cx="100.06" cy="799.3" r="1.6" fill="none" stroke="#f22a2a" stroke-width="0.62"/>
<circle cx="102.06" cy="799.3" r="1.6" fill="none" stroke="#f22a2a" stroke-width="0.62"/>
<circle cx="109.31" cy="774.3" r="1.6" fill="#fff" stroke="#f22a2a" stroke-width="0.62" fill-opacity="0.72"/>
<circle cx="108.61" cy="777.6" r="1.6" fill="#fff" stroke="#f22a2a" stroke-width="0.62" fill-opacity="0.72"/>
<circle cx="109.31" cy="780.9" r="1.6" fill="#fff" stroke="#f22a2a" stroke-width="0.62" fill-opacity="0.72"/>
<circle cx="108.61" cy="784.2" r="1.6" fill="#fff" stroke="#f22a2a" stroke-width="0.62" fill-opacity="0.72"/>
<circle cx="109.31" cy="787.5" r="1.6" fill="#fff" stroke="#f22a2a" stroke-width="0.62" fill-opacity="0.72"/>
<circle cx="108.61" cy="790.8" r="1.6" fill="#fff" stroke="#f22a2a" stroke-width="0.62" fill-opacity="0.72"/>
<circle cx="109.31" cy="794.1" r="1.6" fill="#fff" stroke="#f22a2a" stroke-width="0.62" fill-opacity="0.72"/>
<circle cx="108.61" cy="797.4" r="1.6" fill="#fff" stroke="#f22a2a" stroke-width="0.62" fill-opacity="0.72"/>
<circle cx="109.31" cy="799.7" r="1.6" fill="#fff" stroke="#f22a2a" stroke-width="0.62" fill-opacity="0.72"/>
<circle cx="108.61" cy="802" r="1.6" fill="#fff" stroke="#f22a2a" stroke-width="0.62" fill-opacity="0.72"/>
<circle cx="107.36" cy="802.3" r="1.6" fill="none" stroke="#f22a2a" stroke-width="0.62"/>
<circle cx="110.56" cy="802.3" r="1.6" fill="none" stroke="#f22a2a" stroke-width="0.62"/>
<circle cx="107.96" cy="799.3" r="1.6" fill="none" stroke="#f22a2a" stroke-width="0.62"/>
<circle cx="109.96" cy="799.3" r="1.6" fill="none" stroke="#f22a2a" stroke-width="0.62"/>
<circle cx="115.09" cy="785.6" r="1.6" fill="#fff" stroke="#f22a2a" stroke-width="0.62" fill-opacity="0.72"/>
<circle cx="114.39" cy="788.9" r="1.6" fill="#fff" stroke="#f22a2a" stroke-width="0.62" fill-opacity="0.72"/>
<circle cx="115.09" cy="792.2" r="1.6" fill="#fff" stroke="#f22a2a" stroke-width="0.62" fill-opacity="0.72"/>
<circle cx="114.39" cy="795.5" r="1.6" fill="#fff" stroke="#f22a2a" stroke-width="0.62" fill-opacity="0.72"/>
<circle cx="115.09" cy="798.8" r="1.6" fill="#fff" stroke="#f22a2a" stroke-width="0.62" fill-opacity="0.72"/>
<circle cx="114.39" cy="801.1" r="1.6" fill="#fff" stroke="#f22a2a" stroke-width="0.62" fill-opacity="0.72"/>
<circle cx="113.14" cy="802.3" r="1.6" fill="none" stroke="#f22a2a" stroke-width="0.62"/>
<circle cx="116.34" cy="802.3" r="1.6" fill="none" stroke="#f22a2a" stroke-width="0.62"/>
<circle cx="113.74" cy="799.3" r="1.6" fill="none" stroke="#f22a2a" stroke-width="0.62"/>
<circle cx="115.74" cy="799.3" r="1.6" fill="none" stroke="#f22a2a" stroke-width="0.62"/>
<circle cx="126.9" cy="798.9" r="1.5" fill="#fff" stroke="#f22a2a" stroke-width="0.62" fill-opacity="0.72"/>
<circle cx="126.9" cy="801.2" r="1.5" fill="#fff" stroke="#f22a2a" stroke-width="0.62" fill-opacity="0.72"/>
<circle cx="125.9" cy="800.3" r="1.5" fill="#fff" stroke="#f22a2a" stroke-width="0.6" fill-opacity="0.6"/>
<circle cx="127.9" cy="800.3" r="1.5" fill="#fff" stroke="#f22a2a" stroke-width="0.6" fill-opacity="0.6"/>
<circle cx="125.9" cy="802.6" r="1.5" fill="#fff" stroke="#f22a2a" stroke-width="0.6" fill-opacity="0.6"/>
<circle cx="127.9" cy="802.6" r="1.5" fill="#fff" stroke="#f22a2a" stroke-width="0.6" fill-opacity="0.6"/>
<circle cx="131.76" cy="802" r="1.3" fill="#fff" stroke="#f22a2a" stroke-width="0.62" fill-opacity="0.72"/>
<circle cx="130.76" cy="803.4" r="1.3" fill="#fff" stroke="#f22a2a" stroke-width="0.6" fill-opacity="0.6"/>
<circle cx="132.76" cy="803.4" r="1.3" fill="#fff" stroke="#f22a2a" stroke-width="0.6" fill-opacity="0.6"/>
<circle cx="137.23" cy="794.4" r="1.5" fill="#fff" stroke="#f22a2a" stroke-width="0.62" fill-opacity="0.72"/>
<circle cx="137.23" cy="797.7" r="1.5" fill="#fff" stroke="#f22a2a" stroke-width="0.62" fill-opacity="0.72"/>
<circle cx="137.23" cy="800" r="1.5" fill="#fff" stroke="#f22a2a" stroke-width="0.62" fill-opacity="0.72"/>
<circle cx="137.23" cy="802.3" r="1.5" fill="#fff" stroke="#f22a2a" stroke-width="0.62" fill-opacity="0.72"/>
<circle cx="135.63" cy="802.3" r="1.5" fill="none" stroke="#f22a2a" stroke-width="0.62"/>
<circle cx="138.83" cy="802.3" r="1.5" fill="none" stroke="#f22a2a" stroke-width="0.62"/>
<circle cx="136.23" cy="799.3" r="1.5" fill="none" stroke="#f22a2a" stroke-width="0.62"/>
<circle cx="138.23" cy="799.3" r="1.5" fill="none" stroke="#f22a2a" stroke-width="0.62"/>
<circle cx="148.22" cy="793.2" r="1.6" fill="#fff" stroke="#f22a2a" stroke-width="0.62" fill-opacity="0.72"/>
<circle cx="147.52" cy="796.5" r="1.6" fill="#fff" stroke="#f22a2a" stroke-width="0.62" fill-opacity="0.72"/>
<circle cx="148.22" cy="798.8" r="1.6" fill="#fff" stroke="#f22a2a" stroke-width="0.62" fill-opacity="0.72"/>
<circle cx="147.52" cy="801.1" r="1.6" fill="#fff" stroke="#f22a2a" stroke-width="0.62" fill-opacity="0.72"/>
<circle cx="146.27" cy="802.3" r="1.6" fill="none" stroke="#f22a2a" stroke-width="0.62"/>
<circle cx="149.47" cy="802.3" r="1.6" fill="none" stroke="#f22a2a" stroke-width="0.62"/>
<circle cx="146.87" cy="799.3" r="1.6" fill="none" stroke="#f22a2a" stroke-width="0.62"/>
<circle cx="148.87" cy="799.3" r="1.6" fill="none" stroke="#f22a2a" stroke-width="0.62"/>
<circle cx="157.9" cy="800" r="1.4" fill="#fff" stroke="#f22a2a" stroke-width="0.62" fill-opacity="0.72"/>
<circle cx="157.9" cy="802.3" r="1.4" fill="#fff" stroke="#f22a2a" stroke-width="0.62" fill-opacity="0.72"/>
<circle cx="156.9" cy="801.4" r="1.4" fill="#fff" stroke="#f22a2a" stroke-width="0.6" fill-opacity="0.6"/>
<circle cx="158.9" cy="801.4" r="1.4" fill="#fff" stroke="#f22a2a" stroke-width="0.6" fill-opacity="0.6"/>
<circle cx="175.84" cy="794.4" r="1.5" fill="#fff" stroke="#f22a2a" stroke-width="0.62" fill-opacity="0.72"/>
<circle cx="175.84" cy="797.7" r="1.5" fill="#fff" stroke="#f22a2a" stroke-width="0.62" fill-opacity="0.72"/>
<circle cx="175.84" cy="800" r="1.5" fill="#fff" stroke="#f22a2a" stroke-width="0.62" fill-opacity="0.72"/>
<circle cx="175.84" cy="802.3" r="1.5" fill="#fff" stroke="#f22a2a" stroke-width="0.62" fill-opacity="0.72"/>
<circle cx="174.24" cy="802.3" r="1.5" fill="none" stroke="#f22a2a" stroke-width="0.62"/>
<circle cx="177.44" cy="802.3" r="1.5" fill="none" stroke="#f22a2a" stroke-width="0.62"/>
<circle cx="174.84" cy="799.3" r="1.5" fill="none" stroke="#f22a2a" stroke-width="0.62"/>
<circle cx="176.84" cy="799.3" r="1.5" fill="none" stroke="#f22a2a" stroke-width="0.62"/>
<circle cx="177.97" cy="798" r="1.4" fill="#fff" stroke="#f22a2a" stroke-width="0.62" fill-opacity="0.72"/>
<circle cx="177.97" cy="800.3" r="1.4" fill="#fff" stroke="#f22a2a" stroke-width="0.62" fill-opacity="0.72"/>
<circle cx="177.97" cy="802.6" r="1.4" fill="#fff" stroke="#f22a2a" stroke-width="0.62" fill-opacity="0.72"/>
<circle cx="176.97" cy="799.4" r="1.4" fill="#fff" stroke="#f22a2a" stroke-width="0.6" fill-opacity="0.6"/>
<circle cx="178.97" cy="799.4" r="1.4" fill="#fff" stroke="#f22a2a" stroke-width="0.6" fill-opacity="0.6"/>
<circle cx="176.97" cy="801.7" r="1.4" fill="#fff" stroke="#f22a2a" stroke-width="0.6" fill-opacity="0.6"/>
<circle cx="178.97" cy="801.7" r="1.4" fill="#fff" stroke="#f22a2a" stroke-width="0.6" fill-opacity="0.6"/>
<circle cx="184.35" cy="798.9" r="1.5" fill="#fff" stroke="#f22a2a" stroke-width="0.62" fill-opacity="0.72"/>
<circle cx="184.35" cy="801.2" r="1.5" fill="#fff" stroke="#f22a2a" stroke-width="0.62" fill-opacity="0.72"/>
<circle cx="183.35" cy="800.3" r="1.5" fill="#fff" stroke="#f22a2a" stroke-width="0.6" fill-opacity="0.6"/>
<circle cx="185.35" cy="800.3" r="1.5" fill="#fff" stroke="#f22a2a" stroke-width="0.6" fill-opacity="0.6"/>
<circle cx="183.35" cy="802.6" r="1.5" fill="#fff" stroke="#f22a2a" stroke-width="0.6" fill-opacity="0.6"/>
<circle cx="185.35" cy="802.6" r="1.5" fill="#fff" stroke="#f22a2a" stroke-width="0.6" fill-opacity="0.6"/>
<circle cx="213.84" cy="802.2" r="1.2" fill="#fff" stroke="#f22a2a" stroke-width="0.62" fill-opacity="0.72"/>
<line x1="40.86" y1="814" x2="40.86" y2="817.8" stroke="#801818" stroke-width="1.0" opacity="1"/>
<line x1="56.37" y1="814" x2="56.37" y2="817.8" stroke="#801818" stroke-width="1.0" opacity="0.55"/>
<line x1="67.31" y1="814" x2="67.31" y2="817.8" stroke="#801818" stroke-width="1.0" opacity="0.55"/>
<line x1="68.22" y1="814" x2="68.22" y2="817.8" stroke="#801818" stroke-width="1.0" opacity="0.7"/>
<line x1="77.04" y1="814" x2="77.04" y2="817.8" stroke="#801818" stroke-width="1.0" opacity="0.85"/>
<line x1="86.16" y1="814" x2="86.16" y2="817.8" stroke="#801818" stroke-width="1.0" opacity="0.55"/>
<line x1="94.06" y1="814" x2="94.06" y2="817.8" stroke="#801818" stroke-width="1.0" opacity="0.7"/>
<line x1="101.06" y1="814" x2="101.06" y2="817.8" stroke="#801818" stroke-width="1.0" opacity="0.85"/>
<line x1="108.66" y1="814" x2="108.66" y2="817.8" stroke="#801818" stroke-width="1.0" opacity="1"/>
<line x1="114.13" y1="814" x2="114.13" y2="817.8" stroke="#801818" stroke-width="1.0" opacity="1"/>
<line x1="115.04" y1="814" x2="115.04" y2="817.8" stroke="#801818" stroke-width="1.0" opacity="1"/>
<line x1="126.29" y1="814" x2="126.29" y2="817.8" stroke="#801818" stroke-width="1.0" opacity="0.55"/>
<line x1="127.05" y1="814" x2="127.05" y2="817.8" stroke="#801818" stroke-width="1.0" opacity="1"/>
<line x1="131.76" y1="814" x2="131.76" y2="817.8" stroke="#801818" stroke-width="1.0" opacity="0.85"/>
<line x1="137.23" y1="814" x2="137.23" y2="817.8" stroke="#801818" stroke-width="1.0" opacity="0.85"/>
<line x1="140.88" y1="814" x2="140.88" y2="817.8" stroke="#801818" stroke-width="1.0" opacity="0.85"/>
<line x1="145.44" y1="814" x2="145.44" y2="817.8" stroke="#801818" stroke-width="1.0" opacity="1"/>
<line x1="147.87" y1="814" x2="147.87" y2="817.8" stroke="#801818" stroke-width="1.0" opacity="0.55"/>
<line x1="151.52" y1="814" x2="151.52" y2="817.8" stroke="#801818" stroke-width="1.0" opacity="0.85"/>
<line x1="154.56" y1="814" x2="154.56" y2="817.8" stroke="#801818" stroke-width="1.0" opacity="1"/>
<line x1="158.21" y1="814" x2="158.21" y2="817.8" stroke="#801818" stroke-width="1.0" opacity="1"/>
<line x1="160.64" y1="814" x2="160.64" y2="817.8" stroke="#801818" stroke-width="1.0" opacity="0.7"/>
<line x1="163.68" y1="814" x2="163.68" y2="817.8" stroke="#801818" stroke-width="1.0" opacity="1"/>
<line x1="167.33" y1="814" x2="167.33" y2="817.8" stroke="#801818" stroke-width="1.0" opacity="0.7"/>
<line x1="171.28" y1="814" x2="171.28" y2="817.8" stroke="#801818" stroke-width="1.0" opacity="0.7"/>
<line x1="173.71" y1="814" x2="173.71" y2="817.8" stroke="#801818" stroke-width="1.0" opacity="0.55"/>
<line x1="175.84" y1="814" x2="175.84" y2="817.8" stroke="#801818" stroke-width="1.0" opacity="1"/>
<line x1="177.66" y1="814" x2="177.66" y2="817.8" stroke="#801818" stroke-width="1.0" opacity="0.7"/>
<line x1="181.92" y1="814" x2="181.92" y2="817.8" stroke="#801818" stroke-width="1.0" opacity="0.55"/>
<line x1="184.35" y1="814" x2="184.35" y2="817.8" stroke="#801818" stroke-width="1.0" opacity="0.7"/>
<line x1="186.48" y1="814" x2="186.48" y2="817.8" stroke="#801818" stroke-width="1.0" opacity="0.7"/>
<line x1="191.04" y1="814" x2="191.04" y2="817.8" stroke="#801818" stroke-width="1.0" opacity="0.55"/>
<line x1="194.08" y1="814" x2="194.08" y2="817.8" stroke="#801818" stroke-width="1.0" opacity="1"/>
<line x1="196.51" y1="814" x2="196.51" y2="817.8" stroke="#801818" stroke-width="1.0" opacity="0.85"/>
<line x1="201.38" y1="814" x2="201.38" y2="817.8" stroke="#801818" stroke-width="1.0" opacity="0.7"/>
<line x1="202.9" y1="814" x2="202.9" y2="817.8" stroke="#801818" stroke-width="1.0" opacity="1"/>
<line x1="205.63" y1="814" x2="205.63" y2="817.8" stroke="#801818" stroke-width="1.0" opacity="0.55"/>
<line x1="207.76" y1="814" x2="207.76" y2="817.8" stroke="#801818" stroke-width="1.0" opacity="1"/>
<line x1="210.8" y1="814" x2="210.8" y2="817.8" stroke="#801818" stroke-width="1.0" opacity="0.55"/>
<line x1="212.93" y1="814" x2="212.93" y2="817.8" stroke="#801818" stroke-width="1.0" opacity="0.55"/>
<line x1="215.06" y1="814" x2="215.06" y2="817.8" stroke="#801818" stroke-width="1.0" opacity="1"/>
<line x1="216.58" y1="814" x2="216.58" y2="817.8" stroke="#801818" stroke-width="1.0" opacity="0.85"/>
<path d="M36 827.61 L36.6 827.57 L37.2 827.51 L37.8 827.63 L38.4 827.62 L39 827.82 L39.6 827.54 L40.2 827.68 L40.8 827.89 L41.4 827.67 L42 827.52 L42.6 827.66 L43.2 827.57 L43.8 827.46 L44.4 827.74 L45 827.6 L45.6 827.85 L46.2 827.58 L46.8 827.5 L47.4 827.68 L48 827.69 L48.6 827.53 L49.2 827.71 L49.8 827.77 L50.4 827.84 L51 827.91 L51.6 827.73 L52.2 827.87 L52.8 827.51 L53.4 827.83 L54 827.94 L54.6 827.67 L55.2 827.58 L55.8 827.57 L56.4 827.57 L56.58 827.7 L56.86 825.7 L57 827.65 L57.14 828.7 L57.43 827.4 L57.6 827.66 L57.88 827.7 L58.2 827.53 L58.8 827.87 L59.4 827.94 L60 827.52 L60.6 827.77 L61.2 827.67 L61.8 827.7 L62.4 827.71 L63 827.67 L63.6 827.84 L64.2 827.92 L64.8 827.59 L65.4 827.63 L66 827.47 L66.6 827.65 L67.2 827.59 L67.52 827.7 L67.8 827.54 L67.8 826.5 L68.08 828.9 L68.37 827.52 L68.4 827.87 L68.82 827.7 L69 827.71 L69.6 827.57 L70.2 827.54 L70.8 827.75 L71.4 827.86 L72 827.89 L72.6 827.82 L73.2 827.83 L73.8 827.54 L74.4 827.52 L75 827.78 L75.6 827.76 L76.2 827.55 L76.8 827.6 L77.4 827.46 L78 827.8 L78.6 827.71 L79.2 827.87 L79.8 827.91 L80.4 827.71 L81 827.62 L81.6 827.59 L82.2 827.77 L82.8 827.92 L83.4 827.5 L84 827.65 L84.6 827.83 L85.2 827.52 L85.8 827.78 L86.06 827.7 L86.34 818.7 L86.4 827.57 L86.62 834.7 L86.91 826.35 L87 827.73 L87.36 827.7 L87.58 827.7 L87.6 827.94 L87.86 825.7 L88.2 827.47 L88.43 827.4 L88.8 827.8 L88.88 827.7 L89.4 827.74 L90 827.88 L90.6 827.63 L91.2 827.92 L91.8 827.93 L92.4 827.49 L93 827.63 L93.6 827.57 L93.66 827.7 L93.94 823.2 L94.2 827.87 L94.22 830.7 L94.51 827.03 L94.8 827.91 L94.96 827.7 L95.4 827.84 L96 827.88 L96.6 827.74 L97.2 827.9 L97.8 827.6 L98.4 827.5 L99 827.82 L99.6 827.67 L100.2 827.46 L100.66 827.7 L100.8 827.85 L100.94 824.7 L101.22 830.2 L101.4 827.52 L101.51 827.25 L101.96 827.7 L102 827.57 L102.6 827.49 L103.2 827.76 L103.8 827.53 L104.4 827.61 L105 827.73 L105.6 827.93 L106.2 827.46 L106.8 827.91 L107.4 827.82 L108 827.58 L108.56 827.7 L108.6 827.87 L108.84 820.2 L109.2 827.77 L109.41 826.58 L109.78 827.7 L109.8 827.68 L109.86 827.7 L110.06 825.7 L110.4 827.57 L110.63 827.4 L111 827.67 L111.08 827.7 L111.6 827.63 L112.2 827.5 L112.8 827.54 L113.12 827.7 L113.4 825.7 L113.4 827.59 L113.97 827.4 L114 827.68 L114.42 827.7 L114.49 827.7 L114.6 827.74 L114.77 825.1 L115.05 828.7 L115.2 827.83 L115.34 827.31 L115.79 827.7 L115.8 827.51 L116.4 827.51 L117 827.89 L117.6 827.72 L118.2 827.56 L118.8 827.56 L119.4 827.78 L120 827.68 L120.6 827.65 L121.2 827.92 L121.8 827.46 L122.4 827.77 L123 827.8 L123.6 827.75 L124.2 827.75 L124.8 827.47 L125.4 827.94 L126 827.48 L126.5 827.7 L126.6 827.63 L126.78 823.7 L127.2 827.65 L127.35 827.1 L127.8 827.7 L127.8 827.87 L128.4 827.81 L129 827.87 L129.6 827.73 L130.2 827.94 L130.8 827.61 L131.4 827.65 L132 827.73 L132.6 827.61 L133.2 827.52 L133.8 827.79 L134.4 827.63 L135 827.89 L135.6 827.78 L136.2 827.46 L136.8 827.5 L136.83 827.7 L137.11 827.7 L137.39 828.9 L137.4 827.54 L137.68 827.7 L138 827.61 L138.13 827.7 L138.6 827.55 L139.2 827.78 L139.8 827.56 L140.4 827.66 L141 827.65 L141.6 827.95 L142.2 827.68 L142.8 827.47 L143.4 827.94 L144 827.94 L144.6 827.47 L145.2 827.88 L145.8 827.76 L146.4 827.91 L147 827.76 L147.47 827.7 L147.6 827.76 L147.75 826.5 L148.2 827.85 L148.32 827.52 L148.77 827.7 L148.8 827.47 L149.4 827.5 L150 827.51 L150.6 827.46 L151.2 827.57 L151.8 827.47 L152.4 827.51 L153 827.62 L153.6 827.53 L154.2 827.48 L154.8 827.93 L155.4 827.91 L156 827.9 L156.6 827.49 L157.2 827.75 L157.8 827.92 L158.4 827.67 L159 827.71 L159.6 827.89 L160.2 827.91 L160.8 827.74 L161.4 827.59 L162 827.82 L162.6 827.82 L163.2 827.59 L163.8 827.68 L164.4 827.8 L165 827.56 L165.6 827.64 L166.2 827.72 L166.8 827.63 L167.4 827.9 L168 827.6 L168.6 827.69 L169.2 827.86 L169.8 827.47 L170.4 827.62 L171 827.54 L171.6 827.72 L172.2 827.93 L172.8 827.65 L173.4 827.91 L174 827.53 L174.6 827.93 L175.2 827.61 L175.44 827.7 L175.72 826.5 L175.8 827.61 L176 828.7 L176.29 827.52 L176.4 827.58 L176.74 827.7 L177 827.89 L177.6 827.56 L178.2 827.48 L178.8 827.46 L179.4 827.73 L180 827.75 L180.6 827.62 L181.2 827.78 L181.8 827.71 L182.4 827.87 L183 827.63 L183.6 827.83 L183.95 827.7 L184.2 827.71 L184.23 827.7 L184.51 828.7 L184.8 827.94 L184.8 827.7 L185.25 827.7 L185.4 827.79 L186 827.92 L186.6 827.66 L187.2 827.78 L187.8 827.52 L188.4 827.55 L189 827.76 L189.6 827.59 L190.2 827.87 L190.8 827.5 L191.4 827.88 L192 827.91 L192.6 827.95 L193.2 827.58 L193.8 827.77 L194.4 827.77 L195 827.8 L195.6 827.66 L196.2 827.5 L196.8 827.66 L197.4 827.72 L198 827.51 L198.6 827.65 L199.2 827.95 L199.8 827.52 L200.4 827.87 L201 827.59 L201.6 827.76 L202.2 827.51 L202.8 827.88 L203.4 827.8 L204 827.59 L204.6 827.63 L205.2 827.63 L205.8 827.71 L206.4 827.75 L207 827.77 L207.6 827.45 L208.2 827.82 L208.8 827.94 L209.4 827.64 L210 827.6 L210.6 827.72 L211.2 827.85 L211.8 827.67 L212.4 827.64 L213 827.57 L213.6 827.86 L214.2 827.62 L214.8 827.93 L215.4 827.75 L216 827.57 L216.6 827.61 L217.2 827.94 L217.8 827.9 L218.4 827.93" fill="none" stroke="#1414ff" stroke-width="0.95" stroke-linejoin="round"/>
<rect x="36" y="702.4" width="182.4" height="135.2" fill="none" stroke="#222" stroke-width="1.35"/>
<line x1="36" y1="837.3" x2="36" y2="839.8" stroke="#111" stroke-width="1.0"/>
<line x1="51.2" y1="837.3" x2="51.2" y2="838.7" stroke="#111" stroke-width="1.0"/>
<line x1="66.4" y1="837.3" x2="66.4" y2="839.8" stroke="#111" stroke-width="1.0"/>
<line x1="81.6" y1="837.3" x2="81.6" y2="838.7" stroke="#111" stroke-width="1.0"/>
<line x1="96.8" y1="837.3" x2="96.8" y2="839.8" stroke="#111" stroke-width="1.0"/>
<line x1="112" y1="837.3" x2="112" y2="838.7" stroke="#111" stroke-width="1.0"/>
<line x1="127.2" y1="837.3" x2="127.2" y2="839.8" stroke="#111" stroke-width="1.0"/>
<line x1="142.4" y1="837.3" x2="142.4" y2="838.7" stroke="#111" stroke-width="1.0"/>
<line x1="157.6" y1="837.3" x2="157.6" y2="839.8" stroke="#111" stroke-width="1.0"/>
<line x1="172.8" y1="837.3" x2="172.8" y2="838.7" stroke="#111" stroke-width="1.0"/>
<line x1="188" y1="837.3" x2="188" y2="839.8" stroke="#111" stroke-width="1.0"/>
<line x1="203.2" y1="837.3" x2="203.2" y2="838.7" stroke="#111" stroke-width="1.0"/>
<line x1="218.4" y1="837.3" x2="218.4" y2="839.8" stroke="#111" stroke-width="1.0"/>
<text transform="translate(36 850.7) scale(0.88 1)" font-size="12.4" text-anchor="middle">10</text>
<text transform="translate(66.4 850.7) scale(0.88 1)" font-size="12.4" text-anchor="middle">20</text>
<text transform="translate(96.8 850.7) scale(0.88 1)" font-size="12.4" text-anchor="middle">30</text>
<text transform="translate(127.2 850.7) scale(0.88 1)" font-size="12.4" text-anchor="middle">40</text>
<text transform="translate(157.6 850.7) scale(0.88 1)" font-size="12.4" text-anchor="middle">50</text>
<text transform="translate(188 850.7) scale(0.88 1)" font-size="12.4" text-anchor="middle">60</text>
<text transform="translate(218.4 850.7) scale(0.88 1)" font-size="12.4" text-anchor="middle">70</text>
<text x="96.4" y="862" font-size="12.4" text-anchor="middle" fill="#000" font-style="italic" letter-spacing="2.2">2&#952;</text>
<text x="110.7" y="861.4" font-size="12.648000000000001" text-anchor="middle" fill="#222">(</text>
<text x="134" y="862" font-size="12.4" text-anchor="middle" fill="#000">Degree</text>
<text x="157.6" y="861.4" font-size="12.648000000000001" text-anchor="middle" fill="#222">)</text>
<text x="28.5" y="771.3" font-size="11.5" text-anchor="middle" fill="#000" transform="rotate(-90 28.5 771.3)">Intensity (arb. units)</text>
<line x1="142.3" y1="707.8" x2="160.3" y2="707.8" stroke="#666" stroke-width="0.9"/>
<text x="164" y="710.8" font-size="8.4" text-anchor="start" fill="#000">Observed</text>
<circle cx="151.3" cy="718.2" r="1.25" fill="none" stroke="#f02020" stroke-width="0.55"/>
<text x="164" y="721.2" font-size="8.4" text-anchor="start" fill="#000">Calculated</text>
<line x1="142.3" y1="728.6" x2="160.3" y2="728.6" stroke="#3c3cff" stroke-width="0.9"/>
<text x="164" y="731.6" font-size="8.4" text-anchor="start" fill="#000">Error</text>
<line x1="151.3" y1="737" x2="151.3" y2="741" stroke="#c04040" stroke-width="0.7"/>
<text x="164" y="742" font-size="8.4" text-anchor="start" fill="#000"><tspan dy="0" font-size="8.4">Ru</tspan><tspan dy="1.8" font-size="5.46">3</tspan><tspan dy="-1.8" font-size="8.4">V</tspan><tspan dy="1.8" font-size="5.46">5</tspan><tspan dy="-1.8" font-size="8.4">O</tspan><tspan dy="1.8" font-size="5.46">14</tspan></text>
<text x="147.3" y="754.6" font-size="8.4" text-anchor="start" fill="#000"><tspan font-style="italic">R</tspan><tspan dy="1.8" font-size="5.8" font-style="italic">WP</tspan><tspan dy="-1.8">=0.1593</tspan></text>
<g>
<clipPath id="clb"><rect x="281" y="14" width="206" height="126"/></clipPath>
<g clip-path="url(#clb)">
<line x1="327.2" y1="43.9" x2="328.59" y2="31.95" stroke="#3c9ad6" stroke-width="2.5" stroke-linecap="butt"/>
<line x1="328.59" y1="31.95" x2="329.3" y2="25.8" stroke="#e22222" stroke-width="2.5" stroke-linecap="butt"/>
<line x1="327.2" y1="43.9" x2="332.61" y2="31.29" stroke="#3c9ad6" stroke-width="2.5" stroke-linecap="butt"/>
<line x1="332.61" y1="31.29" x2="335.4" y2="24.8" stroke="#e22222" stroke-width="2.5" stroke-linecap="butt"/>
<line x1="327.2" y1="43.9" x2="316.9" y2="31.82" stroke="#3c9ad6" stroke-width="2.5" stroke-linecap="butt"/>
<line x1="316.9" y1="31.82" x2="311.6" y2="25.6" stroke="#e22222" stroke-width="2.5" stroke-linecap="butt"/>
<line x1="327.2" y1="43.9" x2="340" y2="31.62" stroke="#3c9ad6" stroke-width="2.5" stroke-linecap="butt" stroke-dasharray="0.9 0.7"/>
<line x1="340" y1="31.62" x2="346.6" y2="25.3" stroke="#e22222" stroke-width="2.5" stroke-linecap="butt" stroke-dasharray="0.9 0.7"/>
<line x1="327.2" y1="43.9" x2="320.47" y2="52.22" stroke="#3c9ad6" stroke-width="2.5" stroke-linecap="butt" stroke-dasharray="0.9 0.7"/>
<line x1="320.47" y1="52.22" x2="317" y2="56.5" stroke="#e22222" stroke-width="2.5" stroke-linecap="butt" stroke-dasharray="0.9 0.7"/>
<line x1="327.2" y1="43.9" x2="338.29" y2="51.23" stroke="#3c9ad6" stroke-width="2.5" stroke-linecap="butt"/>
<line x1="338.29" y1="51.23" x2="344" y2="55" stroke="#e22222" stroke-width="2.5" stroke-linecap="butt"/>
<line x1="327.2" y1="43.9" x2="341.85" y2="51.56" stroke="#3c9ad6" stroke-width="2.5" stroke-linecap="butt"/>
<line x1="341.85" y1="51.56" x2="349.4" y2="55.5" stroke="#e22222" stroke-width="2.5" stroke-linecap="butt"/>
<line x1="327.2" y1="43.9" x2="311.76" y2="51.75" stroke="#3c9ad6" stroke-width="2.5" stroke-linecap="butt" stroke-dasharray="0.9 0.7"/>
<line x1="311.76" y1="51.75" x2="303.8" y2="55.8" stroke="#e22222" stroke-width="2.5" stroke-linecap="butt" stroke-dasharray="0.9 0.7"/>
<line x1="367.3" y1="43.9" x2="353.64" y2="31.62" stroke="#3c9ad6" stroke-width="2.5" stroke-linecap="butt" stroke-dasharray="0.9 0.7"/>
<line x1="353.64" y1="31.62" x2="346.6" y2="25.3" stroke="#e22222" stroke-width="2.5" stroke-linecap="butt" stroke-dasharray="0.9 0.7"/>
<line x1="367.3" y1="43.9" x2="361.29" y2="30.44" stroke="#3c9ad6" stroke-width="2.5" stroke-linecap="butt"/>
<line x1="361.29" y1="30.44" x2="358.2" y2="23.5" stroke="#e22222" stroke-width="2.5" stroke-linecap="butt"/>
<line x1="367.3" y1="43.9" x2="365.32" y2="31.69" stroke="#3c9ad6" stroke-width="2.5" stroke-linecap="butt"/>
<line x1="365.32" y1="31.69" x2="364.3" y2="25.4" stroke="#e22222" stroke-width="2.5" stroke-linecap="butt"/>
<line x1="367.3" y1="43.9" x2="376.74" y2="31.29" stroke="#3c9ad6" stroke-width="2.5" stroke-linecap="butt"/>
<line x1="376.74" y1="31.29" x2="381.6" y2="24.8" stroke="#e22222" stroke-width="2.5" stroke-linecap="butt"/>
<line x1="367.3" y1="43.9" x2="355.49" y2="51.56" stroke="#3c9ad6" stroke-width="2.5" stroke-linecap="butt"/>
<line x1="355.49" y1="51.56" x2="349.4" y2="55.5" stroke="#e22222" stroke-width="2.5" stroke-linecap="butt"/>
<line x1="367.3" y1="43.9" x2="370.01" y2="51.42" stroke="#3c9ad6" stroke-width="2.5" stroke-linecap="butt"/>
<line x1="370.01" y1="51.42" x2="371.4" y2="55.3" stroke="#e22222" stroke-width="2.5" stroke-linecap="butt"/>
<line x1="367.3" y1="43.9" x2="374.23" y2="51.89" stroke="#3c9ad6" stroke-width="2.5" stroke-linecap="butt"/>
<line x1="374.23" y1="51.89" x2="377.8" y2="56" stroke="#e22222" stroke-width="2.5" stroke-linecap="butt"/>
<line x1="367.3" y1="43.9" x2="382.81" y2="51.89" stroke="#3c9ad6" stroke-width="2.5" stroke-linecap="butt" stroke-dasharray="0.9 0.7"/>
<line x1="382.81" y1="51.89" x2="390.8" y2="56" stroke="#e22222" stroke-width="2.5" stroke-linecap="butt" stroke-dasharray="0.9 0.7"/>
<line x1="401" y1="43.9" x2="402.39" y2="31.95" stroke="#3c9ad6" stroke-width="2.5" stroke-linecap="butt"/>
<line x1="402.39" y1="31.95" x2="403.1" y2="25.8" stroke="#e22222" stroke-width="2.5" stroke-linecap="butt"/>
<line x1="401" y1="43.9" x2="406.41" y2="31.29" stroke="#3c9ad6" stroke-width="2.5" stroke-linecap="butt"/>
<line x1="406.41" y1="31.29" x2="409.2" y2="24.8" stroke="#e22222" stroke-width="2.5" stroke-linecap="butt"/>
<line x1="401" y1="43.9" x2="390.7" y2="31.82" stroke="#3c9ad6" stroke-width="2.5" stroke-linecap="butt"/>
<line x1="390.7" y1="31.82" x2="385.4" y2="25.6" stroke="#e22222" stroke-width="2.5" stroke-linecap="butt"/>
<line x1="401" y1="43.9" x2="413.8" y2="31.62" stroke="#3c9ad6" stroke-width="2.5" stroke-linecap="butt" stroke-dasharray="0.9 0.7"/>
<line x1="413.8" y1="31.62" x2="420.4" y2="25.3" stroke="#e22222" stroke-width="2.5" stroke-linecap="butt" stroke-dasharray="0.9 0.7"/>
<line x1="401" y1="43.9" x2="394.27" y2="52.22" stroke="#3c9ad6" stroke-width="2.5" stroke-linecap="butt" stroke-dasharray="0.9 0.7"/>
<line x1="394.27" y1="52.22" x2="390.8" y2="56.5" stroke="#e22222" stroke-width="2.5" stroke-linecap="butt" stroke-dasharray="0.9 0.7"/>
<line x1="401" y1="43.9" x2="412.09" y2="51.23" stroke="#3c9ad6" stroke-width="2.5" stroke-linecap="butt"/>
<line x1="412.09" y1="51.23" x2="417.8" y2="55" stroke="#e22222" stroke-width="2.5" stroke-linecap="butt"/>
<line x1="401" y1="43.9" x2="415.65" y2="51.56" stroke="#3c9ad6" stroke-width="2.5" stroke-linecap="butt"/>
<line x1="415.65" y1="51.56" x2="423.2" y2="55.5" stroke="#e22222" stroke-width="2.5" stroke-linecap="butt"/>
<line x1="401" y1="43.9" x2="385.56" y2="51.75" stroke="#3c9ad6" stroke-width="2.5" stroke-linecap="butt" stroke-dasharray="0.9 0.7"/>
<line x1="385.56" y1="51.75" x2="377.6" y2="55.8" stroke="#e22222" stroke-width="2.5" stroke-linecap="butt" stroke-dasharray="0.9 0.7"/>
<line x1="441.1" y1="43.9" x2="427.44" y2="31.62" stroke="#3c9ad6" stroke-width="2.5" stroke-linecap="butt" stroke-dasharray="0.9 0.7"/>
<line x1="427.44" y1="31.62" x2="420.4" y2="25.3" stroke="#e22222" stroke-width="2.5" stroke-linecap="butt" stroke-dasharray="0.9 0.7"/>
<line x1="441.1" y1="43.9" x2="435.09" y2="30.44" stroke="#3c9ad6" stroke-width="2.5" stroke-linecap="butt"/>
<line x1="435.09" y1="30.44" x2="432" y2="23.5" stroke="#e22222" stroke-width="2.5" stroke-linecap="butt"/>
<line x1="441.1" y1="43.9" x2="439.12" y2="31.69" stroke="#3c9ad6" stroke-width="2.5" stroke-linecap="butt"/>
<line x1="439.12" y1="31.69" x2="438.1" y2="25.4" stroke="#e22222" stroke-width="2.5" stroke-linecap="butt"/>
<line x1="441.1" y1="43.9" x2="450.54" y2="31.29" stroke="#3c9ad6" stroke-width="2.5" stroke-linecap="butt"/>
<line x1="450.54" y1="31.29" x2="455.4" y2="24.8" stroke="#e22222" stroke-width="2.5" stroke-linecap="butt"/>
<line x1="441.1" y1="43.9" x2="429.29" y2="51.56" stroke="#3c9ad6" stroke-width="2.5" stroke-linecap="butt"/>
<line x1="429.29" y1="51.56" x2="423.2" y2="55.5" stroke="#e22222" stroke-width="2.5" stroke-linecap="butt"/>
<line x1="441.1" y1="43.9" x2="443.81" y2="51.42" stroke="#3c9ad6" stroke-width="2.5" stroke-linecap="butt"/>
<line x1="443.81" y1="51.42" x2="445.2" y2="55.3" stroke="#e22222" stroke-width="2.5" stroke-linecap="butt"/>
<line x1="441.1" y1="43.9" x2="448.03" y2="51.89" stroke="#3c9ad6" stroke-width="2.5" stroke-linecap="butt"/>
<line x1="448.03" y1="51.89" x2="451.6" y2="56" stroke="#e22222" stroke-width="2.5" stroke-linecap="butt"/>
<line x1="441.1" y1="43.9" x2="456.61" y2="51.89" stroke="#3c9ad6" stroke-width="2.5" stroke-linecap="butt" stroke-dasharray="0.9 0.7"/>
<line x1="456.61" y1="51.89" x2="464.6" y2="56" stroke="#e22222" stroke-width="2.5" stroke-linecap="butt" stroke-dasharray="0.9 0.7"/>
<polygon points="298.6,58 286.2,77.4 310.2,77.4" fill="#2e2ea6" stroke="none" stroke-width="1"/>
<polygon points="298.6,58 296.7,77.4 310.2,77.4" fill="#242498" stroke="none" stroke-width="1"/>
<polygon points="321.6,55.6 309.8,77.4 333.6,76.8" fill="#12128c" stroke="none" stroke-width="1"/>
<polygon points="321.6,55.6 319.2,77.4 333.6,76.8" fill="#0a0a7a" stroke="none" stroke-width="1"/>
<polygon points="333.2,76.8 343.2,59 346.5,57.2 336.2,77.4" fill="#26269c" stroke="none" stroke-width="1"/>
<polygon points="346.5,57.2 362.7,76.8 359.2,76.8" fill="#26269c" stroke="none" stroke-width="1"/>
<polygon points="346.5,57.2 335.8,77.1 359.4,76.6" fill="#cccccc" stroke="none" stroke-width="1"/>
<polygon points="346.5,57.2 347,76.9 359.4,76.6" fill="#b4b4b4" stroke="none" stroke-width="1"/>
<line x1="287.2" y1="77.2" x2="361.2" y2="76.8" stroke="#5a5ab0" stroke-width="0.7"/>
<polygon points="360.5,77.4 372.6,57.6 376.5,57.6 368,77.4" fill="#4c4cba" stroke="none" stroke-width="1"/>
<polygon points="376.8,56.8 368.5,77.4 385.6,77.4" fill="#cecece" stroke="none" stroke-width="1"/>
<polygon points="376.8,56.8 378.5,77.4 385.6,77.4" fill="#b2b2b2" stroke="none" stroke-width="1"/>
<polygon points="395.4,55.6 383.6,77.4 407.4,76.8" fill="#12128c" stroke="none" stroke-width="1"/>
<polygon points="395.4,55.6 393,77.4 407.4,76.8" fill="#0a0a7a" stroke="none" stroke-width="1"/>
<polygon points="407,76.8 417,59 420.3,57.2 410,77.4" fill="#26269c" stroke="none" stroke-width="1"/>
<polygon points="420.3,57.2 436.5,76.8 433,76.8" fill="#26269c" stroke="none" stroke-width="1"/>
<polygon points="420.3,57.2 409.6,77.1 433.2,76.6" fill="#cccccc" stroke="none" stroke-width="1"/>
<polygon points="420.3,57.2 420.8,76.9 433.2,76.6" fill="#b4b4b4" stroke="none" stroke-width="1"/>
<line x1="361" y1="77.2" x2="435" y2="76.8" stroke="#5a5ab0" stroke-width="0.7"/>
<polygon points="434.3,77.4 446.4,57.6 450.3,57.6 441.8,77.4" fill="#4c4cba" stroke="none" stroke-width="1"/>
<polygon points="450.6,56.8 442.3,77.4 459.4,77.4" fill="#cecece" stroke="none" stroke-width="1"/>
<polygon points="450.6,56.8 452.3,77.4 459.4,77.4" fill="#b2b2b2" stroke="none" stroke-width="1"/>
<polygon points="469.2,55.6 457.4,77.4 481.2,76.8" fill="#12128c" stroke="none" stroke-width="1"/>
<polygon points="469.2,55.6 466.8,77.4 481.2,76.8" fill="#0a0a7a" stroke="none" stroke-width="1"/>
<circle cx="327.2" cy="43.9" r="8.9" fill="url(#gK)" stroke="#1a5c9c" stroke-width="0.4"/>
<circle cx="367.3" cy="43.9" r="8.9" fill="url(#gK)" stroke="#1a5c9c" stroke-width="0.4"/>
<circle cx="401" cy="43.9" r="8.9" fill="url(#gK)" stroke="#1a5c9c" stroke-width="0.4"/>
<circle cx="441.1" cy="43.9" r="8.9" fill="url(#gK)" stroke="#1a5c9c" stroke-width="0.4"/>
<circle cx="307.6" cy="24.8" r="2.6" fill="url(#gO)" stroke="#a00a0a" stroke-width="0.35"/>
<circle cx="311.6" cy="25.6" r="2.6" fill="url(#gO)" stroke="#a00a0a" stroke-width="0.35"/>
<circle cx="329.3" cy="25.8" r="2.6" fill="url(#gO)" stroke="#a00a0a" stroke-width="0.35"/>
<circle cx="335.4" cy="24.8" r="2.6" fill="url(#gO)" stroke="#a00a0a" stroke-width="0.35"/>
<circle cx="346.6" cy="25.3" r="2.6" fill="url(#gO)" stroke="#a00a0a" stroke-width="0.35"/>
<circle cx="358.2" cy="23.5" r="2.6" fill="url(#gO)" stroke="#a00a0a" stroke-width="0.35"/>
<circle cx="364.3" cy="25.4" r="2.6" fill="url(#gO)" stroke="#a00a0a" stroke-width="0.35"/>
<circle cx="317" cy="56.5" r="2.4" fill="url(#gO)" stroke="#a00a0a" stroke-width="0.35"/>
<circle cx="322" cy="54.5" r="2.4" fill="url(#gO)" stroke="#a00a0a" stroke-width="0.35"/>
<circle cx="344" cy="55" r="2.4" fill="url(#gO)" stroke="#a00a0a" stroke-width="0.35"/>
<circle cx="349.4" cy="55.5" r="2.4" fill="url(#gO)" stroke="#a00a0a" stroke-width="0.35"/>
<circle cx="371.4" cy="55.3" r="2.4" fill="url(#gO)" stroke="#a00a0a" stroke-width="0.35"/>
<circle cx="377.8" cy="56" r="2.4" fill="url(#gO)" stroke="#a00a0a" stroke-width="0.35"/>
<circle cx="381.4" cy="24.8" r="2.6" fill="url(#gO)" stroke="#a00a0a" stroke-width="0.35"/>
<circle cx="385.4" cy="25.6" r="2.6" fill="url(#gO)" stroke="#a00a0a" stroke-width="0.35"/>
<circle cx="403.1" cy="25.8" r="2.6" fill="url(#gO)" stroke="#a00a0a" stroke-width="0.35"/>
<circle cx="409.2" cy="24.8" r="2.6" fill="url(#gO)" stroke="#a00a0a" stroke-width="0.35"/>
<circle cx="420.4" cy="25.3" r="2.6" fill="url(#gO)" stroke="#a00a0a" stroke-width="0.35"/>
<circle cx="432" cy="23.5" r="2.6" fill="url(#gO)" stroke="#a00a0a" stroke-width="0.35"/>
<circle cx="438.1" cy="25.4" r="2.6" fill="url(#gO)" stroke="#a00a0a" stroke-width="0.35"/>
<circle cx="390.8" cy="56.5" r="2.4" fill="url(#gO)" stroke="#a00a0a" stroke-width="0.35"/>
<circle cx="395.8" cy="54.5" r="2.4" fill="url(#gO)" stroke="#a00a0a" stroke-width="0.35"/>
<circle cx="417.8" cy="55" r="2.4" fill="url(#gO)" stroke="#a00a0a" stroke-width="0.35"/>
<circle cx="423.2" cy="55.5" r="2.4" fill="url(#gO)" stroke="#a00a0a" stroke-width="0.35"/>
<circle cx="445.2" cy="55.3" r="2.4" fill="url(#gO)" stroke="#a00a0a" stroke-width="0.35"/>
<circle cx="451.6" cy="56" r="2.4" fill="url(#gO)" stroke="#a00a0a" stroke-width="0.35"/>
<circle cx="455.2" cy="24.8" r="2.6" fill="url(#gO)" stroke="#a00a0a" stroke-width="0.35"/>
<circle cx="459.2" cy="25.6" r="2.6" fill="url(#gO)" stroke="#a00a0a" stroke-width="0.35"/>
<circle cx="464.6" cy="56.5" r="2.4" fill="url(#gO)" stroke="#a00a0a" stroke-width="0.35"/>
<circle cx="469.6" cy="54.5" r="2.4" fill="url(#gO)" stroke="#a00a0a" stroke-width="0.35"/>
<line x1="327.2" y1="94.6" x2="328.59" y2="82.65" stroke="#3c9ad6" stroke-width="2.5" stroke-linecap="butt"/>
<line x1="328.59" y1="82.65" x2="329.3" y2="76.5" stroke="#e22222" stroke-width="2.5" stroke-linecap="butt"/>
<line x1="327.2" y1="94.6" x2="332.61" y2="81.99" stroke="#3c9ad6" stroke-width="2.5" stroke-linecap="butt"/>
<line x1="332.61" y1="81.99" x2="335.4" y2="75.5" stroke="#e22222" stroke-width="2.5" stroke-linecap="butt"/>
<line x1="327.2" y1="94.6" x2="316.9" y2="82.52" stroke="#3c9ad6" stroke-width="2.5" stroke-linecap="butt"/>
<line x1="316.9" y1="82.52" x2="311.6" y2="76.3" stroke="#e22222" stroke-width="2.5" stroke-linecap="butt"/>
<line x1="327.2" y1="94.6" x2="340" y2="82.32" stroke="#3c9ad6" stroke-width="2.5" stroke-linecap="butt" stroke-dasharray="0.9 0.7"/>
<line x1="340" y1="82.32" x2="346.6" y2="76" stroke="#e22222" stroke-width="2.5" stroke-linecap="butt" stroke-dasharray="0.9 0.7"/>
<line x1="327.2" y1="94.6" x2="320.47" y2="102.92" stroke="#3c9ad6" stroke-width="2.5" stroke-linecap="butt" stroke-dasharray="0.9 0.7"/>
<line x1="320.47" y1="102.92" x2="317" y2="107.2" stroke="#e22222" stroke-width="2.5" stroke-linecap="butt" stroke-dasharray="0.9 0.7"/>
<line x1="327.2" y1="94.6" x2="338.29" y2="101.93" stroke="#3c9ad6" stroke-width="2.5" stroke-linecap="butt"/>
<line x1="338.29" y1="101.93" x2="344" y2="105.7" stroke="#e22222" stroke-width="2.5" stroke-linecap="butt"/>
<line x1="327.2" y1="94.6" x2="341.85" y2="102.26" stroke="#3c9ad6" stroke-width="2.5" stroke-linecap="butt"/>
<line x1="341.85" y1="102.26" x2="349.4" y2="106.2" stroke="#e22222" stroke-width="2.5" stroke-linecap="butt"/>
<line x1="327.2" y1="94.6" x2="311.76" y2="102.45" stroke="#3c9ad6" stroke-width="2.5" stroke-linecap="butt" stroke-dasharray="0.9 0.7"/>
<line x1="311.76" y1="102.45" x2="303.8" y2="106.5" stroke="#e22222" stroke-width="2.5" stroke-linecap="butt" stroke-dasharray="0.9 0.7"/>
<line x1="367.3" y1="94.6" x2="353.64" y2="82.32" stroke="#3c9ad6" stroke-width="2.5" stroke-linecap="butt" stroke-dasharray="0.9 0.7"/>
<line x1="353.64" y1="82.32" x2="346.6" y2="76" stroke="#e22222" stroke-width="2.5" stroke-linecap="butt" stroke-dasharray="0.9 0.7"/>
<line x1="367.3" y1="94.6" x2="361.29" y2="81.14" stroke="#3c9ad6" stroke-width="2.5" stroke-linecap="butt"/>
<line x1="361.29" y1="81.14" x2="358.2" y2="74.2" stroke="#e22222" stroke-width="2.5" stroke-linecap="butt"/>
<line x1="367.3" y1="94.6" x2="365.32" y2="82.39" stroke="#3c9ad6" stroke-width="2.5" stroke-linecap="butt"/>
<line x1="365.32" y1="82.39" x2="364.3" y2="76.1" stroke="#e22222" stroke-width="2.5" stroke-linecap="butt"/>
<line x1="367.3" y1="94.6" x2="376.74" y2="81.99" stroke="#3c9ad6" stroke-width="2.5" stroke-linecap="butt"/>
<line x1="376.74" y1="81.99" x2="381.6" y2="75.5" stroke="#e22222" stroke-width="2.5" stroke-linecap="butt"/>
<line x1="367.3" y1="94.6" x2="355.49" y2="102.26" stroke="#3c9ad6" stroke-width="2.5" stroke-linecap="butt"/>
<line x1="355.49" y1="102.26" x2="349.4" y2="106.2" stroke="#e22222" stroke-width="2.5" stroke-linecap="butt"/>
<line x1="367.3" y1="94.6" x2="370.01" y2="102.12" stroke="#3c9ad6" stroke-width="2.5" stroke-linecap="butt"/>
<line x1="370.01" y1="102.12" x2="371.4" y2="106" stroke="#e22222" stroke-width="2.5" stroke-linecap="butt"/>
<line x1="367.3" y1="94.6" x2="374.23" y2="102.59" stroke="#3c9ad6" stroke-width="2.5" stroke-linecap="butt"/>
<line x1="374.23" y1="102.59" x2="377.8" y2="106.7" stroke="#e22222" stroke-width="2.5" stroke-linecap="butt"/>
<line x1="367.3" y1="94.6" x2="382.81" y2="102.59" stroke="#3c9ad6" stroke-width="2.5" stroke-linecap="butt" stroke-dasharray="0.9 0.7"/>
<line x1="382.81" y1="102.59" x2="390.8" y2="106.7" stroke="#e22222" stroke-width="2.5" stroke-linecap="butt" stroke-dasharray="0.9 0.7"/>
<line x1="401" y1="94.6" x2="402.39" y2="82.65" stroke="#3c9ad6" stroke-width="2.5" stroke-linecap="butt"/>
<line x1="402.39" y1="82.65" x2="403.1" y2="76.5" stroke="#e22222" stroke-width="2.5" stroke-linecap="butt"/>
<line x1="401" y1="94.6" x2="406.41" y2="81.99" stroke="#3c9ad6" stroke-width="2.5" stroke-linecap="butt"/>
<line x1="406.41" y1="81.99" x2="409.2" y2="75.5" stroke="#e22222" stroke-width="2.5" stroke-linecap="butt"/>
<line x1="401" y1="94.6" x2="390.7" y2="82.52" stroke="#3c9ad6" stroke-width="2.5" stroke-linecap="butt"/>
<line x1="390.7" y1="82.52" x2="385.4" y2="76.3" stroke="#e22222" stroke-width="2.5" stroke-linecap="butt"/>
<line x1="401" y1="94.6" x2="413.8" y2="82.32" stroke="#3c9ad6" stroke-width="2.5" stroke-linecap="butt" stroke-dasharray="0.9 0.7"/>
<line x1="413.8" y1="82.32" x2="420.4" y2="76" stroke="#e22222" stroke-width="2.5" stroke-linecap="butt" stroke-dasharray="0.9 0.7"/>
<line x1="401" y1="94.6" x2="394.27" y2="102.92" stroke="#3c9ad6" stroke-width="2.5" stroke-linecap="butt" stroke-dasharray="0.9 0.7"/>
<line x1="394.27" y1="102.92" x2="390.8" y2="107.2" stroke="#e22222" stroke-width="2.5" stroke-linecap="butt" stroke-dasharray="0.9 0.7"/>
<line x1="401" y1="94.6" x2="412.09" y2="101.93" stroke="#3c9ad6" stroke-width="2.5" stroke-linecap="butt"/>
<line x1="412.09" y1="101.93" x2="417.8" y2="105.7" stroke="#e22222" stroke-width="2.5" stroke-linecap="butt"/>
<line x1="401" y1="94.6" x2="415.65" y2="102.26" stroke="#3c9ad6" stroke-width="2.5" stroke-linecap="butt"/>
<line x1="415.65" y1="102.26" x2="423.2" y2="106.2" stroke="#e22222" stroke-width="2.5" stroke-linecap="butt"/>
<line x1="401" y1="94.6" x2="385.56" y2="102.45" stroke="#3c9ad6" stroke-width="2.5" stroke-linecap="butt" stroke-dasharray="0.9 0.7"/>
<line x1="385.56" y1="102.45" x2="377.6" y2="106.5" stroke="#e22222" stroke-width="2.5" stroke-linecap="butt" stroke-dasharray="0.9 0.7"/>
<line x1="441.1" y1="94.6" x2="427.44" y2="82.32" stroke="#3c9ad6" stroke-width="2.5" stroke-linecap="butt" stroke-dasharray="0.9 0.7"/>
<line x1="427.44" y1="82.32" x2="420.4" y2="76" stroke="#e22222" stroke-width="2.5" stroke-linecap="butt" stroke-dasharray="0.9 0.7"/>
<line x1="441.1" y1="94.6" x2="435.09" y2="81.14" stroke="#3c9ad6" stroke-width="2.5" stroke-linecap="butt"/>
<line x1="435.09" y1="81.14" x2="432" y2="74.2" stroke="#e22222" stroke-width="2.5" stroke-linecap="butt"/>
<line x1="441.1" y1="94.6" x2="439.12" y2="82.39" stroke="#3c9ad6" stroke-width="2.5" stroke-linecap="butt"/>
<line x1="439.12" y1="82.39" x2="438.1" y2="76.1" stroke="#e22222" stroke-width="2.5" stroke-linecap="butt"/>
<line x1="441.1" y1="94.6" x2="450.54" y2="81.99" stroke="#3c9ad6" stroke-width="2.5" stroke-linecap="butt"/>
<line x1="450.54" y1="81.99" x2="455.4" y2="75.5" stroke="#e22222" stroke-width="2.5" stroke-linecap="butt"/>
<line x1="441.1" y1="94.6" x2="429.29" y2="102.26" stroke="#3c9ad6" stroke-width="2.5" stroke-linecap="butt"/>
<line x1="429.29" y1="102.26" x2="423.2" y2="106.2" stroke="#e22222" stroke-width="2.5" stroke-linecap="butt"/>
<line x1="441.1" y1="94.6" x2="443.81" y2="102.12" stroke="#3c9ad6" stroke-width="2.5" stroke-linecap="butt"/>
<line x1="443.81" y1="102.12" x2="445.2" y2="106" stroke="#e22222" stroke-width="2.5" stroke-linecap="butt"/>
<line x1="441.1" y1="94.6" x2="448.03" y2="102.59" stroke="#3c9ad6" stroke-width="2.5" stroke-linecap="butt"/>
<line x1="448.03" y1="102.59" x2="451.6" y2="106.7" stroke="#e22222" stroke-width="2.5" stroke-linecap="butt"/>
<line x1="441.1" y1="94.6" x2="456.61" y2="102.59" stroke="#3c9ad6" stroke-width="2.5" stroke-linecap="butt" stroke-dasharray="0.9 0.7"/>
<line x1="456.61" y1="102.59" x2="464.6" y2="106.7" stroke="#e22222" stroke-width="2.5" stroke-linecap="butt" stroke-dasharray="0.9 0.7"/>
<polygon points="298.6,108.7 286.2,128.1 310.2,128.1" fill="#2e2ea6" stroke="none" stroke-width="1"/>
<polygon points="298.6,108.7 296.7,128.1 310.2,128.1" fill="#242498" stroke="none" stroke-width="1"/>
<polygon points="321.6,106.3 309.8,128.1 333.6,127.5" fill="#12128c" stroke="none" stroke-width="1"/>
<polygon points="321.6,106.3 319.2,128.1 333.6,127.5" fill="#0a0a7a" stroke="none" stroke-width="1"/>
<polygon points="333.2,127.5 343.2,109.7 346.5,107.9 336.2,128.1" fill="#26269c" stroke="none" stroke-width="1"/>
<polygon points="346.5,107.9 362.7,127.5 359.2,127.5" fill="#26269c" stroke="none" stroke-width="1"/>
<polygon points="346.5,107.9 335.8,127.8 359.4,127.3" fill="#cccccc" stroke="none" stroke-width="1"/>
<polygon points="346.5,107.9 347,127.6 359.4,127.3" fill="#b4b4b4" stroke="none" stroke-width="1"/>
<line x1="287.2" y1="127.9" x2="361.2" y2="127.5" stroke="#5a5ab0" stroke-width="0.7"/>
<polygon points="360.5,128.1 372.6,108.3 376.5,108.3 368,128.1" fill="#4c4cba" stroke="none" stroke-width="1"/>
<polygon points="376.8,107.5 368.5,128.1 385.6,128.1" fill="#cecece" stroke="none" stroke-width="1"/>
<polygon points="376.8,107.5 378.5,128.1 385.6,128.1" fill="#b2b2b2" stroke="none" stroke-width="1"/>
<polygon points="395.4,106.3 383.6,128.1 407.4,127.5" fill="#12128c" stroke="none" stroke-width="1"/>
<polygon points="395.4,106.3 393,128.1 407.4,127.5" fill="#0a0a7a" stroke="none" stroke-width="1"/>
<polygon points="407,127.5 417,109.7 420.3,107.9 410,128.1" fill="#26269c" stroke="none" stroke-width="1"/>
<polygon points="420.3,107.9 436.5,127.5 433,127.5" fill="#26269c" stroke="none" stroke-width="1"/>
<polygon points="420.3,107.9 409.6,127.8 433.2,127.3" fill="#cccccc" stroke="none" stroke-width="1"/>
<polygon points="420.3,107.9 420.8,127.6 433.2,127.3" fill="#b4b4b4" stroke="none" stroke-width="1"/>
<line x1="361" y1="127.9" x2="435" y2="127.5" stroke="#5a5ab0" stroke-width="0.7"/>
<polygon points="434.3,128.1 446.4,108.3 450.3,108.3 441.8,128.1" fill="#4c4cba" stroke="none" stroke-width="1"/>
<polygon points="450.6,107.5 442.3,128.1 459.4,128.1" fill="#cecece" stroke="none" stroke-width="1"/>
<polygon points="450.6,107.5 452.3,128.1 459.4,128.1" fill="#b2b2b2" stroke="none" stroke-width="1"/>
<polygon points="469.2,106.3 457.4,128.1 481.2,127.5" fill="#12128c" stroke="none" stroke-width="1"/>
<polygon points="469.2,106.3 466.8,128.1 481.2,127.5" fill="#0a0a7a" stroke="none" stroke-width="1"/>
<circle cx="327.2" cy="94.6" r="8.9" fill="url(#gK)" stroke="#1a5c9c" stroke-width="0.4"/>
<circle cx="367.3" cy="94.6" r="8.9" fill="url(#gK)" stroke="#1a5c9c" stroke-width="0.4"/>
<circle cx="401" cy="94.6" r="8.9" fill="url(#gK)" stroke="#1a5c9c" stroke-width="0.4"/>
<circle cx="441.1" cy="94.6" r="8.9" fill="url(#gK)" stroke="#1a5c9c" stroke-width="0.4"/>
<circle cx="307.6" cy="75.5" r="2.6" fill="url(#gO)" stroke="#a00a0a" stroke-width="0.35"/>
<circle cx="311.6" cy="76.3" r="2.6" fill="url(#gO)" stroke="#a00a0a" stroke-width="0.35"/>
<circle cx="329.3" cy="76.5" r="2.6" fill="url(#gO)" stroke="#a00a0a" stroke-width="0.35"/>
<circle cx="335.4" cy="75.5" r="2.6" fill="url(#gO)" stroke="#a00a0a" stroke-width="0.35"/>
<circle cx="346.6" cy="76" r="2.6" fill="url(#gO)" stroke="#a00a0a" stroke-width="0.35"/>
<circle cx="358.2" cy="74.2" r="2.6" fill="url(#gO)" stroke="#a00a0a" stroke-width="0.35"/>
<circle cx="364.3" cy="76.1" r="2.6" fill="url(#gO)" stroke="#a00a0a" stroke-width="0.35"/>
<circle cx="317" cy="107.2" r="2.4" fill="url(#gO)" stroke="#a00a0a" stroke-width="0.35"/>
<circle cx="322" cy="105.2" r="2.4" fill="url(#gO)" stroke="#a00a0a" stroke-width="0.35"/>
<circle cx="344" cy="105.7" r="2.4" fill="url(#gO)" stroke="#a00a0a" stroke-width="0.35"/>
<circle cx="349.4" cy="106.2" r="2.4" fill="url(#gO)" stroke="#a00a0a" stroke-width="0.35"/>
<circle cx="371.4" cy="106" r="2.4" fill="url(#gO)" stroke="#a00a0a" stroke-width="0.35"/>
<circle cx="377.8" cy="106.7" r="2.4" fill="url(#gO)" stroke="#a00a0a" stroke-width="0.35"/>
<circle cx="381.4" cy="75.5" r="2.6" fill="url(#gO)" stroke="#a00a0a" stroke-width="0.35"/>
<circle cx="385.4" cy="76.3" r="2.6" fill="url(#gO)" stroke="#a00a0a" stroke-width="0.35"/>
<circle cx="403.1" cy="76.5" r="2.6" fill="url(#gO)" stroke="#a00a0a" stroke-width="0.35"/>
<circle cx="409.2" cy="75.5" r="2.6" fill="url(#gO)" stroke="#a00a0a" stroke-width="0.35"/>
<circle cx="420.4" cy="76" r="2.6" fill="url(#gO)" stroke="#a00a0a" stroke-width="0.35"/>
<circle cx="432" cy="74.2" r="2.6" fill="url(#gO)" stroke="#a00a0a" stroke-width="0.35"/>
<circle cx="438.1" cy="76.1" r="2.6" fill="url(#gO)" stroke="#a00a0a" stroke-width="0.35"/>
<circle cx="390.8" cy="107.2" r="2.4" fill="url(#gO)" stroke="#a00a0a" stroke-width="0.35"/>
<circle cx="395.8" cy="105.2" r="2.4" fill="url(#gO)" stroke="#a00a0a" stroke-width="0.35"/>
<circle cx="417.8" cy="105.7" r="2.4" fill="url(#gO)" stroke="#a00a0a" stroke-width="0.35"/>
<circle cx="423.2" cy="106.2" r="2.4" fill="url(#gO)" stroke="#a00a0a" stroke-width="0.35"/>
<circle cx="445.2" cy="106" r="2.4" fill="url(#gO)" stroke="#a00a0a" stroke-width="0.35"/>
<circle cx="451.6" cy="106.7" r="2.4" fill="url(#gO)" stroke="#a00a0a" stroke-width="0.35"/>
<circle cx="455.2" cy="75.5" r="2.6" fill="url(#gO)" stroke="#a00a0a" stroke-width="0.35"/>
<circle cx="459.2" cy="76.3" r="2.6" fill="url(#gO)" stroke="#a00a0a" stroke-width="0.35"/>
<circle cx="464.6" cy="107.2" r="2.4" fill="url(#gO)" stroke="#a00a0a" stroke-width="0.35"/>
<circle cx="469.6" cy="105.2" r="2.4" fill="url(#gO)" stroke="#a00a0a" stroke-width="0.35"/>
<circle cx="298.6" cy="57" r="2.4" fill="url(#gO)" stroke="#a00a0a" stroke-width="0.35"/>
<circle cx="303.9" cy="55.8" r="2.4" fill="url(#gO)" stroke="#a00a0a" stroke-width="0.35"/>
<circle cx="285" cy="76.8" r="2.5" fill="url(#gO)" stroke="#a00a0a" stroke-width="0.35"/>
<circle cx="288.7" cy="78" r="2.4" fill="url(#gO)" stroke="#a00a0a" stroke-width="0.35"/>
<circle cx="298.6" cy="107.7" r="2.4" fill="url(#gO)" stroke="#a00a0a" stroke-width="0.35"/>
<circle cx="303.9" cy="106.5" r="2.4" fill="url(#gO)" stroke="#a00a0a" stroke-width="0.35"/>
<circle cx="285" cy="127.5" r="2.5" fill="url(#gO)" stroke="#a00a0a" stroke-width="0.35"/>
<circle cx="288.7" cy="128.7" r="2.4" fill="url(#gO)" stroke="#a00a0a" stroke-width="0.35"/>
<circle cx="307.6" cy="126.2" r="2.6" fill="url(#gO)" stroke="#a00a0a" stroke-width="0.35"/>
<circle cx="311.6" cy="127" r="2.6" fill="url(#gO)" stroke="#a00a0a" stroke-width="0.35"/>
<circle cx="329.3" cy="127.2" r="2.6" fill="url(#gO)" stroke="#a00a0a" stroke-width="0.35"/>
<circle cx="335.4" cy="126.2" r="2.6" fill="url(#gO)" stroke="#a00a0a" stroke-width="0.35"/>
<circle cx="346.6" cy="126.7" r="2.6" fill="url(#gO)" stroke="#a00a0a" stroke-width="0.35"/>
<circle cx="358.2" cy="124.9" r="2.6" fill="url(#gO)" stroke="#a00a0a" stroke-width="0.35"/>
<circle cx="364.3" cy="126.8" r="2.6" fill="url(#gO)" stroke="#a00a0a" stroke-width="0.35"/>
<circle cx="381.4" cy="126.2" r="2.6" fill="url(#gO)" stroke="#a00a0a" stroke-width="0.35"/>
<circle cx="385.4" cy="127" r="2.6" fill="url(#gO)" stroke="#a00a0a" stroke-width="0.35"/>
<circle cx="403.1" cy="127.2" r="2.6" fill="url(#gO)" stroke="#a00a0a" stroke-width="0.35"/>
<circle cx="409.2" cy="126.2" r="2.6" fill="url(#gO)" stroke="#a00a0a" stroke-width="0.35"/>
<circle cx="420.4" cy="126.7" r="2.6" fill="url(#gO)" stroke="#a00a0a" stroke-width="0.35"/>
<circle cx="432" cy="124.9" r="2.6" fill="url(#gO)" stroke="#a00a0a" stroke-width="0.35"/>
<circle cx="438.1" cy="126.8" r="2.6" fill="url(#gO)" stroke="#a00a0a" stroke-width="0.35"/>
<circle cx="455.2" cy="126.2" r="2.6" fill="url(#gO)" stroke="#a00a0a" stroke-width="0.35"/>
<circle cx="459.2" cy="127" r="2.6" fill="url(#gO)" stroke="#a00a0a" stroke-width="0.35"/>
<circle cx="476.9" cy="127.2" r="2.6" fill="url(#gO)" stroke="#a00a0a" stroke-width="0.35"/>
<circle cx="483" cy="126.2" r="2.6" fill="url(#gO)" stroke="#a00a0a" stroke-width="0.35"/>
<circle cx="480.2" cy="74.7" r="2.5" fill="url(#gO)" stroke="#a00a0a" stroke-width="0.35"/>
<circle cx="483.9" cy="75.5" r="2.4" fill="url(#gO)" stroke="#a00a0a" stroke-width="0.35"/>
<circle cx="480.2" cy="125.4" r="2.5" fill="url(#gO)" stroke="#a00a0a" stroke-width="0.35"/>
<circle cx="483.9" cy="126.2" r="2.4" fill="url(#gO)" stroke="#a00a0a" stroke-width="0.35"/>
</g>
<line x1="271.1" y1="141.5" x2="271.1" y2="128.9" stroke="#1b7fd4" stroke-width="3.4"/>
<polygon points="271.1,121 274.7,129.4 267.5,129.4" fill="#1b7fd4" stroke="none" stroke-width="1"/>
<line x1="272.5" y1="144" x2="283.93" y2="145" stroke="#cc1010" stroke-width="2.4"/>
<polygon points="292,145.7 283.19,147.74 283.68,142.16" fill="#cc1010" stroke="none" stroke-width="1"/>
<line x1="272.5" y1="142.3" x2="284.5" y2="142.3" stroke="#3f8a34" stroke-width="3.0"/>
<polygon points="292.4,142.3 284,145.5 284,139.1" fill="#3f8a34" stroke="none" stroke-width="1"/>
<circle cx="271.1" cy="142.3" r="3.2" fill="url(#gP)" stroke="#aaa" stroke-width="0.3"/>
<text x="269.6" y="119.7" font-size="10.4" text-anchor="start" fill="#000">c</text>
<text x="294.4" y="144.4" font-size="10.0" text-anchor="start" fill="#000">b</text>
<text x="293.2" y="151.8" font-size="10.0" text-anchor="start" fill="#000">a</text>
</g>
<polygon points="535,57.7 547.8,71.2 529.6,75.3" fill="#a2a2a2" stroke="#8a8a8a" stroke-width="0.4"/>
<line x1="537.47" y1="68.07" x2="535" y2="57.7" stroke="#b8b8b8" stroke-width="0.5"/>
<line x1="537.47" y1="68.07" x2="547.8" y2="71.2" stroke="#b8b8b8" stroke-width="0.5"/>
<line x1="537.47" y1="68.07" x2="529.6" y2="75.3" stroke="#b8b8b8" stroke-width="0.5"/>
<polygon points="562,43.9 579.9,49.2 566.4,61.8" fill="#a2a2a2" stroke="#8a8a8a" stroke-width="0.4"/>
<line x1="569.43" y1="51.63" x2="562" y2="43.9" stroke="#b8b8b8" stroke-width="0.5"/>
<line x1="569.43" y1="51.63" x2="579.9" y2="49.2" stroke="#b8b8b8" stroke-width="0.5"/>
<line x1="569.43" y1="51.63" x2="566.4" y2="61.8" stroke="#b8b8b8" stroke-width="0.5"/>
<polygon points="598.4,58.7 611.9,72.1 593,76.5" fill="#a2a2a2" stroke="#8a8a8a" stroke-width="0.4"/>
<line x1="601.1" y1="69.1" x2="598.4" y2="58.7" stroke="#b8b8b8" stroke-width="0.5"/>
<line x1="601.1" y1="69.1" x2="611.9" y2="72.1" stroke="#b8b8b8" stroke-width="0.5"/>
<line x1="601.1" y1="69.1" x2="593" y2="76.5" stroke="#b8b8b8" stroke-width="0.5"/>
<polygon points="625.4,44.5 643.6,50.2 630.1,63.4" fill="#a2a2a2" stroke="#8a8a8a" stroke-width="0.4"/>
<line x1="633.03" y1="52.7" x2="625.4" y2="44.5" stroke="#b8b8b8" stroke-width="0.5"/>
<line x1="633.03" y1="52.7" x2="643.6" y2="50.2" stroke="#b8b8b8" stroke-width="0.5"/>
<line x1="633.03" y1="52.7" x2="630.1" y2="63.4" stroke="#b8b8b8" stroke-width="0.5"/>
<polygon points="556.9,89.4 561,107.9 543.1,102.6" fill="#a2a2a2" stroke="#8a8a8a" stroke-width="0.4"/>
<line x1="553.67" y1="99.97" x2="556.9" y2="89.4" stroke="#b8b8b8" stroke-width="0.5"/>
<line x1="553.67" y1="99.97" x2="561" y2="107.9" stroke="#b8b8b8" stroke-width="0.5"/>
<line x1="553.67" y1="99.97" x2="543.1" y2="102.6" stroke="#b8b8b8" stroke-width="0.5"/>
<polygon points="575.1,80.6 593,76.5 588.3,94.1" fill="#a2a2a2" stroke="#8a8a8a" stroke-width="0.4"/>
<line x1="585.47" y1="83.73" x2="575.1" y2="80.6" stroke="#b8b8b8" stroke-width="0.5"/>
<line x1="585.47" y1="83.73" x2="593" y2="76.5" stroke="#b8b8b8" stroke-width="0.5"/>
<line x1="585.47" y1="83.73" x2="588.3" y2="94.1" stroke="#b8b8b8" stroke-width="0.5"/>
<polygon points="620.7,90.7 624.7,108.9 606.8,103.5" fill="#a2a2a2" stroke="#8a8a8a" stroke-width="0.4"/>
<line x1="617.4" y1="101.03" x2="620.7" y2="90.7" stroke="#b8b8b8" stroke-width="0.5"/>
<line x1="617.4" y1="101.03" x2="624.7" y2="108.9" stroke="#b8b8b8" stroke-width="0.5"/>
<line x1="617.4" y1="101.03" x2="606.8" y2="103.5" stroke="#b8b8b8" stroke-width="0.5"/>
<polygon points="638.9,82.2 657.1,77.5 652,95.4" fill="#a2a2a2" stroke="#8a8a8a" stroke-width="0.4"/>
<line x1="649.33" y1="85.03" x2="638.9" y2="82.2" stroke="#b8b8b8" stroke-width="0.5"/>
<line x1="649.33" y1="85.03" x2="657.1" y2="77.5" stroke="#b8b8b8" stroke-width="0.5"/>
<line x1="649.33" y1="85.03" x2="652" y2="95.4" stroke="#b8b8b8" stroke-width="0.5"/>
<polygon points="525.6,29.8 544.4,38.9 535,57.7 516.5,48.3" fill="#38389a" stroke="#2a2a80" stroke-width="0.5"/>
<polygon points="525.6,29.8 544.4,38.9 530.38,43.67" fill="#4040a2" stroke="none" stroke-width="1"/>
<polygon points="535,57.7 516.5,48.3 530.38,43.67" fill="#30308c" stroke="none" stroke-width="1"/>
<line x1="525.6" y1="29.8" x2="535" y2="57.7" stroke="#7a6aa8" stroke-width="0.5"/>
<line x1="544.4" y1="38.9" x2="516.5" y2="48.3" stroke="#7a6aa8" stroke-width="0.5"/>
<polygon points="589.3,31 607.5,39.8 598.4,58.7 579.9,49.2" fill="#38389a" stroke="#2a2a80" stroke-width="0.5"/>
<polygon points="589.3,31 607.5,39.8 593.77,44.67" fill="#4040a2" stroke="none" stroke-width="1"/>
<polygon points="598.4,58.7 579.9,49.2 593.77,44.67" fill="#30308c" stroke="none" stroke-width="1"/>
<line x1="589.3" y1="31" x2="598.4" y2="58.7" stroke="#7a6aa8" stroke-width="0.5"/>
<line x1="607.5" y1="39.8" x2="579.9" y2="49.2" stroke="#7a6aa8" stroke-width="0.5"/>
<polygon points="653,31.3 671.2,40.8 662.1,59.3 643.6,50.2" fill="#38389a" stroke="#2a2a80" stroke-width="0.5"/>
<polygon points="653,31.3 671.2,40.8 657.48,45.4" fill="#4040a2" stroke="none" stroke-width="1"/>
<polygon points="662.1,59.3 643.6,50.2 657.48,45.4" fill="#30308c" stroke="none" stroke-width="1"/>
<line x1="653" y1="31.3" x2="662.1" y2="59.3" stroke="#7a6aa8" stroke-width="0.5"/>
<line x1="671.2" y1="40.8" x2="643.6" y2="50.2" stroke="#7a6aa8" stroke-width="0.5"/>
<polygon points="565.7,61.8 575.1,80.6 556.9,89.4 547.8,71.2" fill="#38389a" stroke="#2a2a80" stroke-width="0.5"/>
<polygon points="565.7,61.8 575.1,80.6 561.38,75.75" fill="#4040a2" stroke="none" stroke-width="1"/>
<polygon points="556.9,89.4 547.8,71.2 561.38,75.75" fill="#30308c" stroke="none" stroke-width="1"/>
<line x1="565.7" y1="61.8" x2="556.9" y2="89.4" stroke="#7a6aa8" stroke-width="0.5"/>
<line x1="575.1" y1="80.6" x2="547.8" y2="71.2" stroke="#7a6aa8" stroke-width="0.5"/>
<polygon points="630.1,63.4 638.9,82.2 620.7,90.7 611.9,72.1" fill="#38389a" stroke="#2a2a80" stroke-width="0.5"/>
<polygon points="630.1,63.4 638.9,82.2 625.4,77.1" fill="#4040a2" stroke="none" stroke-width="1"/>
<polygon points="620.7,90.7 611.9,72.1 625.4,77.1" fill="#30308c" stroke="none" stroke-width="1"/>
<line x1="630.1" y1="63.4" x2="620.7" y2="90.7" stroke="#7a6aa8" stroke-width="0.5"/>
<line x1="638.9" y1="82.2" x2="611.9" y2="72.1" stroke="#7a6aa8" stroke-width="0.5"/>
<polygon points="524.9,93.2 543.1,102.6 533.7,120.8 515.5,112" fill="#38389a" stroke="#2a2a80" stroke-width="0.5"/>
<polygon points="524.9,93.2 543.1,102.6 529.3,107.15" fill="#4040a2" stroke="none" stroke-width="1"/>
<polygon points="533.7,120.8 515.5,112 529.3,107.15" fill="#30308c" stroke="none" stroke-width="1"/>
<line x1="524.9" y1="93.2" x2="533.7" y2="120.8" stroke="#7a6aa8" stroke-width="0.5"/>
<line x1="543.1" y1="102.6" x2="515.5" y2="112" stroke="#7a6aa8" stroke-width="0.5"/>
<polygon points="588.3,94.1 606.8,103.5 597.1,122.1 579.2,112.6" fill="#38389a" stroke="#2a2a80" stroke-width="0.5"/>
<polygon points="588.3,94.1 606.8,103.5 592.85,108.07" fill="#4040a2" stroke="none" stroke-width="1"/>
<polygon points="597.1,122.1 579.2,112.6 592.85,108.07" fill="#30308c" stroke="none" stroke-width="1"/>
<line x1="588.3" y1="94.1" x2="597.1" y2="122.1" stroke="#7a6aa8" stroke-width="0.5"/>
<line x1="606.8" y1="103.5" x2="579.2" y2="112.6" stroke="#7a6aa8" stroke-width="0.5"/>
<polygon points="652,95.4 670.3,104.8 661.1,123 642.6,113.6" fill="#38389a" stroke="#2a2a80" stroke-width="0.5"/>
<polygon points="652,95.4 670.3,104.8 656.5,109.2" fill="#4040a2" stroke="none" stroke-width="1"/>
<polygon points="661.1,123 642.6,113.6 656.5,109.2" fill="#30308c" stroke="none" stroke-width="1"/>
<line x1="652" y1="95.4" x2="661.1" y2="123" stroke="#7a6aa8" stroke-width="0.5"/>
<line x1="670.3" y1="104.8" x2="642.6" y2="113.6" stroke="#7a6aa8" stroke-width="0.5"/>
<circle cx="525.6" cy="29.8" r="2.2" fill="url(#gO)" stroke="#a00a0a" stroke-width="0.35"/>
<circle cx="544.4" cy="38.9" r="2.2" fill="url(#gO)" stroke="#a00a0a" stroke-width="0.35"/>
<circle cx="535" cy="57.7" r="2.2" fill="url(#gO)" stroke="#a00a0a" stroke-width="0.35"/>
<circle cx="516.5" cy="48.3" r="2.2" fill="url(#gO)" stroke="#a00a0a" stroke-width="0.35"/>
<circle cx="589.3" cy="31" r="2.2" fill="url(#gO)" stroke="#a00a0a" stroke-width="0.35"/>
<circle cx="607.5" cy="39.8" r="2.2" fill="url(#gO)" stroke="#a00a0a" stroke-width="0.35"/>
<circle cx="598.4" cy="58.7" r="2.2" fill="url(#gO)" stroke="#a00a0a" stroke-width="0.35"/>
<circle cx="579.9" cy="49.2" r="2.2" fill="url(#gO)" stroke="#a00a0a" stroke-width="0.35"/>
<circle cx="653" cy="31.3" r="2.2" fill="url(#gO)" stroke="#a00a0a" stroke-width="0.35"/>
<circle cx="671.2" cy="40.8" r="2.2" fill="url(#gO)" stroke="#a00a0a" stroke-width="0.35"/>
<circle cx="662.1" cy="59.3" r="2.2" fill="url(#gO)" stroke="#a00a0a" stroke-width="0.35"/>
<circle cx="643.6" cy="50.2" r="2.2" fill="url(#gO)" stroke="#a00a0a" stroke-width="0.35"/>
<circle cx="565.7" cy="61.8" r="2.2" fill="url(#gO)" stroke="#a00a0a" stroke-width="0.35"/>
<circle cx="575.1" cy="80.6" r="2.2" fill="url(#gO)" stroke="#a00a0a" stroke-width="0.35"/>
<circle cx="556.9" cy="89.4" r="2.2" fill="url(#gO)" stroke="#a00a0a" stroke-width="0.35"/>
<circle cx="547.8" cy="71.2" r="2.2" fill="url(#gO)" stroke="#a00a0a" stroke-width="0.35"/>
<circle cx="630.1" cy="63.4" r="2.2" fill="url(#gO)" stroke="#a00a0a" stroke-width="0.35"/>
<circle cx="638.9" cy="82.2" r="2.2" fill="url(#gO)" stroke="#a00a0a" stroke-width="0.35"/>
<circle cx="620.7" cy="90.7" r="2.2" fill="url(#gO)" stroke="#a00a0a" stroke-width="0.35"/>
<circle cx="611.9" cy="72.1" r="2.2" fill="url(#gO)" stroke="#a00a0a" stroke-width="0.35"/>
<circle cx="524.9" cy="93.2" r="2.2" fill="url(#gO)" stroke="#a00a0a" stroke-width="0.35"/>
<circle cx="543.1" cy="102.6" r="2.2" fill="url(#gO)" stroke="#a00a0a" stroke-width="0.35"/>
<circle cx="533.7" cy="120.8" r="2.2" fill="url(#gO)" stroke="#a00a0a" stroke-width="0.35"/>
<circle cx="515.5" cy="112" r="2.2" fill="url(#gO)" stroke="#a00a0a" stroke-width="0.35"/>
<circle cx="588.3" cy="94.1" r="2.2" fill="url(#gO)" stroke="#a00a0a" stroke-width="0.35"/>
<circle cx="606.8" cy="103.5" r="2.2" fill="url(#gO)" stroke="#a00a0a" stroke-width="0.35"/>
<circle cx="597.1" cy="122.1" r="2.2" fill="url(#gO)" stroke="#a00a0a" stroke-width="0.35"/>
<circle cx="579.2" cy="112.6" r="2.2" fill="url(#gO)" stroke="#a00a0a" stroke-width="0.35"/>
<circle cx="652" cy="95.4" r="2.2" fill="url(#gO)" stroke="#a00a0a" stroke-width="0.35"/>
<circle cx="670.3" cy="104.8" r="2.2" fill="url(#gO)" stroke="#a00a0a" stroke-width="0.35"/>
<circle cx="661.1" cy="123" r="2.2" fill="url(#gO)" stroke="#a00a0a" stroke-width="0.35"/>
<circle cx="642.6" cy="113.6" r="2.2" fill="url(#gO)" stroke="#a00a0a" stroke-width="0.35"/>
<circle cx="529.6" cy="75.3" r="2.2" fill="url(#gO)" stroke="#a00a0a" stroke-width="0.35"/>
<circle cx="562" cy="43.9" r="2.2" fill="url(#gO)" stroke="#a00a0a" stroke-width="0.35"/>
<circle cx="593" cy="76.5" r="2.2" fill="url(#gO)" stroke="#a00a0a" stroke-width="0.35"/>
<circle cx="625.4" cy="44.5" r="2.2" fill="url(#gO)" stroke="#a00a0a" stroke-width="0.35"/>
<circle cx="561" cy="107.9" r="2.2" fill="url(#gO)" stroke="#a00a0a" stroke-width="0.35"/>
<circle cx="624.7" cy="108.9" r="2.2" fill="url(#gO)" stroke="#a00a0a" stroke-width="0.35"/>
<circle cx="657.1" cy="77.5" r="2.2" fill="url(#gO)" stroke="#a00a0a" stroke-width="0.35"/>
<circle cx="530.38" cy="43.67" r="2.1" fill="url(#gO)" stroke="#a00a0a" stroke-width="0.35"/>
<circle cx="593.77" cy="44.67" r="2.1" fill="url(#gO)" stroke="#a00a0a" stroke-width="0.35"/>
<circle cx="657.48" cy="45.4" r="2.1" fill="url(#gO)" stroke="#a00a0a" stroke-width="0.35"/>
<circle cx="561.38" cy="75.75" r="2.1" fill="url(#gO)" stroke="#a00a0a" stroke-width="0.35"/>
<circle cx="625.4" cy="77.1" r="2.1" fill="url(#gO)" stroke="#a00a0a" stroke-width="0.35"/>
<circle cx="529.3" cy="107.15" r="2.1" fill="url(#gO)" stroke="#a00a0a" stroke-width="0.35"/>
<circle cx="592.85" cy="108.07" r="2.1" fill="url(#gO)" stroke="#a00a0a" stroke-width="0.35"/>
<circle cx="656.5" cy="109.2" r="2.1" fill="url(#gO)" stroke="#a00a0a" stroke-width="0.35"/>
<circle cx="537.47" cy="68.07" r="2" fill="url(#gO)" stroke="#a00a0a" stroke-width="0.35"/>
<circle cx="569.43" cy="51.63" r="2" fill="url(#gO)" stroke="#a00a0a" stroke-width="0.35"/>
<circle cx="601.1" cy="69.1" r="2" fill="url(#gO)" stroke="#a00a0a" stroke-width="0.35"/>
<circle cx="633.03" cy="52.7" r="2" fill="url(#gO)" stroke="#a00a0a" stroke-width="0.35"/>
<circle cx="553.67" cy="99.97" r="2" fill="url(#gO)" stroke="#a00a0a" stroke-width="0.35"/>
<circle cx="585.47" cy="83.73" r="2" fill="url(#gO)" stroke="#a00a0a" stroke-width="0.35"/>
<circle cx="617.4" cy="101.03" r="2" fill="url(#gO)" stroke="#a00a0a" stroke-width="0.35"/>
<circle cx="649.33" cy="85.03" r="2" fill="url(#gO)" stroke="#a00a0a" stroke-width="0.35"/>
<line x1="499.5" y1="126.3" x2="510.6" y2="126.3" stroke="#4a8a2e" stroke-width="3.1"/>
<polygon points="518.9,126.3 510.1,129.4 510.1,123.2" fill="#4a8a2e" stroke="none" stroke-width="1"/>
<line x1="496.8" y1="128.5" x2="496.8" y2="140.3" stroke="#c80000" stroke-width="3.6"/>
<polygon points="496.8,148.9 493.2,139.8 500.4,139.8" fill="#c80000" stroke="none" stroke-width="1"/>
<circle cx="496.9" cy="126.3" r="3.5" fill="#1278d0" stroke="#0c4c90" stroke-width="0.4"/>
<text x="494.3" y="129" font-size="9.6" text-anchor="start" fill="#000">c</text>
<text x="521.3" y="128.9" font-size="11.0" text-anchor="start" fill="#000">b</text>
<text x="493.7" y="155.9" font-size="11.0" text-anchor="start" fill="#000">a</text>
<circle cx="554.7" cy="156.6" r="9.8" fill="url(#gK)" stroke="#1a5c9c" stroke-width="0.4"/>
<text x="568.8" y="161.3" font-size="14.4" text-anchor="start" fill="#000">K</text>
<circle cx="606.6" cy="156.8" r="6.2" fill="url(#gV)" stroke="#1c1c6a" stroke-width="0.4"/>
<text x="617.6" y="161.8" font-size="14.4" text-anchor="start" fill="#000">V</text>
<circle cx="650.4" cy="157.2" r="5.5" fill="url(#gP)" stroke="#808080" stroke-width="0.4"/>
<text x="661.6" y="161.8" font-size="14.4" text-anchor="start" fill="#000">P</text>
<g>
<clipPath id="clf"><rect x="294" y="368" width="181.5" height="116"/></clipPath>
<g clip-path="url(#clf)">
<line x1="331.8" y1="409.6" x2="320.12" y2="399.24" stroke="#3c9ad6" stroke-width="2.3" stroke-linecap="butt"/>
<line x1="320.12" y1="399.24" x2="314.1" y2="393.9" stroke="#e22222" stroke-width="2.3" stroke-linecap="butt"/>
<line x1="331.8" y1="409.6" x2="320.12" y2="420.23" stroke="#3c9ad6" stroke-width="2.3" stroke-linecap="butt"/>
<line x1="320.12" y1="420.23" x2="314.1" y2="425.7" stroke="#e22222" stroke-width="2.3" stroke-linecap="butt"/>
<line x1="331.8" y1="409.6" x2="328.04" y2="399.24" stroke="#3c9ad6" stroke-width="2.3" stroke-linecap="butt"/>
<line x1="328.04" y1="399.24" x2="326.1" y2="393.9" stroke="#e22222" stroke-width="2.3" stroke-linecap="butt"/>
<line x1="331.8" y1="409.6" x2="328.04" y2="420.23" stroke="#3c9ad6" stroke-width="2.3" stroke-linecap="butt"/>
<line x1="328.04" y1="420.23" x2="326.1" y2="425.7" stroke="#e22222" stroke-width="2.3" stroke-linecap="butt"/>
<line x1="331.8" y1="409.6" x2="336.02" y2="399.63" stroke="#8cc4ea" stroke-width="1.6" stroke-linecap="butt"/>
<line x1="336.02" y1="399.63" x2="338.2" y2="394.5" stroke="#f0a0a0" stroke-width="1.6" stroke-linecap="butt"/>
<line x1="331.8" y1="409.6" x2="336.02" y2="420.56" stroke="#8cc4ea" stroke-width="1.6" stroke-linecap="butt"/>
<line x1="336.02" y1="420.56" x2="338.2" y2="426.2" stroke="#f0a0a0" stroke-width="1.6" stroke-linecap="butt"/>
<line x1="331.8" y1="409.6" x2="342.56" y2="399.24" stroke="#3c9ad6" stroke-width="2.3" stroke-linecap="butt"/>
<line x1="342.56" y1="399.24" x2="348.1" y2="393.9" stroke="#e22222" stroke-width="2.3" stroke-linecap="butt"/>
<line x1="331.8" y1="409.6" x2="342.56" y2="420.23" stroke="#3c9ad6" stroke-width="2.3" stroke-linecap="butt"/>
<line x1="342.56" y1="420.23" x2="348.1" y2="425.7" stroke="#e22222" stroke-width="2.3" stroke-linecap="butt"/>
<line x1="366.6" y1="409.6" x2="354.39" y2="399.24" stroke="#3c9ad6" stroke-width="2.3" stroke-linecap="butt"/>
<line x1="354.39" y1="399.24" x2="348.1" y2="393.9" stroke="#e22222" stroke-width="2.3" stroke-linecap="butt"/>
<line x1="366.6" y1="409.6" x2="354.39" y2="420.23" stroke="#3c9ad6" stroke-width="2.3" stroke-linecap="butt"/>
<line x1="354.39" y1="420.23" x2="348.1" y2="425.7" stroke="#e22222" stroke-width="2.3" stroke-linecap="butt"/>
<line x1="366.6" y1="409.6" x2="362.18" y2="399.24" stroke="#3c9ad6" stroke-width="2.3" stroke-linecap="butt"/>
<line x1="362.18" y1="399.24" x2="359.9" y2="393.9" stroke="#e22222" stroke-width="2.3" stroke-linecap="butt"/>
<line x1="366.6" y1="409.6" x2="362.18" y2="420.23" stroke="#3c9ad6" stroke-width="2.3" stroke-linecap="butt"/>
<line x1="362.18" y1="420.23" x2="359.9" y2="425.7" stroke="#e22222" stroke-width="2.3" stroke-linecap="butt"/>
<line x1="366.6" y1="409.6" x2="369.57" y2="399.24" stroke="#3c9ad6" stroke-width="2.3" stroke-linecap="butt"/>
<line x1="369.57" y1="399.24" x2="371.1" y2="393.9" stroke="#e22222" stroke-width="2.3" stroke-linecap="butt"/>
<line x1="366.6" y1="409.6" x2="369.57" y2="420.23" stroke="#3c9ad6" stroke-width="2.3" stroke-linecap="butt"/>
<line x1="369.57" y1="420.23" x2="371.1" y2="425.7" stroke="#e22222" stroke-width="2.3" stroke-linecap="butt"/>
<line x1="366.6" y1="409.6" x2="380.39" y2="399.24" stroke="#3c9ad6" stroke-width="2.3" stroke-linecap="butt"/>
<line x1="380.39" y1="399.24" x2="387.5" y2="393.9" stroke="#e22222" stroke-width="2.3" stroke-linecap="butt"/>
<line x1="366.6" y1="409.6" x2="380.39" y2="420.23" stroke="#3c9ad6" stroke-width="2.3" stroke-linecap="butt"/>
<line x1="380.39" y1="420.23" x2="387.5" y2="425.7" stroke="#e22222" stroke-width="2.3" stroke-linecap="butt"/>
<line x1="404.5" y1="409.6" x2="392.82" y2="399.24" stroke="#3c9ad6" stroke-width="2.3" stroke-linecap="butt"/>
<line x1="392.82" y1="399.24" x2="386.8" y2="393.9" stroke="#e22222" stroke-width="2.3" stroke-linecap="butt"/>
<line x1="404.5" y1="409.6" x2="392.82" y2="420.23" stroke="#3c9ad6" stroke-width="2.3" stroke-linecap="butt"/>
<line x1="392.82" y1="420.23" x2="386.8" y2="425.7" stroke="#e22222" stroke-width="2.3" stroke-linecap="butt"/>
<line x1="404.5" y1="409.6" x2="400.74" y2="399.24" stroke="#3c9ad6" stroke-width="2.3" stroke-linecap="butt"/>
<line x1="400.74" y1="399.24" x2="398.8" y2="393.9" stroke="#e22222" stroke-width="2.3" stroke-linecap="butt"/>
<line x1="404.5" y1="409.6" x2="400.74" y2="420.23" stroke="#3c9ad6" stroke-width="2.3" stroke-linecap="butt"/>
<line x1="400.74" y1="420.23" x2="398.8" y2="425.7" stroke="#e22222" stroke-width="2.3" stroke-linecap="butt"/>
<line x1="404.5" y1="409.6" x2="408.72" y2="399.63" stroke="#8cc4ea" stroke-width="1.6" stroke-linecap="butt"/>
<line x1="408.72" y1="399.63" x2="410.9" y2="394.5" stroke="#f0a0a0" stroke-width="1.6" stroke-linecap="butt"/>
<line x1="404.5" y1="409.6" x2="408.72" y2="420.56" stroke="#8cc4ea" stroke-width="1.6" stroke-linecap="butt"/>
<line x1="408.72" y1="420.56" x2="410.9" y2="426.2" stroke="#f0a0a0" stroke-width="1.6" stroke-linecap="butt"/>
<line x1="404.5" y1="409.6" x2="415.26" y2="399.24" stroke="#3c9ad6" stroke-width="2.3" stroke-linecap="butt"/>
<line x1="415.26" y1="399.24" x2="420.8" y2="393.9" stroke="#e22222" stroke-width="2.3" stroke-linecap="butt"/>
<line x1="404.5" y1="409.6" x2="415.26" y2="420.23" stroke="#3c9ad6" stroke-width="2.3" stroke-linecap="butt"/>
<line x1="415.26" y1="420.23" x2="420.8" y2="425.7" stroke="#e22222" stroke-width="2.3" stroke-linecap="butt"/>
<line x1="440.5" y1="409.6" x2="428.29" y2="399.24" stroke="#3c9ad6" stroke-width="2.3" stroke-linecap="butt"/>
<line x1="428.29" y1="399.24" x2="422" y2="393.9" stroke="#e22222" stroke-width="2.3" stroke-linecap="butt"/>
<line x1="440.5" y1="409.6" x2="428.29" y2="420.23" stroke="#3c9ad6" stroke-width="2.3" stroke-linecap="butt"/>
<line x1="428.29" y1="420.23" x2="422" y2="425.7" stroke="#e22222" stroke-width="2.3" stroke-linecap="butt"/>
<line x1="440.5" y1="409.6" x2="436.08" y2="399.24" stroke="#3c9ad6" stroke-width="2.3" stroke-linecap="butt"/>
<line x1="436.08" y1="399.24" x2="433.8" y2="393.9" stroke="#e22222" stroke-width="2.3" stroke-linecap="butt"/>
<line x1="440.5" y1="409.6" x2="436.08" y2="420.23" stroke="#3c9ad6" stroke-width="2.3" stroke-linecap="butt"/>
<line x1="436.08" y1="420.23" x2="433.8" y2="425.7" stroke="#e22222" stroke-width="2.3" stroke-linecap="butt"/>
<line x1="440.5" y1="409.6" x2="443.47" y2="399.24" stroke="#3c9ad6" stroke-width="2.3" stroke-linecap="butt"/>
<line x1="443.47" y1="399.24" x2="445" y2="393.9" stroke="#e22222" stroke-width="2.3" stroke-linecap="butt"/>
<line x1="440.5" y1="409.6" x2="443.47" y2="420.23" stroke="#3c9ad6" stroke-width="2.3" stroke-linecap="butt"/>
<line x1="443.47" y1="420.23" x2="445" y2="425.7" stroke="#e22222" stroke-width="2.3" stroke-linecap="butt"/>
<line x1="440.5" y1="409.6" x2="454.29" y2="399.24" stroke="#3c9ad6" stroke-width="2.3" stroke-linecap="butt"/>
<line x1="454.29" y1="399.24" x2="461.4" y2="393.9" stroke="#e22222" stroke-width="2.3" stroke-linecap="butt"/>
<line x1="440.5" y1="409.6" x2="454.29" y2="420.23" stroke="#3c9ad6" stroke-width="2.3" stroke-linecap="butt"/>
<line x1="454.29" y1="420.23" x2="461.4" y2="425.7" stroke="#e22222" stroke-width="2.3" stroke-linecap="butt"/>
<line x1="334.6" y1="462.1" x2="310.38" y2="450.62" stroke="#3c9ad6" stroke-width="2.2" stroke-linecap="butt" stroke-dasharray="0.9 0.7"/>
<line x1="310.38" y1="450.62" x2="300" y2="445.7" stroke="#e22222" stroke-width="2.2" stroke-linecap="butt" stroke-dasharray="0.9 0.7"/>
<line x1="334.6" y1="462.1" x2="328.65" y2="450.62" stroke="#3c9ad6" stroke-width="2.2" stroke-linecap="butt"/>
<line x1="328.65" y1="450.62" x2="326.1" y2="445.7" stroke="#e22222" stroke-width="2.2" stroke-linecap="butt"/>
<line x1="334.6" y1="462.1" x2="340.48" y2="450.62" stroke="#3c9ad6" stroke-width="2.2" stroke-linecap="butt"/>
<line x1="340.48" y1="450.62" x2="343" y2="445.7" stroke="#e22222" stroke-width="2.2" stroke-linecap="butt"/>
<line x1="334.6" y1="462.1" x2="344.05" y2="450.62" stroke="#3c9ad6" stroke-width="2.2" stroke-linecap="butt" stroke-dasharray="0.9 0.7"/>
<line x1="344.05" y1="450.62" x2="348.1" y2="445.7" stroke="#e22222" stroke-width="2.2" stroke-linecap="butt" stroke-dasharray="0.9 0.7"/>
<line x1="334.6" y1="462.1" x2="349.72" y2="450.62" stroke="#3c9ad6" stroke-width="2.2" stroke-linecap="butt" stroke-dasharray="0.9 0.7"/>
<line x1="349.72" y1="450.62" x2="356.2" y2="445.7" stroke="#e22222" stroke-width="2.2" stroke-linecap="butt" stroke-dasharray="0.9 0.7"/>
<line x1="334.6" y1="462.1" x2="317.66" y2="473.65" stroke="#3c9ad6" stroke-width="2.2" stroke-linecap="butt" stroke-dasharray="0.9 0.7"/>
<line x1="317.66" y1="473.65" x2="310.4" y2="478.6" stroke="#e22222" stroke-width="2.2" stroke-linecap="butt" stroke-dasharray="0.9 0.7"/>
<line x1="334.6" y1="462.1" x2="320.81" y2="473.65" stroke="#3c9ad6" stroke-width="2.2" stroke-linecap="butt" stroke-dasharray="0.9 0.7"/>
<line x1="320.81" y1="473.65" x2="314.9" y2="478.6" stroke="#e22222" stroke-width="2.2" stroke-linecap="butt" stroke-dasharray="0.9 0.7"/>
<line x1="334.6" y1="462.1" x2="328.65" y2="473.65" stroke="#3c9ad6" stroke-width="2.2" stroke-linecap="butt"/>
<line x1="328.65" y1="473.65" x2="326.1" y2="478.6" stroke="#e22222" stroke-width="2.2" stroke-linecap="butt"/>
<line x1="334.6" y1="462.1" x2="340.13" y2="473.65" stroke="#3c9ad6" stroke-width="2.2" stroke-linecap="butt"/>
<line x1="340.13" y1="473.65" x2="342.5" y2="478.6" stroke="#e22222" stroke-width="2.2" stroke-linecap="butt"/>
<line x1="334.6" y1="462.1" x2="344.05" y2="473.65" stroke="#3c9ad6" stroke-width="2.2" stroke-linecap="butt" stroke-dasharray="0.9 0.7"/>
<line x1="344.05" y1="473.65" x2="348.1" y2="478.6" stroke="#e22222" stroke-width="2.2" stroke-linecap="butt" stroke-dasharray="0.9 0.7"/>
<line x1="334.6" y1="462.1" x2="346.64" y2="473.65" stroke="#3c9ad6" stroke-width="2.2" stroke-linecap="butt" stroke-dasharray="0.9 0.7"/>
<line x1="346.64" y1="473.65" x2="351.8" y2="478.6" stroke="#e22222" stroke-width="2.2" stroke-linecap="butt" stroke-dasharray="0.9 0.7"/>
<line x1="334.6" y1="462.1" x2="349.72" y2="473.65" stroke="#3c9ad6" stroke-width="2.2" stroke-linecap="butt" stroke-dasharray="0.9 0.7"/>
<line x1="349.72" y1="473.65" x2="356.2" y2="478.6" stroke="#e22222" stroke-width="2.2" stroke-linecap="butt" stroke-dasharray="0.9 0.7"/>
<line x1="364.7" y1="462.1" x2="349.51" y2="450.62" stroke="#3c9ad6" stroke-width="2.2" stroke-linecap="butt" stroke-dasharray="0.9 0.7"/>
<line x1="349.51" y1="450.62" x2="343" y2="445.7" stroke="#e22222" stroke-width="2.2" stroke-linecap="butt" stroke-dasharray="0.9 0.7"/>
<line x1="364.7" y1="462.1" x2="353.08" y2="450.62" stroke="#3c9ad6" stroke-width="2.2" stroke-linecap="butt" stroke-dasharray="0.9 0.7"/>
<line x1="353.08" y1="450.62" x2="348.1" y2="445.7" stroke="#e22222" stroke-width="2.2" stroke-linecap="butt" stroke-dasharray="0.9 0.7"/>
<line x1="364.7" y1="462.1" x2="358.75" y2="450.62" stroke="#3c9ad6" stroke-width="2.2" stroke-linecap="butt"/>
<line x1="358.75" y1="450.62" x2="356.2" y2="445.7" stroke="#e22222" stroke-width="2.2" stroke-linecap="butt"/>
<line x1="364.7" y1="462.1" x2="370.93" y2="450.62" stroke="#3c9ad6" stroke-width="2.2" stroke-linecap="butt"/>
<line x1="370.93" y1="450.62" x2="373.6" y2="445.7" stroke="#e22222" stroke-width="2.2" stroke-linecap="butt"/>
<line x1="364.7" y1="462.1" x2="389.2" y2="450.62" stroke="#3c9ad6" stroke-width="2.2" stroke-linecap="butt" stroke-dasharray="0.9 0.7"/>
<line x1="389.2" y1="450.62" x2="399.7" y2="445.7" stroke="#e22222" stroke-width="2.2" stroke-linecap="butt" stroke-dasharray="0.9 0.7"/>
<line x1="364.7" y1="462.1" x2="349.16" y2="473.65" stroke="#3c9ad6" stroke-width="2.2" stroke-linecap="butt" stroke-dasharray="0.9 0.7"/>
<line x1="349.16" y1="473.65" x2="342.5" y2="478.6" stroke="#e22222" stroke-width="2.2" stroke-linecap="butt" stroke-dasharray="0.9 0.7"/>
<line x1="364.7" y1="462.1" x2="353.08" y2="473.65" stroke="#3c9ad6" stroke-width="2.2" stroke-linecap="butt" stroke-dasharray="0.9 0.7"/>
<line x1="353.08" y1="473.65" x2="348.1" y2="478.6" stroke="#e22222" stroke-width="2.2" stroke-linecap="butt" stroke-dasharray="0.9 0.7"/>
<line x1="364.7" y1="462.1" x2="355.67" y2="473.65" stroke="#3c9ad6" stroke-width="2.2" stroke-linecap="butt" stroke-dasharray="0.9 0.7"/>
<line x1="355.67" y1="473.65" x2="351.8" y2="478.6" stroke="#e22222" stroke-width="2.2" stroke-linecap="butt" stroke-dasharray="0.9 0.7"/>
<line x1="364.7" y1="462.1" x2="358.75" y2="473.65" stroke="#3c9ad6" stroke-width="2.2" stroke-linecap="butt"/>
<line x1="358.75" y1="473.65" x2="356.2" y2="478.6" stroke="#e22222" stroke-width="2.2" stroke-linecap="butt"/>
<line x1="364.7" y1="462.1" x2="370.3" y2="473.65" stroke="#3c9ad6" stroke-width="2.2" stroke-linecap="butt"/>
<line x1="370.3" y1="473.65" x2="372.7" y2="478.6" stroke="#e22222" stroke-width="2.2" stroke-linecap="butt"/>
<line x1="364.7" y1="462.1" x2="378.21" y2="473.65" stroke="#3c9ad6" stroke-width="2.2" stroke-linecap="butt" stroke-dasharray="0.9 0.7"/>
<line x1="378.21" y1="473.65" x2="384" y2="478.6" stroke="#e22222" stroke-width="2.2" stroke-linecap="butt" stroke-dasharray="0.9 0.7"/>
<line x1="364.7" y1="462.1" x2="381.36" y2="473.65" stroke="#3c9ad6" stroke-width="2.2" stroke-linecap="butt" stroke-dasharray="0.9 0.7"/>
<line x1="381.36" y1="473.65" x2="388.5" y2="478.6" stroke="#e22222" stroke-width="2.2" stroke-linecap="butt" stroke-dasharray="0.9 0.7"/>
<line x1="407.7" y1="462.1" x2="383.83" y2="450.62" stroke="#3c9ad6" stroke-width="2.2" stroke-linecap="butt" stroke-dasharray="0.9 0.7"/>
<line x1="383.83" y1="450.62" x2="373.6" y2="445.7" stroke="#e22222" stroke-width="2.2" stroke-linecap="butt" stroke-dasharray="0.9 0.7"/>
<line x1="407.7" y1="462.1" x2="402.1" y2="450.62" stroke="#3c9ad6" stroke-width="2.2" stroke-linecap="butt"/>
<line x1="402.1" y1="450.62" x2="399.7" y2="445.7" stroke="#e22222" stroke-width="2.2" stroke-linecap="butt"/>
<line x1="407.7" y1="462.1" x2="413.93" y2="450.62" stroke="#3c9ad6" stroke-width="2.2" stroke-linecap="butt"/>
<line x1="413.93" y1="450.62" x2="416.6" y2="445.7" stroke="#e22222" stroke-width="2.2" stroke-linecap="butt"/>
<line x1="407.7" y1="462.1" x2="417.5" y2="450.62" stroke="#3c9ad6" stroke-width="2.2" stroke-linecap="butt" stroke-dasharray="0.9 0.7"/>
<line x1="417.5" y1="450.62" x2="421.7" y2="445.7" stroke="#e22222" stroke-width="2.2" stroke-linecap="butt" stroke-dasharray="0.9 0.7"/>
<line x1="407.7" y1="462.1" x2="423.17" y2="450.62" stroke="#3c9ad6" stroke-width="2.2" stroke-linecap="butt" stroke-dasharray="0.9 0.7"/>
<line x1="423.17" y1="450.62" x2="429.8" y2="445.7" stroke="#e22222" stroke-width="2.2" stroke-linecap="butt" stroke-dasharray="0.9 0.7"/>
<line x1="407.7" y1="462.1" x2="391.11" y2="473.65" stroke="#3c9ad6" stroke-width="2.2" stroke-linecap="butt" stroke-dasharray="0.9 0.7"/>
<line x1="391.11" y1="473.65" x2="384" y2="478.6" stroke="#e22222" stroke-width="2.2" stroke-linecap="butt" stroke-dasharray="0.9 0.7"/>
<line x1="407.7" y1="462.1" x2="394.26" y2="473.65" stroke="#3c9ad6" stroke-width="2.2" stroke-linecap="butt" stroke-dasharray="0.9 0.7"/>
<line x1="394.26" y1="473.65" x2="388.5" y2="478.6" stroke="#e22222" stroke-width="2.2" stroke-linecap="butt" stroke-dasharray="0.9 0.7"/>
<line x1="407.7" y1="462.1" x2="402.1" y2="473.65" stroke="#3c9ad6" stroke-width="2.2" stroke-linecap="butt"/>
<line x1="402.1" y1="473.65" x2="399.7" y2="478.6" stroke="#e22222" stroke-width="2.2" stroke-linecap="butt"/>
<line x1="407.7" y1="462.1" x2="413.58" y2="473.65" stroke="#3c9ad6" stroke-width="2.2" stroke-linecap="butt"/>
<line x1="413.58" y1="473.65" x2="416.1" y2="478.6" stroke="#e22222" stroke-width="2.2" stroke-linecap="butt"/>
<line x1="407.7" y1="462.1" x2="417.5" y2="473.65" stroke="#3c9ad6" stroke-width="2.2" stroke-linecap="butt" stroke-dasharray="0.9 0.7"/>
<line x1="417.5" y1="473.65" x2="421.7" y2="478.6" stroke="#e22222" stroke-width="2.2" stroke-linecap="butt" stroke-dasharray="0.9 0.7"/>
<line x1="407.7" y1="462.1" x2="420.09" y2="473.65" stroke="#3c9ad6" stroke-width="2.2" stroke-linecap="butt" stroke-dasharray="0.9 0.7"/>
<line x1="420.09" y1="473.65" x2="425.4" y2="478.6" stroke="#e22222" stroke-width="2.2" stroke-linecap="butt" stroke-dasharray="0.9 0.7"/>
<line x1="407.7" y1="462.1" x2="423.17" y2="473.65" stroke="#3c9ad6" stroke-width="2.2" stroke-linecap="butt" stroke-dasharray="0.9 0.7"/>
<line x1="423.17" y1="473.65" x2="429.8" y2="478.6" stroke="#e22222" stroke-width="2.2" stroke-linecap="butt" stroke-dasharray="0.9 0.7"/>
<line x1="438.2" y1="462.1" x2="423.08" y2="450.62" stroke="#3c9ad6" stroke-width="2.2" stroke-linecap="butt" stroke-dasharray="0.9 0.7"/>
<line x1="423.08" y1="450.62" x2="416.6" y2="445.7" stroke="#e22222" stroke-width="2.2" stroke-linecap="butt" stroke-dasharray="0.9 0.7"/>
<line x1="438.2" y1="462.1" x2="426.65" y2="450.62" stroke="#3c9ad6" stroke-width="2.2" stroke-linecap="butt" stroke-dasharray="0.9 0.7"/>
<line x1="426.65" y1="450.62" x2="421.7" y2="445.7" stroke="#e22222" stroke-width="2.2" stroke-linecap="butt" stroke-dasharray="0.9 0.7"/>
<line x1="438.2" y1="462.1" x2="432.32" y2="450.62" stroke="#3c9ad6" stroke-width="2.2" stroke-linecap="butt"/>
<line x1="432.32" y1="450.62" x2="429.8" y2="445.7" stroke="#e22222" stroke-width="2.2" stroke-linecap="butt"/>
<line x1="438.2" y1="462.1" x2="444.5" y2="450.62" stroke="#3c9ad6" stroke-width="2.2" stroke-linecap="butt"/>
<line x1="444.5" y1="450.62" x2="447.2" y2="445.7" stroke="#e22222" stroke-width="2.2" stroke-linecap="butt"/>
<line x1="438.2" y1="462.1" x2="462.77" y2="450.62" stroke="#3c9ad6" stroke-width="2.2" stroke-linecap="butt" stroke-dasharray="0.9 0.7"/>
<line x1="462.77" y1="450.62" x2="473.3" y2="445.7" stroke="#e22222" stroke-width="2.2" stroke-linecap="butt" stroke-dasharray="0.9 0.7"/>
<line x1="438.2" y1="462.1" x2="422.73" y2="473.65" stroke="#3c9ad6" stroke-width="2.2" stroke-linecap="butt" stroke-dasharray="0.9 0.7"/>
<line x1="422.73" y1="473.65" x2="416.1" y2="478.6" stroke="#e22222" stroke-width="2.2" stroke-linecap="butt" stroke-dasharray="0.9 0.7"/>
<line x1="438.2" y1="462.1" x2="426.65" y2="473.65" stroke="#3c9ad6" stroke-width="2.2" stroke-linecap="butt" stroke-dasharray="0.9 0.7"/>
<line x1="426.65" y1="473.65" x2="421.7" y2="478.6" stroke="#e22222" stroke-width="2.2" stroke-linecap="butt" stroke-dasharray="0.9 0.7"/>
<line x1="438.2" y1="462.1" x2="429.24" y2="473.65" stroke="#3c9ad6" stroke-width="2.2" stroke-linecap="butt" stroke-dasharray="0.9 0.7"/>
<line x1="429.24" y1="473.65" x2="425.4" y2="478.6" stroke="#e22222" stroke-width="2.2" stroke-linecap="butt" stroke-dasharray="0.9 0.7"/>
<line x1="438.2" y1="462.1" x2="432.32" y2="473.65" stroke="#3c9ad6" stroke-width="2.2" stroke-linecap="butt"/>
<line x1="432.32" y1="473.65" x2="429.8" y2="478.6" stroke="#e22222" stroke-width="2.2" stroke-linecap="butt"/>
<line x1="438.2" y1="462.1" x2="443.87" y2="473.65" stroke="#3c9ad6" stroke-width="2.2" stroke-linecap="butt"/>
<line x1="443.87" y1="473.65" x2="446.3" y2="478.6" stroke="#e22222" stroke-width="2.2" stroke-linecap="butt"/>
<line x1="438.2" y1="462.1" x2="451.78" y2="473.65" stroke="#3c9ad6" stroke-width="2.2" stroke-linecap="butt" stroke-dasharray="0.9 0.7"/>
<line x1="451.78" y1="473.65" x2="457.6" y2="478.6" stroke="#e22222" stroke-width="2.2" stroke-linecap="butt" stroke-dasharray="0.9 0.7"/>
<line x1="438.2" y1="462.1" x2="454.93" y2="473.65" stroke="#3c9ad6" stroke-width="2.2" stroke-linecap="butt" stroke-dasharray="0.9 0.7"/>
<line x1="454.93" y1="473.65" x2="462.1" y2="478.6" stroke="#e22222" stroke-width="2.2" stroke-linecap="butt" stroke-dasharray="0.9 0.7"/>
<polygon points="306,381 297.2,393.6 324.5,393.6" fill="#d98552" stroke="none" stroke-width="1"/>
<polygon points="297.2,393.6 306,381 303,393.6" fill="#c06a3a" stroke="none" stroke-width="1"/>
<polygon points="302,373.8 326.1,373.8 314.1,393.6" fill="#e478e2" stroke="none" stroke-width="1"/>
<polygon points="314.1,378.8 326.1,373.8 314.1,393.6" fill="#d868d6" stroke="none" stroke-width="1" opacity="0.55"/>
<polygon points="326.6,373.8 347.8,373.8 347.8,393.6 326.6,393.6" fill="#b8632f" stroke="none" stroke-width="1"/>
<line x1="326.6" y1="393.6" x2="347.8" y2="373.8" stroke="#d8a07a" stroke-width="0.5"/>
<circle cx="337.2" cy="383.3" r="4.6" fill="#c56e34" stroke="none" stroke-width="0" opacity="0.9"/>
<polygon points="356.2,373.8 373.5,373.8 373.5,393.6 368.7,392.3" fill="#d9946a" stroke="none" stroke-width="1"/>
<line x1="356.2" y1="373.8" x2="373.5" y2="393.6" stroke="#e8c0a0" stroke-width="0.5"/>
<polygon points="356.2,373.8 349.4,392.3 368.7,392.3" fill="#dc6cd6" stroke="none" stroke-width="1"/>
<polygon points="356.2,373.8 349.4,392.3 355.5,392.3" fill="#c85cc4" stroke="none" stroke-width="1" opacity="0.6"/>
<polygon points="379.6,381 370.8,393.6 398.1,393.6" fill="#d98552" stroke="none" stroke-width="1"/>
<polygon points="370.8,393.6 379.6,381 376.6,393.6" fill="#c06a3a" stroke="none" stroke-width="1"/>
<polygon points="375.6,373.8 399.7,373.8 387.7,393.6" fill="#e478e2" stroke="none" stroke-width="1"/>
<polygon points="387.7,378.8 399.7,373.8 387.7,393.6" fill="#d868d6" stroke="none" stroke-width="1" opacity="0.55"/>
<polygon points="400.2,373.8 421.4,373.8 421.4,393.6 400.2,393.6" fill="#b8632f" stroke="none" stroke-width="1"/>
<line x1="400.2" y1="393.6" x2="421.4" y2="373.8" stroke="#d8a07a" stroke-width="0.5"/>
<circle cx="410.8" cy="383.3" r="4.6" fill="#c56e34" stroke="none" stroke-width="0" opacity="0.9"/>
<polygon points="429.8,373.8 447.1,373.8 447.1,393.6 442.3,392.3" fill="#d9946a" stroke="none" stroke-width="1"/>
<line x1="429.8" y1="373.8" x2="447.1" y2="393.6" stroke="#e8c0a0" stroke-width="0.5"/>
<polygon points="429.8,373.8 423,392.3 442.3,392.3" fill="#dc6cd6" stroke="none" stroke-width="1"/>
<polygon points="429.8,373.8 423,392.3 429.1,392.3" fill="#c85cc4" stroke="none" stroke-width="1" opacity="0.6"/>
<polygon points="453.2,381 444.4,393.6 471.7,393.6" fill="#d98552" stroke="none" stroke-width="1"/>
<polygon points="444.4,393.6 453.2,381 450.2,393.6" fill="#c06a3a" stroke="none" stroke-width="1"/>
<polygon points="449.2,373.8 473.3,373.8 461.3,393.6" fill="#e478e2" stroke="none" stroke-width="1"/>
<polygon points="461.3,378.8 473.3,373.8 461.3,393.6" fill="#d868d6" stroke="none" stroke-width="1" opacity="0.55"/>
<polygon points="461.2,374.8 448.7,393.6 473.7,393.6" fill="#d27a44" stroke="none" stroke-width="1"/>
<polygon points="461.2,374.8 448.7,393.6 456.2,393.6" fill="#be6634" stroke="none" stroke-width="1"/>
<circle cx="461.2" cy="387.1" r="3.6" fill="#dc8850" stroke="none" stroke-width="0" opacity="0.8"/>
<polygon points="306,438.3 297.2,425.7 324.5,425.7" fill="#d98552" stroke="none" stroke-width="1"/>
<polygon points="297.2,425.7 306,438.3 303,425.7" fill="#c06a3a" stroke="none" stroke-width="1"/>
<polygon points="302,445.5 326.1,445.5 314.1,425.7" fill="#e478e2" stroke="none" stroke-width="1"/>
<polygon points="314.1,440.5 326.1,445.5 314.1,425.7" fill="#d868d6" stroke="none" stroke-width="1" opacity="0.55"/>
<polygon points="326.6,445.5 347.8,445.5 347.8,425.7 326.6,425.7" fill="#b8632f" stroke="none" stroke-width="1"/>
<line x1="326.6" y1="425.7" x2="347.8" y2="445.5" stroke="#d8a07a" stroke-width="0.5"/>
<circle cx="337.2" cy="436" r="4.6" fill="#c56e34" stroke="none" stroke-width="0" opacity="0.9"/>
<polygon points="356.2,445.5 373.5,445.5 373.5,425.7 368.7,427" fill="#d9946a" stroke="none" stroke-width="1"/>
<line x1="356.2" y1="445.5" x2="373.5" y2="425.7" stroke="#e8c0a0" stroke-width="0.5"/>
<polygon points="356.2,445.5 349.4,427 368.7,427" fill="#dc6cd6" stroke="none" stroke-width="1"/>
<polygon points="356.2,445.5 349.4,427 355.5,427" fill="#c85cc4" stroke="none" stroke-width="1" opacity="0.6"/>
<polygon points="379.6,438.3 370.8,425.7 398.1,425.7" fill="#d98552" stroke="none" stroke-width="1"/>
<polygon points="370.8,425.7 379.6,438.3 376.6,425.7" fill="#c06a3a" stroke="none" stroke-width="1"/>
<polygon points="375.6,445.5 399.7,445.5 387.7,425.7" fill="#e478e2" stroke="none" stroke-width="1"/>
<polygon points="387.7,440.5 399.7,445.5 387.7,425.7" fill="#d868d6" stroke="none" stroke-width="1" opacity="0.55"/>
<polygon points="400.2,445.5 421.4,445.5 421.4,425.7 400.2,425.7" fill="#b8632f" stroke="none" stroke-width="1"/>
<line x1="400.2" y1="425.7" x2="421.4" y2="445.5" stroke="#d8a07a" stroke-width="0.5"/>
<circle cx="410.8" cy="436" r="4.6" fill="#c56e34" stroke="none" stroke-width="0" opacity="0.9"/>
<polygon points="429.8,445.5 447.1,445.5 447.1,425.7 442.3,427" fill="#d9946a" stroke="none" stroke-width="1"/>
<line x1="429.8" y1="445.5" x2="447.1" y2="425.7" stroke="#e8c0a0" stroke-width="0.5"/>
<polygon points="429.8,445.5 423,427 442.3,427" fill="#dc6cd6" stroke="none" stroke-width="1"/>
<polygon points="429.8,445.5 423,427 429.1,427" fill="#c85cc4" stroke="none" stroke-width="1" opacity="0.6"/>
<polygon points="453.2,438.3 444.4,425.7 471.7,425.7" fill="#d98552" stroke="none" stroke-width="1"/>
<polygon points="444.4,425.7 453.2,438.3 450.2,425.7" fill="#c06a3a" stroke="none" stroke-width="1"/>
<polygon points="449.2,445.5 473.3,445.5 461.3,425.7" fill="#e478e2" stroke="none" stroke-width="1"/>
<polygon points="461.3,440.5 473.3,445.5 461.3,425.7" fill="#d868d6" stroke="none" stroke-width="1" opacity="0.55"/>
<polygon points="461.2,444.5 448.7,425.7 473.7,425.7" fill="#d27a44" stroke="none" stroke-width="1"/>
<polygon points="461.2,444.5 448.7,425.7 456.2,425.7" fill="#be6634" stroke="none" stroke-width="1"/>
<circle cx="461.2" cy="432.2" r="3.6" fill="#dc8850" stroke="none" stroke-width="0" opacity="0.8"/>
<circle cx="331.8" cy="409.6" r="8.8" fill="url(#gK)" stroke="#1a5c9c" stroke-width="0.4"/>
<circle cx="366.6" cy="409.6" r="8.8" fill="url(#gK)" stroke="#1a5c9c" stroke-width="0.4"/>
<circle cx="404.5" cy="409.6" r="8.8" fill="url(#gK)" stroke="#1a5c9c" stroke-width="0.4"/>
<circle cx="440.5" cy="409.6" r="8.8" fill="url(#gK)" stroke="#1a5c9c" stroke-width="0.4"/>
<circle cx="334.6" cy="462.1" r="8.8" fill="url(#gK)" stroke="#1a5c9c" stroke-width="0.4"/>
<circle cx="364.7" cy="462.1" r="8.8" fill="url(#gK)" stroke="#1a5c9c" stroke-width="0.4"/>
<circle cx="407.7" cy="462.1" r="8.8" fill="url(#gK)" stroke="#1a5c9c" stroke-width="0.4"/>
<circle cx="438.2" cy="462.1" r="8.8" fill="url(#gK)" stroke="#1a5c9c" stroke-width="0.4"/>
<circle cx="300.4" cy="372.7" r="2.5" fill="url(#gO)" stroke="#a00a0a" stroke-width="0.35"/>
<circle cx="310.6" cy="372.7" r="2.5" fill="url(#gO)" stroke="#a00a0a" stroke-width="0.35"/>
<circle cx="314.9" cy="372.7" r="2.5" fill="url(#gO)" stroke="#a00a0a" stroke-width="0.35"/>
<circle cx="326.5" cy="372.7" r="2.5" fill="url(#gO)" stroke="#a00a0a" stroke-width="0.35"/>
<circle cx="342.5" cy="372.7" r="2.5" fill="url(#gO)" stroke="#a00a0a" stroke-width="0.35"/>
<circle cx="348.1" cy="372.7" r="2.5" fill="url(#gO)" stroke="#a00a0a" stroke-width="0.35"/>
<circle cx="356.2" cy="372.7" r="2.5" fill="url(#gO)" stroke="#a00a0a" stroke-width="0.35"/>
<circle cx="374" cy="372.7" r="2.5" fill="url(#gO)" stroke="#a00a0a" stroke-width="0.35"/>
<circle cx="384.2" cy="372.7" r="2.5" fill="url(#gO)" stroke="#a00a0a" stroke-width="0.35"/>
<circle cx="388.5" cy="372.7" r="2.5" fill="url(#gO)" stroke="#a00a0a" stroke-width="0.35"/>
<circle cx="400.1" cy="372.7" r="2.5" fill="url(#gO)" stroke="#a00a0a" stroke-width="0.35"/>
<circle cx="416.1" cy="372.7" r="2.5" fill="url(#gO)" stroke="#a00a0a" stroke-width="0.35"/>
<circle cx="421.7" cy="372.7" r="2.5" fill="url(#gO)" stroke="#a00a0a" stroke-width="0.35"/>
<circle cx="429.8" cy="372.7" r="2.5" fill="url(#gO)" stroke="#a00a0a" stroke-width="0.35"/>
<circle cx="447.6" cy="372.7" r="2.5" fill="url(#gO)" stroke="#a00a0a" stroke-width="0.35"/>
<circle cx="457.8" cy="372.7" r="2.5" fill="url(#gO)" stroke="#a00a0a" stroke-width="0.35"/>
<circle cx="462.1" cy="372.7" r="2.5" fill="url(#gO)" stroke="#a00a0a" stroke-width="0.35"/>
<circle cx="473.7" cy="372.7" r="2.5" fill="url(#gO)" stroke="#a00a0a" stroke-width="0.35"/>
<circle cx="489.7" cy="372.7" r="2.5" fill="url(#gO)" stroke="#a00a0a" stroke-width="0.35"/>
<circle cx="495.3" cy="372.7" r="2.5" fill="url(#gO)" stroke="#a00a0a" stroke-width="0.35"/>
<circle cx="503.4" cy="372.7" r="2.5" fill="url(#gO)" stroke="#a00a0a" stroke-width="0.35"/>
<circle cx="297.2" cy="393.9" r="2.5" fill="url(#gO)" stroke="#a00a0a" stroke-width="0.35"/>
<circle cx="297.2" cy="425.7" r="2.5" fill="url(#gO)" stroke="#a00a0a" stroke-width="0.35"/>
<circle cx="314.1" cy="393.9" r="2.5" fill="url(#gO)" stroke="#a00a0a" stroke-width="0.35"/>
<circle cx="314.1" cy="425.7" r="2.5" fill="url(#gO)" stroke="#a00a0a" stroke-width="0.35"/>
<circle cx="326.1" cy="393.9" r="2.5" fill="url(#gO)" stroke="#a00a0a" stroke-width="0.35"/>
<circle cx="326.1" cy="425.7" r="2.5" fill="url(#gO)" stroke="#a00a0a" stroke-width="0.35"/>
<circle cx="348.1" cy="393.9" r="2.5" fill="url(#gO)" stroke="#a00a0a" stroke-width="0.35"/>
<circle cx="348.1" cy="425.7" r="2.5" fill="url(#gO)" stroke="#a00a0a" stroke-width="0.35"/>
<circle cx="359.9" cy="393.9" r="2.5" fill="url(#gO)" stroke="#a00a0a" stroke-width="0.35"/>
<circle cx="359.9" cy="425.7" r="2.5" fill="url(#gO)" stroke="#a00a0a" stroke-width="0.35"/>
<circle cx="371.1" cy="393.9" r="2.5" fill="url(#gO)" stroke="#a00a0a" stroke-width="0.35"/>
<circle cx="371.1" cy="425.7" r="2.5" fill="url(#gO)" stroke="#a00a0a" stroke-width="0.35"/>
<circle cx="387.7" cy="393.9" r="2.5" fill="url(#gO)" stroke="#a00a0a" stroke-width="0.35"/>
<circle cx="387.7" cy="425.7" r="2.5" fill="url(#gO)" stroke="#a00a0a" stroke-width="0.35"/>
<circle cx="399.7" cy="393.9" r="2.5" fill="url(#gO)" stroke="#a00a0a" stroke-width="0.35"/>
<circle cx="399.7" cy="425.7" r="2.5" fill="url(#gO)" stroke="#a00a0a" stroke-width="0.35"/>
<circle cx="421.7" cy="393.9" r="2.5" fill="url(#gO)" stroke="#a00a0a" stroke-width="0.35"/>
<circle cx="421.7" cy="425.7" r="2.5" fill="url(#gO)" stroke="#a00a0a" stroke-width="0.35"/>
<circle cx="433.5" cy="393.9" r="2.5" fill="url(#gO)" stroke="#a00a0a" stroke-width="0.35"/>
<circle cx="433.5" cy="425.7" r="2.5" fill="url(#gO)" stroke="#a00a0a" stroke-width="0.35"/>
<circle cx="444.7" cy="393.9" r="2.5" fill="url(#gO)" stroke="#a00a0a" stroke-width="0.35"/>
<circle cx="444.7" cy="425.7" r="2.5" fill="url(#gO)" stroke="#a00a0a" stroke-width="0.35"/>
<circle cx="461.3" cy="393.9" r="2.5" fill="url(#gO)" stroke="#a00a0a" stroke-width="0.35"/>
<circle cx="461.3" cy="425.7" r="2.5" fill="url(#gO)" stroke="#a00a0a" stroke-width="0.35"/>
<circle cx="473.3" cy="393.9" r="2.5" fill="url(#gO)" stroke="#a00a0a" stroke-width="0.35"/>
<circle cx="473.3" cy="425.7" r="2.5" fill="url(#gO)" stroke="#a00a0a" stroke-width="0.35"/>
<circle cx="495.3" cy="393.9" r="2.5" fill="url(#gO)" stroke="#a00a0a" stroke-width="0.35"/>
<circle cx="495.3" cy="425.7" r="2.5" fill="url(#gO)" stroke="#a00a0a" stroke-width="0.35"/>
<circle cx="507.1" cy="393.9" r="2.5" fill="url(#gO)" stroke="#a00a0a" stroke-width="0.35"/>
<circle cx="507.1" cy="425.7" r="2.5" fill="url(#gO)" stroke="#a00a0a" stroke-width="0.35"/>
<circle cx="518.3" cy="393.9" r="2.5" fill="url(#gO)" stroke="#a00a0a" stroke-width="0.35"/>
<circle cx="518.3" cy="425.7" r="2.5" fill="url(#gO)" stroke="#a00a0a" stroke-width="0.35"/>
<circle cx="310.9" cy="394.5" r="1.9" fill="url(#gO)" stroke="#a00a0a" stroke-width="0.35" opacity="0.55"/>
<circle cx="310.9" cy="426.2" r="1.9" fill="url(#gO)" stroke="#a00a0a" stroke-width="0.35" opacity="0.55"/>
<circle cx="338.2" cy="394.5" r="1.9" fill="url(#gO)" stroke="#a00a0a" stroke-width="0.35" opacity="0.55"/>
<circle cx="338.2" cy="426.2" r="1.9" fill="url(#gO)" stroke="#a00a0a" stroke-width="0.35" opacity="0.55"/>
<circle cx="384.5" cy="394.5" r="1.9" fill="url(#gO)" stroke="#a00a0a" stroke-width="0.35" opacity="0.55"/>
<circle cx="384.5" cy="426.2" r="1.9" fill="url(#gO)" stroke="#a00a0a" stroke-width="0.35" opacity="0.55"/>
<circle cx="411.8" cy="394.5" r="1.9" fill="url(#gO)" stroke="#a00a0a" stroke-width="0.35" opacity="0.55"/>
<circle cx="411.8" cy="426.2" r="1.9" fill="url(#gO)" stroke="#a00a0a" stroke-width="0.35" opacity="0.55"/>
<circle cx="458.1" cy="394.5" r="1.9" fill="url(#gO)" stroke="#a00a0a" stroke-width="0.35" opacity="0.55"/>
<circle cx="458.1" cy="426.2" r="1.9" fill="url(#gO)" stroke="#a00a0a" stroke-width="0.35" opacity="0.55"/>
<circle cx="485.4" cy="394.5" r="1.9" fill="url(#gO)" stroke="#a00a0a" stroke-width="0.35" opacity="0.55"/>
<circle cx="485.4" cy="426.2" r="1.9" fill="url(#gO)" stroke="#a00a0a" stroke-width="0.35" opacity="0.55"/>
<circle cx="300" cy="445.7" r="2.5" fill="url(#gO)" stroke="#a00a0a" stroke-width="0.35"/>
<circle cx="326.1" cy="445.7" r="2.5" fill="url(#gO)" stroke="#a00a0a" stroke-width="0.35"/>
<circle cx="343" cy="445.7" r="2.5" fill="url(#gO)" stroke="#a00a0a" stroke-width="0.35"/>
<circle cx="348.1" cy="445.7" r="2.5" fill="url(#gO)" stroke="#a00a0a" stroke-width="0.35"/>
<circle cx="356.2" cy="445.7" r="2.5" fill="url(#gO)" stroke="#a00a0a" stroke-width="0.35"/>
<circle cx="373.6" cy="445.7" r="2.5" fill="url(#gO)" stroke="#a00a0a" stroke-width="0.35"/>
<circle cx="399.7" cy="445.7" r="2.5" fill="url(#gO)" stroke="#a00a0a" stroke-width="0.35"/>
<circle cx="416.6" cy="445.7" r="2.5" fill="url(#gO)" stroke="#a00a0a" stroke-width="0.35"/>
<circle cx="421.7" cy="445.7" r="2.5" fill="url(#gO)" stroke="#a00a0a" stroke-width="0.35"/>
<circle cx="429.8" cy="445.7" r="2.5" fill="url(#gO)" stroke="#a00a0a" stroke-width="0.35"/>
<circle cx="447.2" cy="445.7" r="2.5" fill="url(#gO)" stroke="#a00a0a" stroke-width="0.35"/>
<circle cx="473.3" cy="445.7" r="2.5" fill="url(#gO)" stroke="#a00a0a" stroke-width="0.35"/>
<circle cx="490.2" cy="445.7" r="2.5" fill="url(#gO)" stroke="#a00a0a" stroke-width="0.35"/>
<circle cx="495.3" cy="445.7" r="2.5" fill="url(#gO)" stroke="#a00a0a" stroke-width="0.35"/>
<circle cx="503.4" cy="445.7" r="2.5" fill="url(#gO)" stroke="#a00a0a" stroke-width="0.35"/>
<circle cx="310.4" cy="478.6" r="2.5" fill="url(#gO)" stroke="#a00a0a" stroke-width="0.35"/>
<circle cx="314.9" cy="478.6" r="2.5" fill="url(#gO)" stroke="#a00a0a" stroke-width="0.35"/>
<circle cx="326.1" cy="478.6" r="2.5" fill="url(#gO)" stroke="#a00a0a" stroke-width="0.35"/>
<circle cx="342.5" cy="478.6" r="2.5" fill="url(#gO)" stroke="#a00a0a" stroke-width="0.35"/>
<circle cx="348.1" cy="478.6" r="2.5" fill="url(#gO)" stroke="#a00a0a" stroke-width="0.35"/>
<circle cx="351.8" cy="478.6" r="2.5" fill="url(#gO)" stroke="#a00a0a" stroke-width="0.35"/>
<circle cx="356.2" cy="478.6" r="2.5" fill="url(#gO)" stroke="#a00a0a" stroke-width="0.35"/>
<circle cx="372.7" cy="478.6" r="2.5" fill="url(#gO)" stroke="#a00a0a" stroke-width="0.35"/>
<circle cx="384" cy="478.6" r="2.5" fill="url(#gO)" stroke="#a00a0a" stroke-width="0.35"/>
<circle cx="388.5" cy="478.6" r="2.5" fill="url(#gO)" stroke="#a00a0a" stroke-width="0.35"/>
<circle cx="399.7" cy="478.6" r="2.5" fill="url(#gO)" stroke="#a00a0a" stroke-width="0.35"/>
<circle cx="416.1" cy="478.6" r="2.5" fill="url(#gO)" stroke="#a00a0a" stroke-width="0.35"/>
<circle cx="421.7" cy="478.6" r="2.5" fill="url(#gO)" stroke="#a00a0a" stroke-width="0.35"/>
<circle cx="425.4" cy="478.6" r="2.5" fill="url(#gO)" stroke="#a00a0a" stroke-width="0.35"/>
<circle cx="429.8" cy="478.6" r="2.5" fill="url(#gO)" stroke="#a00a0a" stroke-width="0.35"/>
<circle cx="446.3" cy="478.6" r="2.5" fill="url(#gO)" stroke="#a00a0a" stroke-width="0.35"/>
<circle cx="457.6" cy="478.6" r="2.5" fill="url(#gO)" stroke="#a00a0a" stroke-width="0.35"/>
<circle cx="462.1" cy="478.6" r="2.5" fill="url(#gO)" stroke="#a00a0a" stroke-width="0.35"/>
</g>
<line x1="271.1" y1="491" x2="271.1" y2="478.2" stroke="#1478d0" stroke-width="4.0"/>
<polygon points="271.1,469.2 275.1,478.7 267.1,478.7" fill="#1478d0" stroke="none" stroke-width="1"/>
<line x1="273.5" y1="493" x2="284.8" y2="493" stroke="#2e5e1e" stroke-width="3.3"/>
<polygon points="293.4,493 284.3,496.3 284.3,489.7" fill="#2e5e1e" stroke="none" stroke-width="1"/>
<circle cx="271.1" cy="493.2" r="3.8" fill="#c40000" stroke="#700" stroke-width="0.4"/>
<text x="268" y="466.7" font-size="11.0" text-anchor="start" fill="#000">c</text>
<text x="294.8" y="497" font-size="11.0" text-anchor="start" fill="#000">b</text>
<text x="268.4" y="496.2" font-size="9.0" text-anchor="start" fill="#100">a</text>
</g>
<polygon points="534.97,421.85 551.61,406.79 557.26,429.39" fill="#f2a8e6" stroke="none" stroke-width="1"/>
<circle cx="547.95" cy="419.34" r="3.2" fill="#ffffff" stroke="none" stroke-width="0" opacity="0.25"/>
<polygon points="557.26,429.39 578.91,435.67 561.96,450.73" fill="#ec86e0" stroke="none" stroke-width="1"/>
<circle cx="566.05" cy="438.59" r="3.2" fill="#ffffff" stroke="none" stroke-width="0" opacity="0.25"/>
<polygon points="602.77,424.05 619.72,408.36 625.37,430.33" fill="#f6c6ee" stroke="none" stroke-width="1"/>
<circle cx="615.95" cy="420.91" r="3.2" fill="#ffffff" stroke="none" stroke-width="0" opacity="0.25"/>
<polygon points="625.37,430.33 647.34,437.55 630.08,452.93" fill="#ec86e0" stroke="none" stroke-width="1"/>
<circle cx="634.26" cy="440.27" r="3.2" fill="#ffffff" stroke="none" stroke-width="0" opacity="0.25"/>
<polygon points="570.44,398.94 592.41,393.61 586.13,414.64" fill="#96489a" stroke="#7c3a80" stroke-width="0.4"/>
<line x1="581.42" y1="405.22" x2="570.44" y2="398.94" stroke="#c080c0" stroke-width="0.45"/>
<line x1="581.42" y1="405.22" x2="592.41" y2="393.61" stroke="#c080c0" stroke-width="0.45"/>
<line x1="581.42" y1="405.22" x2="586.13" y2="414.64" stroke="#c080c0" stroke-width="0.45"/>
<polygon points="529.64,437.55 545.33,453.87 522.73,459.52" fill="#96489a" stroke="#7c3a80" stroke-width="0.4"/>
<line x1="531.83" y1="452.93" x2="529.64" y2="437.55" stroke="#c080c0" stroke-width="0.45"/>
<line x1="531.83" y1="452.93" x2="545.33" y2="453.87" stroke="#c080c0" stroke-width="0.45"/>
<line x1="531.83" y1="452.93" x2="522.73" y2="459.52" stroke="#c080c0" stroke-width="0.45"/>
<polygon points="637.92,401.45 660.52,395.18 653.62,417.77" fill="#96489a" stroke="#7c3a80" stroke-width="0.4"/>
<line x1="649.85" y1="407.73" x2="637.92" y2="401.45" stroke="#c080c0" stroke-width="0.45"/>
<line x1="649.85" y1="407.73" x2="660.52" y2="395.18" stroke="#c080c0" stroke-width="0.45"/>
<line x1="649.85" y1="407.73" x2="653.62" y2="417.77" stroke="#c080c0" stroke-width="0.45"/>
<polygon points="597.12,439.12 612.81,456.07 590.84,461.72" fill="#96489a" stroke="#7c3a80" stroke-width="0.4"/>
<line x1="599.32" y1="454.81" x2="597.12" y2="439.12" stroke="#c080c0" stroke-width="0.45"/>
<line x1="599.32" y1="454.81" x2="612.81" y2="456.07" stroke="#c080c0" stroke-width="0.45"/>
<line x1="599.32" y1="454.81" x2="590.84" y2="461.72" stroke="#c080c0" stroke-width="0.45"/>
<polygon points="546.9,386.39 563.53,383.25 570.44,398.94 551.61,406.79" fill="#c2693a" stroke="#a85428" stroke-width="0.4"/>
<polygon points="546.9,386.39 563.53,383.25 558.12,393.84" fill="#cc7646" stroke="none" stroke-width="1"/>
<polygon points="570.44,398.94 551.61,406.79 558.12,393.84" fill="#b45e30" stroke="none" stroke-width="1"/>
<line x1="546.9" y1="386.39" x2="570.44" y2="398.94" stroke="#dca080" stroke-width="0.5"/>
<line x1="563.53" y1="383.25" x2="551.61" y2="406.79" stroke="#dca080" stroke-width="0.5"/>
<circle cx="558.12" cy="393.84" r="3.6" fill="#d07a40" stroke="none" stroke-width="0" opacity="0.6"/>
<polygon points="517.08,413.07 534.97,421.85 529.64,437.55 510.8,433.47" fill="#c2693a" stroke="#a85428" stroke-width="0.4"/>
<polygon points="517.08,413.07 534.97,421.85 523.12,426.48" fill="#cc7646" stroke="none" stroke-width="1"/>
<polygon points="529.64,437.55 510.8,433.47 523.12,426.48" fill="#b45e30" stroke="none" stroke-width="1"/>
<line x1="517.08" y1="413.07" x2="529.64" y2="437.55" stroke="#dca080" stroke-width="0.5"/>
<line x1="534.97" y1="421.85" x2="510.8" y2="433.47" stroke="#dca080" stroke-width="0.5"/>
<circle cx="523.12" cy="426.48" r="3.6" fill="#d07a40" stroke="none" stroke-width="0" opacity="0.6"/>
<polygon points="545.33,453.87 561.96,450.73 568.87,466.42 549.41,474.27" fill="#c2693a" stroke="#a85428" stroke-width="0.4"/>
<polygon points="545.33,453.87 561.96,450.73 556.39,461.32" fill="#cc7646" stroke="none" stroke-width="1"/>
<polygon points="568.87,466.42 549.41,474.27 556.39,461.32" fill="#b45e30" stroke="none" stroke-width="1"/>
<line x1="545.33" y1="453.87" x2="568.87" y2="466.42" stroke="#dca080" stroke-width="0.5"/>
<line x1="561.96" y1="450.73" x2="549.41" y2="474.27" stroke="#dca080" stroke-width="0.5"/>
<circle cx="556.39" cy="461.32" r="3.6" fill="#d07a40" stroke="none" stroke-width="0" opacity="0.6"/>
<polygon points="584.56,414.64 602.77,424.05 597.12,439.12 578.91,435.67" fill="#c2693a" stroke="#a85428" stroke-width="0.4"/>
<polygon points="584.56,414.64 602.77,424.05 590.84,428.37" fill="#cc7646" stroke="none" stroke-width="1"/>
<polygon points="597.12,439.12 578.91,435.67 590.84,428.37" fill="#b45e30" stroke="none" stroke-width="1"/>
<line x1="584.56" y1="414.64" x2="597.12" y2="439.12" stroke="#dca080" stroke-width="0.5"/>
<line x1="602.77" y1="424.05" x2="578.91" y2="435.67" stroke="#dca080" stroke-width="0.5"/>
<circle cx="590.84" cy="428.37" r="3.6" fill="#d07a40" stroke="none" stroke-width="0" opacity="0.6"/>
<polygon points="614.38,387.96 631.64,385.45 637.92,401.45 619.72,408.36" fill="#c2693a" stroke="#a85428" stroke-width="0.4"/>
<polygon points="614.38,387.96 631.64,385.45 625.92,395.8" fill="#cc7646" stroke="none" stroke-width="1"/>
<polygon points="637.92,401.45 619.72,408.36 625.92,395.8" fill="#b45e30" stroke="none" stroke-width="1"/>
<line x1="614.38" y1="387.96" x2="637.92" y2="401.45" stroke="#dca080" stroke-width="0.5"/>
<line x1="631.64" y1="385.45" x2="619.72" y2="408.36" stroke="#dca080" stroke-width="0.5"/>
<circle cx="625.92" cy="395.8" r="3.6" fill="#d07a40" stroke="none" stroke-width="0" opacity="0.6"/>
<polygon points="653.62,417.77 670.88,425.62 666.17,441.32 647.34,437.55" fill="#c2693a" stroke="#a85428" stroke-width="0.4"/>
<polygon points="653.62,417.77 670.88,425.62 659.5,430.56" fill="#cc7646" stroke="none" stroke-width="1"/>
<polygon points="666.17,441.32 647.34,437.55 659.5,430.56" fill="#b45e30" stroke="none" stroke-width="1"/>
<line x1="653.62" y1="417.77" x2="666.17" y2="441.32" stroke="#dca080" stroke-width="0.5"/>
<line x1="670.88" y1="425.62" x2="647.34" y2="437.55" stroke="#dca080" stroke-width="0.5"/>
<circle cx="659.5" cy="430.56" r="3.6" fill="#d07a40" stroke="none" stroke-width="0" opacity="0.6"/>
<polygon points="612.81,456.07 630.08,452.93 636.35,468.62 617.52,476.47" fill="#c2693a" stroke="#a85428" stroke-width="0.4"/>
<polygon points="612.81,456.07 630.08,452.93 624.19,463.52" fill="#cc7646" stroke="none" stroke-width="1"/>
<polygon points="636.35,468.62 617.52,476.47 624.19,463.52" fill="#b45e30" stroke="none" stroke-width="1"/>
<line x1="612.81" y1="456.07" x2="636.35" y2="468.62" stroke="#dca080" stroke-width="0.5"/>
<line x1="630.08" y1="452.93" x2="617.52" y2="476.47" stroke="#dca080" stroke-width="0.5"/>
<circle cx="624.19" cy="463.52" r="3.6" fill="#d07a40" stroke="none" stroke-width="0" opacity="0.6"/>
<circle cx="546.9" cy="386.39" r="2.4" fill="url(#gO)" stroke="#a00a0a" stroke-width="0.35"/>
<circle cx="563.53" cy="383.25" r="2.4" fill="url(#gO)" stroke="#a00a0a" stroke-width="0.35"/>
<circle cx="570.44" cy="398.94" r="2.4" fill="url(#gO)" stroke="#a00a0a" stroke-width="0.35"/>
<circle cx="551.61" cy="406.79" r="2.4" fill="url(#gO)" stroke="#a00a0a" stroke-width="0.35"/>
<circle cx="517.08" cy="413.07" r="2.4" fill="url(#gO)" stroke="#a00a0a" stroke-width="0.35"/>
<circle cx="534.97" cy="421.85" r="2.4" fill="url(#gO)" stroke="#a00a0a" stroke-width="0.35"/>
<circle cx="529.64" cy="437.55" r="2.4" fill="url(#gO)" stroke="#a00a0a" stroke-width="0.35"/>
<circle cx="510.8" cy="433.47" r="2.4" fill="url(#gO)" stroke="#a00a0a" stroke-width="0.35"/>
<circle cx="545.33" cy="453.87" r="2.4" fill="url(#gO)" stroke="#a00a0a" stroke-width="0.35"/>
<circle cx="561.96" cy="450.73" r="2.4" fill="url(#gO)" stroke="#a00a0a" stroke-width="0.35"/>
<circle cx="568.87" cy="466.42" r="2.4" fill="url(#gO)" stroke="#a00a0a" stroke-width="0.35"/>
<circle cx="549.41" cy="474.27" r="2.4" fill="url(#gO)" stroke="#a00a0a" stroke-width="0.35"/>
<circle cx="584.56" cy="414.64" r="2.4" fill="url(#gO)" stroke="#a00a0a" stroke-width="0.35"/>
<circle cx="602.77" cy="424.05" r="2.4" fill="url(#gO)" stroke="#a00a0a" stroke-width="0.35"/>
<circle cx="597.12" cy="439.12" r="2.4" fill="url(#gO)" stroke="#a00a0a" stroke-width="0.35"/>
<circle cx="578.91" cy="435.67" r="2.4" fill="url(#gO)" stroke="#a00a0a" stroke-width="0.35"/>
<circle cx="614.38" cy="387.96" r="2.4" fill="url(#gO)" stroke="#a00a0a" stroke-width="0.35"/>
<circle cx="631.64" cy="385.45" r="2.4" fill="url(#gO)" stroke="#a00a0a" stroke-width="0.35"/>
<circle cx="637.92" cy="401.45" r="2.4" fill="url(#gO)" stroke="#a00a0a" stroke-width="0.35"/>
<circle cx="619.72" cy="408.36" r="2.4" fill="url(#gO)" stroke="#a00a0a" stroke-width="0.35"/>
<circle cx="653.62" cy="417.77" r="2.4" fill="url(#gO)" stroke="#a00a0a" stroke-width="0.35"/>
<circle cx="670.88" cy="425.62" r="2.4" fill="url(#gO)" stroke="#a00a0a" stroke-width="0.35"/>
<circle cx="666.17" cy="441.32" r="2.4" fill="url(#gO)" stroke="#a00a0a" stroke-width="0.35"/>
<circle cx="647.34" cy="437.55" r="2.4" fill="url(#gO)" stroke="#a00a0a" stroke-width="0.35"/>
<circle cx="612.81" cy="456.07" r="2.4" fill="url(#gO)" stroke="#a00a0a" stroke-width="0.35"/>
<circle cx="630.08" cy="452.93" r="2.4" fill="url(#gO)" stroke="#a00a0a" stroke-width="0.35"/>
<circle cx="636.35" cy="468.62" r="2.4" fill="url(#gO)" stroke="#a00a0a" stroke-width="0.35"/>
<circle cx="617.52" cy="476.47" r="2.4" fill="url(#gO)" stroke="#a00a0a" stroke-width="0.35"/>
<circle cx="557.26" cy="429.39" r="2.4" fill="url(#gO)" stroke="#a00a0a" stroke-width="0.35"/>
<circle cx="625.37" cy="430.33" r="2.4" fill="url(#gO)" stroke="#a00a0a" stroke-width="0.35"/>
<circle cx="592.41" cy="393.61" r="2.4" fill="url(#gO)" stroke="#a00a0a" stroke-width="0.35"/>
<circle cx="586.13" cy="414.64" r="2.4" fill="url(#gO)" stroke="#a00a0a" stroke-width="0.35"/>
<circle cx="522.73" cy="459.52" r="2.4" fill="url(#gO)" stroke="#a00a0a" stroke-width="0.35"/>
<circle cx="660.52" cy="395.18" r="2.4" fill="url(#gO)" stroke="#a00a0a" stroke-width="0.35"/>
<circle cx="590.84" cy="461.72" r="2.4" fill="url(#gO)" stroke="#a00a0a" stroke-width="0.35"/>
<circle cx="581.42" cy="405.22" r="2.2" fill="url(#gO)" stroke="#a00a0a" stroke-width="0.35"/>
<circle cx="531.83" cy="452.93" r="2.2" fill="url(#gO)" stroke="#a00a0a" stroke-width="0.35"/>
<circle cx="649.85" cy="407.73" r="2.2" fill="url(#gO)" stroke="#a00a0a" stroke-width="0.35"/>
<circle cx="599.32" cy="454.81" r="2.2" fill="url(#gO)" stroke="#a00a0a" stroke-width="0.35"/>
<line x1="516.1" y1="488.5" x2="516.1" y2="477.2" stroke="#c80000" stroke-width="3.6"/>
<polygon points="516.1,468.6 519.7,477.7 512.5,477.7" fill="#c80000" stroke="none" stroke-width="1"/>
<line x1="513.8" y1="490.6" x2="501.3" y2="490.6" stroke="#2e5e1e" stroke-width="3.1"/>
<polygon points="493,490.6 501.8,487.5 501.8,493.7" fill="#2e5e1e" stroke="none" stroke-width="1"/>
<circle cx="516.1" cy="490.7" r="3.5" fill="#1278d0" stroke="#0c4c90" stroke-width="0.4"/>
<text x="513.5" y="493.4" font-size="9.6" text-anchor="start" fill="#000">c</text>
<text x="513.3" y="466.4" font-size="11.0" text-anchor="start" fill="#000">a</text>
<text x="485.8" y="494" font-size="11.0" text-anchor="start" fill="#000">b</text>
<circle cx="553.2" cy="499.4" r="10" fill="url(#gK)" stroke="#1a5c9c" stroke-width="0.4"/>
<text x="566.6" y="505.8" font-size="14.0" text-anchor="start" fill="#000">K</text>
<circle cx="604.2" cy="498.2" r="5.5" fill="url(#gVp)" stroke="#a05898" stroke-width="0.5"/>
<text x="614" y="505.8" font-size="14.0" text-anchor="start" fill="#000">V</text>
<circle cx="649.6" cy="498" r="5.5" fill="url(#gMg)" stroke="#a05818" stroke-width="0.5"/>
<text x="658" y="505.8" font-size="14.0" text-anchor="start" fill="#000">Mg</text>
</svg>
</body></html>
